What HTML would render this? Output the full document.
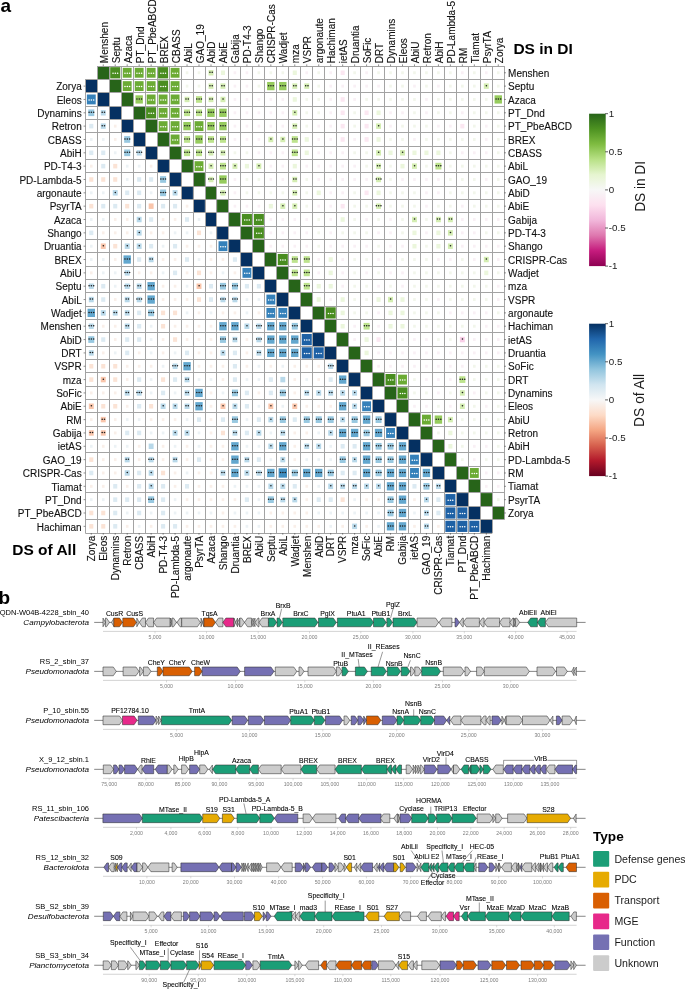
<!DOCTYPE html>
<html><head><meta charset="utf-8"><title>Figure</title>
<style>
html,body{margin:0;padding:0;background:#fff;}
body{width:685px;height:989px;overflow:hidden;}
svg{display:block;font-family:"Liberation Sans",sans-serif;will-change:transform;}
</style></head>
<body>
<svg width="685" height="989" viewBox="0 0 685 989">
<rect width="685" height="989" fill="#fff"/>
<text x="0.4" y="12.2" font-size="19" font-weight="bold">a</text>
<text x="-1.4" y="603.5" font-size="19" font-weight="bold">b</text>
<g><rect x="97.39" y="66.23" width="11.73" height="13.07" fill="#276419"/><rect x="110.20" y="67.17" width="10.05" height="11.21" fill="#498d20"/><rect x="122.77" y="67.83" width="8.86" height="9.87" fill="#6bab34"/><rect x="134.74" y="67.83" width="8.86" height="9.87" fill="#6bab34"/><rect x="146.71" y="67.83" width="8.86" height="9.87" fill="#6bab34"/><rect x="158.08" y="67.17" width="10.05" height="11.21" fill="#498d20"/><rect x="170.65" y="67.83" width="8.86" height="9.87" fill="#6bab34"/><rect x="185.73" y="71.30" width="2.63" height="2.93" fill="#f2f6eb"/><rect x="197.70" y="71.30" width="2.63" height="2.93" fill="#f2f6eb"/><rect x="208.53" y="70.04" width="4.91" height="5.47" fill="#d4edb2"/><rect x="220.92" y="70.50" width="4.07" height="4.54" fill="#ebf6dc"/><rect x="233.61" y="71.30" width="2.63" height="2.93" fill="#f9f0f5"/><rect x="245.58" y="71.30" width="2.63" height="2.93" fill="#f9f0f5"/><rect x="257.55" y="71.30" width="2.63" height="2.93" fill="#f2f6eb"/><rect x="269.52" y="71.30" width="2.63" height="2.93" fill="#f2f6eb"/><rect x="281.49" y="71.30" width="2.63" height="2.93" fill="#f2f6eb"/><rect x="292.74" y="70.50" width="4.07" height="4.54" fill="#ebf6dc"/><rect x="305.43" y="71.30" width="2.63" height="2.93" fill="#f9f0f5"/><rect x="317.40" y="71.30" width="2.63" height="2.93" fill="#f2f6eb"/><rect x="329.37" y="71.30" width="2.63" height="2.93" fill="#f9f0f5"/><rect x="340.62" y="70.50" width="4.07" height="4.54" fill="#fbe7f1"/><rect x="353.31" y="71.30" width="2.63" height="2.93" fill="#f2f6eb"/><rect x="365.28" y="71.30" width="2.63" height="2.93" fill="#f9f0f5"/><rect x="377.25" y="71.30" width="2.63" height="2.93" fill="#f2f6eb"/><rect x="389.22" y="71.30" width="2.63" height="2.93" fill="#f2f6eb"/><rect x="401.19" y="71.30" width="2.63" height="2.93" fill="#f2f6eb"/><rect x="413.16" y="71.30" width="2.63" height="2.93" fill="#f2f6eb"/><rect x="425.13" y="71.30" width="2.63" height="2.93" fill="#f2f6eb"/><rect x="437.10" y="71.30" width="2.63" height="2.93" fill="#f2f6eb"/><rect x="449.07" y="71.30" width="2.63" height="2.93" fill="#f2f6eb"/><rect x="461.04" y="71.30" width="2.63" height="2.93" fill="#f9f0f5"/><rect x="473.01" y="71.30" width="2.63" height="2.93" fill="#f2f6eb"/><rect x="484.98" y="71.30" width="2.63" height="2.93" fill="#f9f0f5"/><rect x="496.95" y="71.30" width="2.63" height="2.93" fill="#f2f6eb"/><rect x="85.42" y="79.57" width="11.73" height="13.07" fill="#053061"/><rect x="109.36" y="79.57" width="11.73" height="13.07" fill="#276419"/><rect x="122.77" y="81.17" width="8.86" height="9.87" fill="#6bab34"/><rect x="134.74" y="81.17" width="8.86" height="9.87" fill="#6bab34"/><rect x="146.71" y="81.17" width="8.86" height="9.87" fill="#6bab34"/><rect x="158.08" y="80.51" width="10.05" height="11.21" fill="#498d20"/><rect x="170.65" y="81.17" width="8.86" height="9.87" fill="#6bab34"/><rect x="185.73" y="84.64" width="2.63" height="2.93" fill="#f2f6eb"/><rect x="197.70" y="84.64" width="2.63" height="2.93" fill="#f2f6eb"/><rect x="208.53" y="83.38" width="4.91" height="5.47" fill="#d4edb2"/><rect x="220.50" y="83.38" width="4.91" height="5.47" fill="#d4edb2"/><rect x="233.61" y="84.64" width="2.63" height="2.93" fill="#f9f0f5"/><rect x="245.58" y="84.64" width="2.63" height="2.93" fill="#f9f0f5"/><rect x="257.55" y="84.64" width="2.63" height="2.93" fill="#f2f6eb"/><rect x="267.12" y="81.97" width="7.42" height="8.27" fill="#96cb5d"/><rect x="279.09" y="81.97" width="7.42" height="8.27" fill="#96cb5d"/><rect x="292.32" y="83.38" width="4.91" height="5.47" fill="#d4edb2"/><rect x="304.29" y="83.38" width="4.91" height="5.47" fill="#d4edb2"/><rect x="317.40" y="84.64" width="2.63" height="2.93" fill="#f2f6eb"/><rect x="329.37" y="84.64" width="2.63" height="2.93" fill="#f9f0f5"/><rect x="341.34" y="84.64" width="2.63" height="2.93" fill="#f9f0f5"/><rect x="353.31" y="84.64" width="2.63" height="2.93" fill="#f9f0f5"/><rect x="365.28" y="84.64" width="2.63" height="2.93" fill="#f9f0f5"/><rect x="377.25" y="84.64" width="2.63" height="2.93" fill="#f9f0f5"/><rect x="389.22" y="84.64" width="2.63" height="2.93" fill="#f2f6eb"/><rect x="401.19" y="84.64" width="2.63" height="2.93" fill="#f2f6eb"/><rect x="413.16" y="84.64" width="2.63" height="2.93" fill="#f9f0f5"/><rect x="425.13" y="84.64" width="2.63" height="2.93" fill="#f2f6eb"/><rect x="437.10" y="84.64" width="2.63" height="2.93" fill="#f9f0f5"/><rect x="449.07" y="84.64" width="2.63" height="2.93" fill="#f2f6eb"/><rect x="461.04" y="84.64" width="2.63" height="2.93" fill="#f2f6eb"/><rect x="473.01" y="84.64" width="2.63" height="2.93" fill="#f2f6eb"/><rect x="483.84" y="83.38" width="4.91" height="5.47" fill="#d4edb2"/><rect x="496.95" y="84.64" width="2.63" height="2.93" fill="#f2f6eb"/><rect x="86.86" y="94.51" width="8.86" height="9.87" fill="#3581ba"/><rect x="97.39" y="92.91" width="11.73" height="13.07" fill="#053061"/><rect x="121.33" y="92.91" width="11.73" height="13.07" fill="#276419"/><rect x="135.45" y="95.31" width="7.42" height="8.27" fill="#96cb5d"/><rect x="146.71" y="94.51" width="8.86" height="9.87" fill="#6bab34"/><rect x="158.68" y="94.51" width="8.86" height="9.87" fill="#6bab34"/><rect x="170.65" y="94.51" width="8.86" height="9.87" fill="#6bab34"/><rect x="184.59" y="96.72" width="4.91" height="5.47" fill="#d4edb2"/><rect x="196.02" y="96.11" width="5.99" height="6.67" fill="#bde38d"/><rect x="208.53" y="96.72" width="4.91" height="5.47" fill="#d4edb2"/><rect x="220.50" y="96.72" width="4.91" height="5.47" fill="#d4edb2"/><rect x="233.61" y="97.98" width="2.63" height="2.93" fill="#f9f0f5"/><rect x="245.58" y="97.98" width="2.63" height="2.93" fill="#f9f0f5"/><rect x="257.55" y="97.98" width="2.63" height="2.93" fill="#f9f0f5"/><rect x="269.52" y="97.98" width="2.63" height="2.93" fill="#f9f0f5"/><rect x="281.49" y="97.98" width="2.63" height="2.93" fill="#f9f0f5"/><rect x="292.74" y="97.18" width="4.07" height="4.54" fill="#ebf6dc"/><rect x="305.43" y="97.98" width="2.63" height="2.93" fill="#f2f6eb"/><rect x="317.40" y="97.98" width="2.63" height="2.93" fill="#f2f6eb"/><rect x="329.37" y="97.98" width="2.63" height="2.93" fill="#f9f0f5"/><rect x="340.62" y="97.18" width="4.07" height="4.54" fill="#fbe7f1"/><rect x="353.31" y="97.98" width="2.63" height="2.93" fill="#f9f0f5"/><rect x="365.28" y="97.98" width="2.63" height="2.93" fill="#f2f6eb"/><rect x="377.25" y="97.98" width="2.63" height="2.93" fill="#f2f6eb"/><rect x="389.22" y="97.98" width="2.63" height="2.93" fill="#f2f6eb"/><rect x="401.19" y="97.98" width="2.63" height="2.93" fill="#f2f6eb"/><rect x="413.16" y="97.98" width="2.63" height="2.93" fill="#f2f6eb"/><rect x="425.13" y="97.98" width="2.63" height="2.93" fill="#f9f0f5"/><rect x="437.10" y="97.98" width="2.63" height="2.93" fill="#f2f6eb"/><rect x="449.07" y="97.98" width="2.63" height="2.93" fill="#f2f6eb"/><rect x="461.04" y="97.98" width="2.63" height="2.93" fill="#f2f6eb"/><rect x="473.01" y="97.98" width="2.63" height="2.93" fill="#f2f6eb"/><rect x="484.98" y="97.98" width="2.63" height="2.93" fill="#f2f6eb"/><rect x="494.55" y="95.31" width="7.42" height="8.27" fill="#96cb5d"/><rect x="88.29" y="109.45" width="5.99" height="6.67" fill="#98c8e0"/><rect x="100.80" y="110.06" width="4.91" height="5.47" fill="#b8d8e9"/><rect x="109.36" y="106.25" width="11.73" height="13.07" fill="#053061"/><rect x="133.30" y="106.25" width="11.73" height="13.07" fill="#276419"/><rect x="146.11" y="107.19" width="10.05" height="11.21" fill="#498d20"/><rect x="158.68" y="107.85" width="8.86" height="9.87" fill="#6bab34"/><rect x="170.65" y="107.85" width="8.86" height="9.87" fill="#6bab34"/><rect x="184.05" y="109.45" width="5.99" height="6.67" fill="#bde38d"/><rect x="196.02" y="109.45" width="5.99" height="6.67" fill="#bde38d"/><rect x="207.27" y="108.65" width="7.42" height="8.27" fill="#96cb5d"/><rect x="219.24" y="108.65" width="7.42" height="8.27" fill="#96cb5d"/><rect x="233.61" y="111.32" width="2.63" height="2.93" fill="#f9f0f5"/><rect x="245.58" y="111.32" width="2.63" height="2.93" fill="#f9f0f5"/><rect x="257.55" y="111.32" width="2.63" height="2.93" fill="#f9f0f5"/><rect x="269.52" y="111.32" width="2.63" height="2.93" fill="#f9f0f5"/><rect x="281.49" y="111.32" width="2.63" height="2.93" fill="#f9f0f5"/><rect x="292.32" y="110.06" width="4.91" height="5.47" fill="#d4edb2"/><rect x="305.43" y="111.32" width="2.63" height="2.93" fill="#f2f6eb"/><rect x="317.40" y="111.32" width="2.63" height="2.93" fill="#f2f6eb"/><rect x="329.37" y="111.32" width="2.63" height="2.93" fill="#f9f0f5"/><rect x="340.62" y="110.52" width="4.07" height="4.54" fill="#fbe7f1"/><rect x="353.31" y="111.32" width="2.63" height="2.93" fill="#f2f6eb"/><rect x="364.56" y="110.52" width="4.07" height="4.54" fill="#fbe7f1"/><rect x="376.53" y="110.52" width="4.07" height="4.54" fill="#ebf6dc"/><rect x="389.22" y="111.32" width="2.63" height="2.93" fill="#f9f0f5"/><rect x="401.19" y="111.32" width="2.63" height="2.93" fill="#f9f0f5"/><rect x="413.16" y="111.32" width="2.63" height="2.93" fill="#f2f6eb"/><rect x="425.13" y="111.32" width="2.63" height="2.93" fill="#f9f0f5"/><rect x="437.10" y="111.32" width="2.63" height="2.93" fill="#f2f6eb"/><rect x="449.07" y="111.32" width="2.63" height="2.93" fill="#f2f6eb"/><rect x="461.04" y="111.32" width="2.63" height="2.93" fill="#f9f0f5"/><rect x="473.01" y="111.32" width="2.63" height="2.93" fill="#f2f6eb"/><rect x="484.98" y="111.32" width="2.63" height="2.93" fill="#f2f6eb"/><rect x="496.95" y="111.32" width="2.63" height="2.93" fill="#f2f6eb"/><rect x="89.25" y="123.86" width="4.07" height="4.54" fill="#dceaf2"/><rect x="100.80" y="123.40" width="4.91" height="5.47" fill="#b8d8e9"/><rect x="113.91" y="124.66" width="2.63" height="2.93" fill="#f9efe9"/><rect x="121.33" y="119.59" width="11.73" height="13.07" fill="#053061"/><rect x="145.27" y="119.59" width="11.73" height="13.07" fill="#276419"/><rect x="158.68" y="121.19" width="8.86" height="9.87" fill="#6bab34"/><rect x="170.65" y="121.19" width="8.86" height="9.87" fill="#6bab34"/><rect x="183.33" y="121.99" width="7.42" height="8.27" fill="#96cb5d"/><rect x="194.59" y="121.19" width="8.86" height="9.87" fill="#6bab34"/><rect x="207.27" y="121.99" width="7.42" height="8.27" fill="#96cb5d"/><rect x="219.24" y="121.99" width="7.42" height="8.27" fill="#96cb5d"/><rect x="233.61" y="124.66" width="2.63" height="2.93" fill="#f9f0f5"/><rect x="245.58" y="124.66" width="2.63" height="2.93" fill="#f9f0f5"/><rect x="257.55" y="124.66" width="2.63" height="2.93" fill="#f9f0f5"/><rect x="269.52" y="124.66" width="2.63" height="2.93" fill="#f9f0f5"/><rect x="281.49" y="124.66" width="2.63" height="2.93" fill="#f9f0f5"/><rect x="292.32" y="123.40" width="4.91" height="5.47" fill="#d4edb2"/><rect x="305.43" y="124.66" width="2.63" height="2.93" fill="#f2f6eb"/><rect x="317.40" y="124.66" width="2.63" height="2.93" fill="#f9f0f5"/><rect x="329.37" y="124.66" width="2.63" height="2.93" fill="#f9f0f5"/><rect x="340.62" y="123.86" width="4.07" height="4.54" fill="#fbe7f1"/><rect x="353.31" y="124.66" width="2.63" height="2.93" fill="#f2f6eb"/><rect x="364.56" y="123.86" width="4.07" height="4.54" fill="#fbe7f1"/><rect x="376.11" y="123.40" width="4.91" height="5.47" fill="#d4edb2"/><rect x="389.22" y="124.66" width="2.63" height="2.93" fill="#f9f0f5"/><rect x="401.19" y="124.66" width="2.63" height="2.93" fill="#f2f6eb"/><rect x="413.16" y="124.66" width="2.63" height="2.93" fill="#f2f6eb"/><rect x="425.13" y="124.66" width="2.63" height="2.93" fill="#f2f6eb"/><rect x="437.10" y="124.66" width="2.63" height="2.93" fill="#f9f0f5"/><rect x="449.07" y="124.66" width="2.63" height="2.93" fill="#f9f0f5"/><rect x="460.32" y="123.86" width="4.07" height="4.54" fill="#fbe7f1"/><rect x="473.01" y="124.66" width="2.63" height="2.93" fill="#f2f6eb"/><rect x="484.98" y="124.66" width="2.63" height="2.93" fill="#f9f0f5"/><rect x="496.95" y="124.66" width="2.63" height="2.93" fill="#f2f6eb"/><rect x="89.97" y="138.00" width="2.63" height="2.93" fill="#ecf2f5"/><rect x="101.94" y="138.00" width="2.63" height="2.93" fill="#ecf2f5"/><rect x="113.91" y="138.00" width="2.63" height="2.93" fill="#f9efe9"/><rect x="124.20" y="136.13" width="5.99" height="6.67" fill="#98c8e0"/><rect x="133.30" y="132.93" width="11.73" height="13.07" fill="#053061"/><rect x="157.24" y="132.93" width="11.73" height="13.07" fill="#276419"/><rect x="170.65" y="134.53" width="8.86" height="9.87" fill="#6bab34"/><rect x="184.05" y="136.13" width="5.99" height="6.67" fill="#bde38d"/><rect x="195.30" y="135.33" width="7.42" height="8.27" fill="#96cb5d"/><rect x="207.99" y="136.13" width="5.99" height="6.67" fill="#bde38d"/><rect x="219.96" y="136.13" width="5.99" height="6.67" fill="#bde38d"/><rect x="233.61" y="138.00" width="2.63" height="2.93" fill="#f9f0f5"/><rect x="245.58" y="138.00" width="2.63" height="2.93" fill="#f9f0f5"/><rect x="257.55" y="138.00" width="2.63" height="2.93" fill="#f9f0f5"/><rect x="268.38" y="136.74" width="4.91" height="5.47" fill="#d4edb2"/><rect x="280.35" y="136.74" width="4.91" height="5.47" fill="#d4edb2"/><rect x="291.78" y="136.13" width="5.99" height="6.67" fill="#bde38d"/><rect x="304.71" y="137.20" width="4.07" height="4.54" fill="#ebf6dc"/><rect x="317.40" y="138.00" width="2.63" height="2.93" fill="#f9f0f5"/><rect x="329.37" y="138.00" width="2.63" height="2.93" fill="#f9f0f5"/><rect x="340.62" y="137.20" width="4.07" height="4.54" fill="#fbe7f1"/><rect x="353.31" y="138.00" width="2.63" height="2.93" fill="#f9f0f5"/><rect x="364.56" y="137.20" width="4.07" height="4.54" fill="#fbe7f1"/><rect x="376.53" y="137.20" width="4.07" height="4.54" fill="#ebf6dc"/><rect x="389.22" y="138.00" width="2.63" height="2.93" fill="#f2f6eb"/><rect x="401.19" y="138.00" width="2.63" height="2.93" fill="#f2f6eb"/><rect x="413.16" y="138.00" width="2.63" height="2.93" fill="#f9f0f5"/><rect x="425.13" y="138.00" width="2.63" height="2.93" fill="#f2f6eb"/><rect x="437.10" y="138.00" width="2.63" height="2.93" fill="#f2f6eb"/><rect x="449.07" y="138.00" width="2.63" height="2.93" fill="#f2f6eb"/><rect x="461.04" y="138.00" width="2.63" height="2.93" fill="#f2f6eb"/><rect x="473.01" y="138.00" width="2.63" height="2.93" fill="#f2f6eb"/><rect x="484.98" y="138.00" width="2.63" height="2.93" fill="#f9f0f5"/><rect x="496.95" y="138.00" width="2.63" height="2.93" fill="#f2f6eb"/><rect x="89.25" y="150.54" width="4.07" height="4.54" fill="#dceaf2"/><rect x="101.22" y="150.54" width="4.07" height="4.54" fill="#dceaf2"/><rect x="113.91" y="151.34" width="2.63" height="2.93" fill="#ecf2f5"/><rect x="124.20" y="149.47" width="5.99" height="6.67" fill="#98c8e0"/><rect x="136.71" y="150.08" width="4.91" height="5.47" fill="#b8d8e9"/><rect x="145.27" y="146.27" width="11.73" height="13.07" fill="#053061"/><rect x="169.21" y="146.27" width="11.73" height="13.07" fill="#276419"/><rect x="184.05" y="149.47" width="5.99" height="6.67" fill="#bde38d"/><rect x="196.02" y="149.47" width="5.99" height="6.67" fill="#bde38d"/><rect x="208.53" y="150.08" width="4.91" height="5.47" fill="#d4edb2"/><rect x="220.50" y="150.08" width="4.91" height="5.47" fill="#d4edb2"/><rect x="233.61" y="151.34" width="2.63" height="2.93" fill="#f2f6eb"/><rect x="245.58" y="151.34" width="2.63" height="2.93" fill="#f2f6eb"/><rect x="257.55" y="151.34" width="2.63" height="2.93" fill="#f9f0f5"/><rect x="269.52" y="151.34" width="2.63" height="2.93" fill="#f9f0f5"/><rect x="281.49" y="151.34" width="2.63" height="2.93" fill="#f9f0f5"/><rect x="291.78" y="149.47" width="5.99" height="6.67" fill="#bde38d"/><rect x="304.71" y="150.54" width="4.07" height="4.54" fill="#ebf6dc"/><rect x="317.40" y="151.34" width="2.63" height="2.93" fill="#f9f0f5"/><rect x="329.37" y="151.34" width="2.63" height="2.93" fill="#f9f0f5"/><rect x="341.34" y="151.34" width="2.63" height="2.93" fill="#f9f0f5"/><rect x="353.31" y="151.34" width="2.63" height="2.93" fill="#f2f6eb"/><rect x="365.28" y="151.34" width="2.63" height="2.93" fill="#f2f6eb"/><rect x="376.11" y="150.08" width="4.91" height="5.47" fill="#d4edb2"/><rect x="388.50" y="150.54" width="4.07" height="4.54" fill="#ebf6dc"/><rect x="400.05" y="150.08" width="4.91" height="5.47" fill="#d4edb2"/><rect x="412.44" y="150.54" width="4.07" height="4.54" fill="#ebf6dc"/><rect x="424.41" y="150.54" width="4.07" height="4.54" fill="#ebf6dc"/><rect x="436.38" y="150.54" width="4.07" height="4.54" fill="#ebf6dc"/><rect x="449.07" y="151.34" width="2.63" height="2.93" fill="#f2f6eb"/><rect x="461.04" y="151.34" width="2.63" height="2.93" fill="#f9f0f5"/><rect x="473.01" y="151.34" width="2.63" height="2.93" fill="#f9f0f5"/><rect x="484.98" y="151.34" width="2.63" height="2.93" fill="#f9f0f5"/><rect x="496.95" y="151.34" width="2.63" height="2.93" fill="#f2f6eb"/><rect x="89.97" y="164.68" width="2.63" height="2.93" fill="#f9efe9"/><rect x="101.22" y="163.88" width="4.07" height="4.54" fill="#dceaf2"/><rect x="113.19" y="163.88" width="4.07" height="4.54" fill="#fbe3d5"/><rect x="125.88" y="164.68" width="2.63" height="2.93" fill="#ecf2f5"/><rect x="137.85" y="164.68" width="2.63" height="2.93" fill="#ecf2f5"/><rect x="149.82" y="164.68" width="2.63" height="2.93" fill="#f9efe9"/><rect x="157.24" y="159.61" width="11.73" height="13.07" fill="#053061"/><rect x="181.18" y="159.61" width="11.73" height="13.07" fill="#276419"/><rect x="194.59" y="161.21" width="8.86" height="9.87" fill="#6bab34"/><rect x="208.53" y="163.42" width="4.91" height="5.47" fill="#d4edb2"/><rect x="219.96" y="162.81" width="5.99" height="6.67" fill="#bde38d"/><rect x="232.47" y="163.42" width="4.91" height="5.47" fill="#d4edb2"/><rect x="244.86" y="163.88" width="4.07" height="4.54" fill="#ebf6dc"/><rect x="256.41" y="163.42" width="4.91" height="5.47" fill="#d4edb2"/><rect x="269.52" y="164.68" width="2.63" height="2.93" fill="#f9f0f5"/><rect x="281.49" y="164.68" width="2.63" height="2.93" fill="#f9f0f5"/><rect x="292.74" y="163.88" width="4.07" height="4.54" fill="#ebf6dc"/><rect x="305.43" y="164.68" width="2.63" height="2.93" fill="#f9f0f5"/><rect x="317.40" y="164.68" width="2.63" height="2.93" fill="#f9f0f5"/><rect x="329.37" y="164.68" width="2.63" height="2.93" fill="#f9f0f5"/><rect x="341.34" y="164.68" width="2.63" height="2.93" fill="#f9f0f5"/><rect x="353.31" y="164.68" width="2.63" height="2.93" fill="#f9f0f5"/><rect x="365.28" y="164.68" width="2.63" height="2.93" fill="#f2f6eb"/><rect x="376.11" y="163.42" width="4.91" height="5.47" fill="#d4edb2"/><rect x="389.22" y="164.68" width="2.63" height="2.93" fill="#f2f6eb"/><rect x="400.47" y="163.88" width="4.07" height="4.54" fill="#ebf6dc"/><rect x="412.02" y="163.42" width="4.91" height="5.47" fill="#d4edb2"/><rect x="425.13" y="164.68" width="2.63" height="2.93" fill="#f2f6eb"/><rect x="435.42" y="162.81" width="5.99" height="6.67" fill="#bde38d"/><rect x="449.07" y="164.68" width="2.63" height="2.93" fill="#f2f6eb"/><rect x="461.04" y="164.68" width="2.63" height="2.93" fill="#f2f6eb"/><rect x="473.01" y="164.68" width="2.63" height="2.93" fill="#f2f6eb"/><rect x="484.98" y="164.68" width="2.63" height="2.93" fill="#f2f6eb"/><rect x="496.95" y="164.68" width="2.63" height="2.93" fill="#f2f6eb"/><rect x="89.25" y="177.22" width="4.07" height="4.54" fill="#fbe3d5"/><rect x="101.22" y="177.22" width="4.07" height="4.54" fill="#fbe3d5"/><rect x="113.19" y="177.22" width="4.07" height="4.54" fill="#fbe3d5"/><rect x="125.88" y="178.02" width="2.63" height="2.93" fill="#ecf2f5"/><rect x="137.13" y="177.22" width="4.07" height="4.54" fill="#dceaf2"/><rect x="149.10" y="177.22" width="4.07" height="4.54" fill="#dceaf2"/><rect x="160.11" y="176.16" width="5.99" height="6.67" fill="#98c8e0"/><rect x="169.21" y="172.95" width="11.73" height="13.07" fill="#053061"/><rect x="193.15" y="172.95" width="11.73" height="13.07" fill="#276419"/><rect x="208.53" y="176.76" width="4.91" height="5.47" fill="#d4edb2"/><rect x="219.24" y="175.35" width="7.42" height="8.27" fill="#96cb5d"/><rect x="233.61" y="178.02" width="2.63" height="2.93" fill="#f9f0f5"/><rect x="245.58" y="178.02" width="2.63" height="2.93" fill="#f2f6eb"/><rect x="257.55" y="178.02" width="2.63" height="2.93" fill="#f2f6eb"/><rect x="269.52" y="178.02" width="2.63" height="2.93" fill="#f9f0f5"/><rect x="281.49" y="178.02" width="2.63" height="2.93" fill="#f9f0f5"/><rect x="292.32" y="176.76" width="4.91" height="5.47" fill="#d4edb2"/><rect x="305.43" y="178.02" width="2.63" height="2.93" fill="#f2f6eb"/><rect x="317.40" y="178.02" width="2.63" height="2.93" fill="#f9f0f5"/><rect x="329.37" y="178.02" width="2.63" height="2.93" fill="#f9f0f5"/><rect x="341.34" y="178.02" width="2.63" height="2.93" fill="#f9f0f5"/><rect x="353.31" y="178.02" width="2.63" height="2.93" fill="#f9f0f5"/><rect x="365.28" y="178.02" width="2.63" height="2.93" fill="#f9f0f5"/><rect x="376.11" y="176.76" width="4.91" height="5.47" fill="#d4edb2"/><rect x="389.22" y="178.02" width="2.63" height="2.93" fill="#f2f6eb"/><rect x="401.19" y="178.02" width="2.63" height="2.93" fill="#f9f0f5"/><rect x="413.16" y="178.02" width="2.63" height="2.93" fill="#f9f0f5"/><rect x="425.13" y="178.02" width="2.63" height="2.93" fill="#f9f0f5"/><rect x="437.10" y="178.02" width="2.63" height="2.93" fill="#f9f0f5"/><rect x="449.07" y="178.02" width="2.63" height="2.93" fill="#f2f6eb"/><rect x="461.04" y="178.02" width="2.63" height="2.93" fill="#f2f6eb"/><rect x="473.01" y="178.02" width="2.63" height="2.93" fill="#f2f6eb"/><rect x="484.98" y="178.02" width="2.63" height="2.93" fill="#f9f0f5"/><rect x="496.95" y="178.02" width="2.63" height="2.93" fill="#f2f6eb"/><rect x="89.97" y="191.36" width="2.63" height="2.93" fill="#ecf2f5"/><rect x="101.94" y="191.36" width="2.63" height="2.93" fill="#ecf2f5"/><rect x="112.77" y="190.10" width="4.91" height="5.47" fill="#b8d8e9"/><rect x="125.16" y="190.56" width="4.07" height="4.54" fill="#dceaf2"/><rect x="137.13" y="190.56" width="4.07" height="4.54" fill="#dceaf2"/><rect x="149.82" y="191.36" width="2.63" height="2.93" fill="#ecf2f5"/><rect x="160.11" y="189.49" width="5.99" height="6.67" fill="#98c8e0"/><rect x="172.62" y="190.10" width="4.91" height="5.47" fill="#b8d8e9"/><rect x="181.18" y="186.29" width="11.73" height="13.07" fill="#053061"/><rect x="205.12" y="186.29" width="11.73" height="13.07" fill="#276419"/><rect x="220.50" y="190.10" width="4.91" height="5.47" fill="#d4edb2"/><rect x="233.61" y="191.36" width="2.63" height="2.93" fill="#f9f0f5"/><rect x="245.58" y="191.36" width="2.63" height="2.93" fill="#f2f6eb"/><rect x="257.55" y="191.36" width="2.63" height="2.93" fill="#f2f6eb"/><rect x="269.52" y="191.36" width="2.63" height="2.93" fill="#f2f6eb"/><rect x="281.49" y="191.36" width="2.63" height="2.93" fill="#f2f6eb"/><rect x="292.32" y="190.10" width="4.91" height="5.47" fill="#d4edb2"/><rect x="305.43" y="191.36" width="2.63" height="2.93" fill="#f2f6eb"/><rect x="316.68" y="190.56" width="4.07" height="4.54" fill="#ebf6dc"/><rect x="329.37" y="191.36" width="2.63" height="2.93" fill="#f9f0f5"/><rect x="341.34" y="191.36" width="2.63" height="2.93" fill="#f9f0f5"/><rect x="353.31" y="191.36" width="2.63" height="2.93" fill="#f2f6eb"/><rect x="364.56" y="190.56" width="4.07" height="4.54" fill="#fbe7f1"/><rect x="376.53" y="190.56" width="4.07" height="4.54" fill="#ebf6dc"/><rect x="389.22" y="191.36" width="2.63" height="2.93" fill="#f2f6eb"/><rect x="401.19" y="191.36" width="2.63" height="2.93" fill="#f2f6eb"/><rect x="413.16" y="191.36" width="2.63" height="2.93" fill="#f2f6eb"/><rect x="425.13" y="191.36" width="2.63" height="2.93" fill="#f9f0f5"/><rect x="437.10" y="191.36" width="2.63" height="2.93" fill="#f9f0f5"/><rect x="449.07" y="191.36" width="2.63" height="2.93" fill="#f2f6eb"/><rect x="461.04" y="191.36" width="2.63" height="2.93" fill="#f2f6eb"/><rect x="473.01" y="191.36" width="2.63" height="2.93" fill="#f2f6eb"/><rect x="484.98" y="191.36" width="2.63" height="2.93" fill="#f2f6eb"/><rect x="496.95" y="191.36" width="2.63" height="2.93" fill="#f2f6eb"/><rect x="89.25" y="203.90" width="4.07" height="4.54" fill="#fbe3d5"/><rect x="101.22" y="203.90" width="4.07" height="4.54" fill="#dceaf2"/><rect x="113.19" y="203.90" width="4.07" height="4.54" fill="#dceaf2"/><rect x="125.16" y="203.90" width="4.07" height="4.54" fill="#fbe3d5"/><rect x="137.13" y="203.90" width="4.07" height="4.54" fill="#dceaf2"/><rect x="148.68" y="203.44" width="4.91" height="5.47" fill="#f9c5ab"/><rect x="161.07" y="203.90" width="4.07" height="4.54" fill="#dceaf2"/><rect x="173.04" y="203.90" width="4.07" height="4.54" fill="#dceaf2"/><rect x="185.73" y="204.70" width="2.63" height="2.93" fill="#f9efe9"/><rect x="193.15" y="199.63" width="11.73" height="13.07" fill="#053061"/><rect x="217.09" y="199.63" width="11.73" height="13.07" fill="#276419"/><rect x="233.61" y="204.70" width="2.63" height="2.93" fill="#f9f0f5"/><rect x="245.58" y="204.70" width="2.63" height="2.93" fill="#f9f0f5"/><rect x="257.55" y="204.70" width="2.63" height="2.93" fill="#f9f0f5"/><rect x="268.80" y="203.90" width="4.07" height="4.54" fill="#ebf6dc"/><rect x="280.35" y="203.44" width="4.91" height="5.47" fill="#d4edb2"/><rect x="292.32" y="203.44" width="4.91" height="5.47" fill="#d4edb2"/><rect x="305.43" y="204.70" width="2.63" height="2.93" fill="#f2f6eb"/><rect x="317.40" y="204.70" width="2.63" height="2.93" fill="#f9f0f5"/><rect x="329.37" y="204.70" width="2.63" height="2.93" fill="#f9f0f5"/><rect x="340.62" y="203.90" width="4.07" height="4.54" fill="#fbe7f1"/><rect x="353.31" y="204.70" width="2.63" height="2.93" fill="#f2f6eb"/><rect x="365.28" y="204.70" width="2.63" height="2.93" fill="#f2f6eb"/><rect x="376.11" y="203.44" width="4.91" height="5.47" fill="#d4edb2"/><rect x="389.22" y="204.70" width="2.63" height="2.93" fill="#f2f6eb"/><rect x="401.19" y="204.70" width="2.63" height="2.93" fill="#f2f6eb"/><rect x="413.16" y="204.70" width="2.63" height="2.93" fill="#f2f6eb"/><rect x="425.13" y="204.70" width="2.63" height="2.93" fill="#f9f0f5"/><rect x="437.10" y="204.70" width="2.63" height="2.93" fill="#f2f6eb"/><rect x="449.07" y="204.70" width="2.63" height="2.93" fill="#f2f6eb"/><rect x="461.04" y="204.70" width="2.63" height="2.93" fill="#f9f0f5"/><rect x="473.01" y="204.70" width="2.63" height="2.93" fill="#f2f6eb"/><rect x="484.98" y="204.70" width="2.63" height="2.93" fill="#f2f6eb"/><rect x="496.95" y="204.70" width="2.63" height="2.93" fill="#f2f6eb"/><rect x="89.97" y="218.04" width="2.63" height="2.93" fill="#ecf2f5"/><rect x="101.94" y="218.04" width="2.63" height="2.93" fill="#ecf2f5"/><rect x="113.91" y="218.04" width="2.63" height="2.93" fill="#f9efe9"/><rect x="125.88" y="218.04" width="2.63" height="2.93" fill="#f9efe9"/><rect x="136.71" y="216.78" width="4.91" height="5.47" fill="#b8d8e9"/><rect x="149.10" y="217.24" width="4.07" height="4.54" fill="#dceaf2"/><rect x="161.79" y="218.04" width="2.63" height="2.93" fill="#f9efe9"/><rect x="173.76" y="218.04" width="2.63" height="2.93" fill="#f9efe9"/><rect x="185.01" y="217.24" width="4.07" height="4.54" fill="#dceaf2"/><rect x="197.70" y="218.04" width="2.63" height="2.93" fill="#ecf2f5"/><rect x="205.12" y="212.97" width="11.73" height="13.07" fill="#053061"/><rect x="229.06" y="212.97" width="11.73" height="13.07" fill="#276419"/><rect x="241.87" y="213.91" width="10.05" height="11.21" fill="#498d20"/><rect x="253.84" y="213.91" width="10.05" height="11.21" fill="#498d20"/><rect x="269.52" y="218.04" width="2.63" height="2.93" fill="#f9f0f5"/><rect x="281.49" y="218.04" width="2.63" height="2.93" fill="#f9f0f5"/><rect x="293.46" y="218.04" width="2.63" height="2.93" fill="#f9f0f5"/><rect x="305.43" y="218.04" width="2.63" height="2.93" fill="#f9f0f5"/><rect x="317.40" y="218.04" width="2.63" height="2.93" fill="#f2f6eb"/><rect x="329.37" y="218.04" width="2.63" height="2.93" fill="#f9f0f5"/><rect x="340.62" y="217.24" width="4.07" height="4.54" fill="#ebf6dc"/><rect x="353.31" y="218.04" width="2.63" height="2.93" fill="#f2f6eb"/><rect x="365.28" y="218.04" width="2.63" height="2.93" fill="#f9f0f5"/><rect x="377.25" y="218.04" width="2.63" height="2.93" fill="#f2f6eb"/><rect x="389.22" y="218.04" width="2.63" height="2.93" fill="#f9f0f5"/><rect x="401.19" y="218.04" width="2.63" height="2.93" fill="#f2f6eb"/><rect x="412.02" y="216.78" width="4.91" height="5.47" fill="#d4edb2"/><rect x="425.13" y="218.04" width="2.63" height="2.93" fill="#f2f6eb"/><rect x="435.96" y="216.78" width="4.91" height="5.47" fill="#d4edb2"/><rect x="447.93" y="216.78" width="4.91" height="5.47" fill="#d4edb2"/><rect x="461.04" y="218.04" width="2.63" height="2.93" fill="#f9f0f5"/><rect x="473.01" y="218.04" width="2.63" height="2.93" fill="#f9f0f5"/><rect x="484.98" y="218.04" width="2.63" height="2.93" fill="#f9f0f5"/><rect x="496.95" y="218.04" width="2.63" height="2.93" fill="#f9f0f5"/><rect x="89.25" y="230.58" width="4.07" height="4.54" fill="#dceaf2"/><rect x="101.94" y="231.38" width="2.63" height="2.93" fill="#f9efe9"/><rect x="113.91" y="231.38" width="2.63" height="2.93" fill="#f9efe9"/><rect x="125.88" y="231.38" width="2.63" height="2.93" fill="#f9efe9"/><rect x="136.71" y="230.12" width="4.91" height="5.47" fill="#b8d8e9"/><rect x="149.82" y="231.38" width="2.63" height="2.93" fill="#f9efe9"/><rect x="161.79" y="231.38" width="2.63" height="2.93" fill="#f9efe9"/><rect x="173.76" y="231.38" width="2.63" height="2.93" fill="#ecf2f5"/><rect x="185.73" y="231.38" width="2.63" height="2.93" fill="#ecf2f5"/><rect x="196.98" y="230.58" width="4.07" height="4.54" fill="#fbe3d5"/><rect x="209.67" y="231.38" width="2.63" height="2.93" fill="#ecf2f5"/><rect x="217.09" y="226.31" width="11.73" height="13.07" fill="#053061"/><rect x="241.03" y="226.31" width="11.73" height="13.07" fill="#276419"/><rect x="253.84" y="227.25" width="10.05" height="11.21" fill="#498d20"/><rect x="269.52" y="231.38" width="2.63" height="2.93" fill="#f9f0f5"/><rect x="281.49" y="231.38" width="2.63" height="2.93" fill="#f9f0f5"/><rect x="293.46" y="231.38" width="2.63" height="2.93" fill="#f9f0f5"/><rect x="305.43" y="231.38" width="2.63" height="2.93" fill="#f9f0f5"/><rect x="317.40" y="231.38" width="2.63" height="2.93" fill="#f2f6eb"/><rect x="329.37" y="231.38" width="2.63" height="2.93" fill="#f9f0f5"/><rect x="341.34" y="231.38" width="2.63" height="2.93" fill="#f2f6eb"/><rect x="353.31" y="231.38" width="2.63" height="2.93" fill="#f2f6eb"/><rect x="365.28" y="231.38" width="2.63" height="2.93" fill="#f2f6eb"/><rect x="377.25" y="231.38" width="2.63" height="2.93" fill="#f9f0f5"/><rect x="389.22" y="231.38" width="2.63" height="2.93" fill="#f9f0f5"/><rect x="401.19" y="231.38" width="2.63" height="2.93" fill="#f2f6eb"/><rect x="412.44" y="230.58" width="4.07" height="4.54" fill="#ebf6dc"/><rect x="425.13" y="231.38" width="2.63" height="2.93" fill="#f9f0f5"/><rect x="436.38" y="230.58" width="4.07" height="4.54" fill="#ebf6dc"/><rect x="447.93" y="230.12" width="4.91" height="5.47" fill="#d4edb2"/><rect x="461.04" y="231.38" width="2.63" height="2.93" fill="#f9f0f5"/><rect x="473.01" y="231.38" width="2.63" height="2.93" fill="#f9f0f5"/><rect x="484.98" y="231.38" width="2.63" height="2.93" fill="#f2f6eb"/><rect x="496.95" y="231.38" width="2.63" height="2.93" fill="#f2f6eb"/><rect x="89.97" y="244.72" width="2.63" height="2.93" fill="#ecf2f5"/><rect x="100.80" y="243.46" width="4.91" height="5.47" fill="#f9c5ab"/><rect x="113.19" y="243.92" width="4.07" height="4.54" fill="#fbe3d5"/><rect x="124.74" y="243.46" width="4.91" height="5.47" fill="#b8d8e9"/><rect x="136.71" y="243.46" width="4.91" height="5.47" fill="#b8d8e9"/><rect x="149.10" y="243.92" width="4.07" height="4.54" fill="#dceaf2"/><rect x="161.79" y="244.72" width="2.63" height="2.93" fill="#ecf2f5"/><rect x="173.04" y="243.92" width="4.07" height="4.54" fill="#dceaf2"/><rect x="185.73" y="244.72" width="2.63" height="2.93" fill="#f9efe9"/><rect x="197.70" y="244.72" width="2.63" height="2.93" fill="#f9efe9"/><rect x="209.67" y="244.72" width="2.63" height="2.93" fill="#f9efe9"/><rect x="218.53" y="241.25" width="8.86" height="9.87" fill="#3581ba"/><rect x="229.06" y="239.65" width="11.73" height="13.07" fill="#053061"/><rect x="253.00" y="239.65" width="11.73" height="13.07" fill="#276419"/><rect x="269.52" y="244.72" width="2.63" height="2.93" fill="#f9f0f5"/><rect x="281.49" y="244.72" width="2.63" height="2.93" fill="#f9f0f5"/><rect x="293.46" y="244.72" width="2.63" height="2.93" fill="#f9f0f5"/><rect x="305.43" y="244.72" width="2.63" height="2.93" fill="#f9f0f5"/><rect x="317.40" y="244.72" width="2.63" height="2.93" fill="#f2f6eb"/><rect x="329.37" y="244.72" width="2.63" height="2.93" fill="#f9f0f5"/><rect x="341.34" y="244.72" width="2.63" height="2.93" fill="#f9f0f5"/><rect x="353.31" y="244.72" width="2.63" height="2.93" fill="#f9f0f5"/><rect x="365.28" y="244.72" width="2.63" height="2.93" fill="#f9f0f5"/><rect x="377.25" y="244.72" width="2.63" height="2.93" fill="#f2f6eb"/><rect x="389.22" y="244.72" width="2.63" height="2.93" fill="#f9f0f5"/><rect x="401.19" y="244.72" width="2.63" height="2.93" fill="#f9f0f5"/><rect x="412.44" y="243.92" width="4.07" height="4.54" fill="#ebf6dc"/><rect x="425.13" y="244.72" width="2.63" height="2.93" fill="#f2f6eb"/><rect x="436.38" y="243.92" width="4.07" height="4.54" fill="#ebf6dc"/><rect x="447.93" y="243.46" width="4.91" height="5.47" fill="#d4edb2"/><rect x="461.04" y="244.72" width="2.63" height="2.93" fill="#f9f0f5"/><rect x="473.01" y="244.72" width="2.63" height="2.93" fill="#f9f0f5"/><rect x="484.98" y="244.72" width="2.63" height="2.93" fill="#f9f0f5"/><rect x="496.95" y="244.72" width="2.63" height="2.93" fill="#f9f0f5"/><rect x="89.97" y="258.06" width="2.63" height="2.93" fill="#ecf2f5"/><rect x="101.94" y="258.06" width="2.63" height="2.93" fill="#ecf2f5"/><rect x="113.91" y="258.06" width="2.63" height="2.93" fill="#f9efe9"/><rect x="123.48" y="255.39" width="7.42" height="8.27" fill="#63a7ce"/><rect x="137.13" y="257.26" width="4.07" height="4.54" fill="#dceaf2"/><rect x="148.68" y="256.80" width="4.91" height="5.47" fill="#b8d8e9"/><rect x="161.79" y="258.06" width="2.63" height="2.93" fill="#f9efe9"/><rect x="173.76" y="258.06" width="2.63" height="2.93" fill="#f9efe9"/><rect x="185.01" y="257.26" width="4.07" height="4.54" fill="#dceaf2"/><rect x="197.70" y="258.06" width="2.63" height="2.93" fill="#ecf2f5"/><rect x="209.67" y="258.06" width="2.63" height="2.93" fill="#f9efe9"/><rect x="221.64" y="258.06" width="2.63" height="2.93" fill="#f9efe9"/><rect x="232.89" y="257.26" width="4.07" height="4.54" fill="#dceaf2"/><rect x="241.03" y="252.99" width="11.73" height="13.07" fill="#053061"/><rect x="264.97" y="252.99" width="11.73" height="13.07" fill="#276419"/><rect x="277.78" y="253.93" width="10.05" height="11.21" fill="#498d20"/><rect x="291.78" y="256.19" width="5.99" height="6.67" fill="#bde38d"/><rect x="303.75" y="256.19" width="5.99" height="6.67" fill="#bde38d"/><rect x="317.40" y="258.06" width="2.63" height="2.93" fill="#f9f0f5"/><rect x="328.65" y="257.26" width="4.07" height="4.54" fill="#ebf6dc"/><rect x="341.34" y="258.06" width="2.63" height="2.93" fill="#f9f0f5"/><rect x="353.31" y="258.06" width="2.63" height="2.93" fill="#f2f6eb"/><rect x="365.28" y="258.06" width="2.63" height="2.93" fill="#f2f6eb"/><rect x="377.25" y="258.06" width="2.63" height="2.93" fill="#f9f0f5"/><rect x="389.22" y="258.06" width="2.63" height="2.93" fill="#f9f0f5"/><rect x="401.19" y="258.06" width="2.63" height="2.93" fill="#f2f6eb"/><rect x="413.16" y="258.06" width="2.63" height="2.93" fill="#f2f6eb"/><rect x="425.13" y="258.06" width="2.63" height="2.93" fill="#f2f6eb"/><rect x="437.10" y="258.06" width="2.63" height="2.93" fill="#f9f0f5"/><rect x="449.07" y="258.06" width="2.63" height="2.93" fill="#f9f0f5"/><rect x="461.04" y="258.06" width="2.63" height="2.93" fill="#f2f6eb"/><rect x="473.01" y="258.06" width="2.63" height="2.93" fill="#f9f0f5"/><rect x="483.84" y="256.80" width="4.91" height="5.47" fill="#d4edb2"/><rect x="496.95" y="258.06" width="2.63" height="2.93" fill="#f9f0f5"/><rect x="89.97" y="271.40" width="2.63" height="2.93" fill="#f9efe9"/><rect x="101.94" y="271.40" width="2.63" height="2.93" fill="#ecf2f5"/><rect x="113.91" y="271.40" width="2.63" height="2.93" fill="#ecf2f5"/><rect x="124.74" y="270.14" width="4.91" height="5.47" fill="#b8d8e9"/><rect x="137.85" y="271.40" width="2.63" height="2.93" fill="#f9efe9"/><rect x="149.82" y="271.40" width="2.63" height="2.93" fill="#f9efe9"/><rect x="161.79" y="271.40" width="2.63" height="2.93" fill="#ecf2f5"/><rect x="173.04" y="270.60" width="4.07" height="4.54" fill="#dceaf2"/><rect x="185.73" y="271.40" width="2.63" height="2.93" fill="#f9efe9"/><rect x="196.98" y="270.60" width="4.07" height="4.54" fill="#fbe3d5"/><rect x="209.67" y="271.40" width="2.63" height="2.93" fill="#f9efe9"/><rect x="221.64" y="271.40" width="2.63" height="2.93" fill="#ecf2f5"/><rect x="233.61" y="271.40" width="2.63" height="2.93" fill="#f9efe9"/><rect x="242.47" y="267.93" width="8.86" height="9.87" fill="#3581ba"/><rect x="253.00" y="266.33" width="11.73" height="13.07" fill="#053061"/><rect x="276.94" y="266.33" width="11.73" height="13.07" fill="#276419"/><rect x="291.78" y="269.54" width="5.99" height="6.67" fill="#bde38d"/><rect x="303.75" y="269.54" width="5.99" height="6.67" fill="#bde38d"/><rect x="317.40" y="271.40" width="2.63" height="2.93" fill="#f9f0f5"/><rect x="328.65" y="270.60" width="4.07" height="4.54" fill="#ebf6dc"/><rect x="341.34" y="271.40" width="2.63" height="2.93" fill="#f9f0f5"/><rect x="353.31" y="271.40" width="2.63" height="2.93" fill="#f2f6eb"/><rect x="365.28" y="271.40" width="2.63" height="2.93" fill="#f9f0f5"/><rect x="377.25" y="271.40" width="2.63" height="2.93" fill="#f2f6eb"/><rect x="389.22" y="271.40" width="2.63" height="2.93" fill="#f9f0f5"/><rect x="401.19" y="271.40" width="2.63" height="2.93" fill="#f9f0f5"/><rect x="413.16" y="271.40" width="2.63" height="2.93" fill="#f2f6eb"/><rect x="425.13" y="271.40" width="2.63" height="2.93" fill="#f2f6eb"/><rect x="437.10" y="271.40" width="2.63" height="2.93" fill="#f2f6eb"/><rect x="449.07" y="271.40" width="2.63" height="2.93" fill="#f2f6eb"/><rect x="461.04" y="271.40" width="2.63" height="2.93" fill="#f2f6eb"/><rect x="473.01" y="271.40" width="2.63" height="2.93" fill="#f2f6eb"/><rect x="484.26" y="270.60" width="4.07" height="4.54" fill="#ebf6dc"/><rect x="496.95" y="271.40" width="2.63" height="2.93" fill="#f2f6eb"/><rect x="88.83" y="283.48" width="4.91" height="5.47" fill="#b8d8e9"/><rect x="101.22" y="283.94" width="4.07" height="4.54" fill="#dceaf2"/><rect x="113.91" y="284.74" width="2.63" height="2.93" fill="#ecf2f5"/><rect x="124.74" y="283.48" width="4.91" height="5.47" fill="#b8d8e9"/><rect x="136.71" y="283.48" width="4.91" height="5.47" fill="#b8d8e9"/><rect x="147.42" y="282.07" width="7.42" height="8.27" fill="#63a7ce"/><rect x="161.79" y="284.74" width="2.63" height="2.93" fill="#f9efe9"/><rect x="173.76" y="284.74" width="2.63" height="2.93" fill="#f9efe9"/><rect x="185.73" y="284.74" width="2.63" height="2.93" fill="#ecf2f5"/><rect x="196.56" y="283.48" width="4.91" height="5.47" fill="#f9c5ab"/><rect x="208.95" y="283.94" width="4.07" height="4.54" fill="#dceaf2"/><rect x="219.96" y="282.88" width="5.99" height="6.67" fill="#98c8e0"/><rect x="231.93" y="282.88" width="5.99" height="6.67" fill="#98c8e0"/><rect x="244.86" y="283.94" width="4.07" height="4.54" fill="#dceaf2"/><rect x="256.83" y="283.94" width="4.07" height="4.54" fill="#dceaf2"/><rect x="264.97" y="279.67" width="11.73" height="13.07" fill="#053061"/><rect x="288.91" y="279.67" width="11.73" height="13.07" fill="#276419"/><rect x="303.75" y="282.88" width="5.99" height="6.67" fill="#bde38d"/><rect x="316.68" y="283.94" width="4.07" height="4.54" fill="#ebf6dc"/><rect x="328.65" y="283.94" width="4.07" height="4.54" fill="#ebf6dc"/><rect x="341.34" y="284.74" width="2.63" height="2.93" fill="#f9f0f5"/><rect x="353.31" y="284.74" width="2.63" height="2.93" fill="#f2f6eb"/><rect x="365.28" y="284.74" width="2.63" height="2.93" fill="#f2f6eb"/><rect x="377.25" y="284.74" width="2.63" height="2.93" fill="#f9f0f5"/><rect x="389.22" y="284.74" width="2.63" height="2.93" fill="#f2f6eb"/><rect x="401.19" y="284.74" width="2.63" height="2.93" fill="#f9f0f5"/><rect x="413.16" y="284.74" width="2.63" height="2.93" fill="#f2f6eb"/><rect x="425.13" y="284.74" width="2.63" height="2.93" fill="#f2f6eb"/><rect x="437.10" y="284.74" width="2.63" height="2.93" fill="#f2f6eb"/><rect x="449.07" y="284.74" width="2.63" height="2.93" fill="#f2f6eb"/><rect x="461.04" y="284.74" width="2.63" height="2.93" fill="#f2f6eb"/><rect x="473.01" y="284.74" width="2.63" height="2.93" fill="#f2f6eb"/><rect x="484.98" y="284.74" width="2.63" height="2.93" fill="#f2f6eb"/><rect x="496.95" y="284.74" width="2.63" height="2.93" fill="#f9f0f5"/><rect x="88.83" y="296.82" width="4.91" height="5.47" fill="#b8d8e9"/><rect x="101.22" y="297.28" width="4.07" height="4.54" fill="#dceaf2"/><rect x="113.91" y="298.08" width="2.63" height="2.93" fill="#f9efe9"/><rect x="124.74" y="296.82" width="4.91" height="5.47" fill="#b8d8e9"/><rect x="136.71" y="296.82" width="4.91" height="5.47" fill="#b8d8e9"/><rect x="147.42" y="295.41" width="7.42" height="8.27" fill="#63a7ce"/><rect x="161.79" y="298.08" width="2.63" height="2.93" fill="#f9efe9"/><rect x="173.76" y="298.08" width="2.63" height="2.93" fill="#f9efe9"/><rect x="185.73" y="298.08" width="2.63" height="2.93" fill="#f9efe9"/><rect x="196.98" y="297.28" width="4.07" height="4.54" fill="#fbe3d5"/><rect x="208.95" y="297.28" width="4.07" height="4.54" fill="#dceaf2"/><rect x="220.50" y="296.82" width="4.91" height="5.47" fill="#b8d8e9"/><rect x="232.47" y="296.82" width="4.91" height="5.47" fill="#b8d8e9"/><rect x="245.58" y="298.08" width="2.63" height="2.93" fill="#ecf2f5"/><rect x="257.55" y="298.08" width="2.63" height="2.93" fill="#ecf2f5"/><rect x="266.41" y="294.61" width="8.86" height="9.87" fill="#3581ba"/><rect x="276.94" y="293.01" width="11.73" height="13.07" fill="#053061"/><rect x="300.88" y="293.01" width="11.73" height="13.07" fill="#276419"/><rect x="316.68" y="297.28" width="4.07" height="4.54" fill="#ebf6dc"/><rect x="329.37" y="298.08" width="2.63" height="2.93" fill="#f9f0f5"/><rect x="340.62" y="297.28" width="4.07" height="4.54" fill="#ebf6dc"/><rect x="353.31" y="298.08" width="2.63" height="2.93" fill="#f2f6eb"/><rect x="365.28" y="298.08" width="2.63" height="2.93" fill="#f2f6eb"/><rect x="376.53" y="297.28" width="4.07" height="4.54" fill="#ebf6dc"/><rect x="388.08" y="296.82" width="4.91" height="5.47" fill="#d4edb2"/><rect x="400.47" y="297.28" width="4.07" height="4.54" fill="#ebf6dc"/><rect x="413.16" y="298.08" width="2.63" height="2.93" fill="#f2f6eb"/><rect x="425.13" y="298.08" width="2.63" height="2.93" fill="#f2f6eb"/><rect x="437.10" y="298.08" width="2.63" height="2.93" fill="#f9f0f5"/><rect x="449.07" y="298.08" width="2.63" height="2.93" fill="#f2f6eb"/><rect x="461.04" y="298.08" width="2.63" height="2.93" fill="#f2f6eb"/><rect x="473.01" y="298.08" width="2.63" height="2.93" fill="#f2f6eb"/><rect x="484.98" y="298.08" width="2.63" height="2.93" fill="#f2f6eb"/><rect x="496.95" y="298.08" width="2.63" height="2.93" fill="#f9f0f5"/><rect x="87.57" y="308.75" width="7.42" height="8.27" fill="#63a7ce"/><rect x="100.80" y="310.16" width="4.91" height="5.47" fill="#b8d8e9"/><rect x="112.77" y="310.16" width="4.91" height="5.47" fill="#b8d8e9"/><rect x="124.74" y="310.16" width="4.91" height="5.47" fill="#b8d8e9"/><rect x="137.13" y="310.62" width="4.07" height="4.54" fill="#dceaf2"/><rect x="148.14" y="309.56" width="5.99" height="6.67" fill="#98c8e0"/><rect x="161.07" y="310.62" width="4.07" height="4.54" fill="#fbe3d5"/><rect x="173.04" y="310.62" width="4.07" height="4.54" fill="#fbe3d5"/><rect x="185.73" y="311.42" width="2.63" height="2.93" fill="#ecf2f5"/><rect x="197.70" y="311.42" width="2.63" height="2.93" fill="#f9efe9"/><rect x="209.67" y="311.42" width="2.63" height="2.93" fill="#ecf2f5"/><rect x="221.64" y="311.42" width="2.63" height="2.93" fill="#f9efe9"/><rect x="233.61" y="311.42" width="2.63" height="2.93" fill="#f9efe9"/><rect x="245.58" y="311.42" width="2.63" height="2.93" fill="#ecf2f5"/><rect x="257.55" y="311.42" width="2.63" height="2.93" fill="#f9efe9"/><rect x="266.41" y="307.95" width="8.86" height="9.87" fill="#3581ba"/><rect x="278.38" y="307.95" width="8.86" height="9.87" fill="#3581ba"/><rect x="288.91" y="306.35" width="11.73" height="13.07" fill="#053061"/><rect x="312.85" y="306.35" width="11.73" height="13.07" fill="#276419"/><rect x="325.66" y="307.29" width="10.05" height="11.21" fill="#498d20"/><rect x="340.62" y="310.62" width="4.07" height="4.54" fill="#ebf6dc"/><rect x="353.31" y="311.42" width="2.63" height="2.93" fill="#f2f6eb"/><rect x="365.28" y="311.42" width="2.63" height="2.93" fill="#f2f6eb"/><rect x="377.25" y="311.42" width="2.63" height="2.93" fill="#f9f0f5"/><rect x="388.50" y="310.62" width="4.07" height="4.54" fill="#ebf6dc"/><rect x="400.47" y="310.62" width="4.07" height="4.54" fill="#ebf6dc"/><rect x="413.16" y="311.42" width="2.63" height="2.93" fill="#f2f6eb"/><rect x="425.13" y="311.42" width="2.63" height="2.93" fill="#f2f6eb"/><rect x="437.10" y="311.42" width="2.63" height="2.93" fill="#f2f6eb"/><rect x="449.07" y="311.42" width="2.63" height="2.93" fill="#f9f0f5"/><rect x="461.04" y="311.42" width="2.63" height="2.93" fill="#f9f0f5"/><rect x="473.01" y="311.42" width="2.63" height="2.93" fill="#f9f0f5"/><rect x="484.98" y="311.42" width="2.63" height="2.93" fill="#f9f0f5"/><rect x="496.95" y="311.42" width="2.63" height="2.93" fill="#f2f6eb"/><rect x="88.83" y="323.50" width="4.91" height="5.47" fill="#b8d8e9"/><rect x="101.94" y="324.76" width="2.63" height="2.93" fill="#f9efe9"/><rect x="113.91" y="324.76" width="2.63" height="2.93" fill="#f9efe9"/><rect x="124.74" y="323.50" width="4.91" height="5.47" fill="#b8d8e9"/><rect x="137.13" y="323.96" width="4.07" height="4.54" fill="#dceaf2"/><rect x="149.82" y="324.76" width="2.63" height="2.93" fill="#ecf2f5"/><rect x="161.07" y="323.96" width="4.07" height="4.54" fill="#fbe3d5"/><rect x="173.76" y="324.76" width="2.63" height="2.93" fill="#f9efe9"/><rect x="185.73" y="324.76" width="2.63" height="2.93" fill="#f9efe9"/><rect x="197.70" y="324.76" width="2.63" height="2.93" fill="#f9efe9"/><rect x="209.67" y="324.76" width="2.63" height="2.93" fill="#f9efe9"/><rect x="219.24" y="322.09" width="7.42" height="8.27" fill="#63a7ce"/><rect x="231.21" y="322.09" width="7.42" height="8.27" fill="#63a7ce"/><rect x="244.44" y="323.50" width="4.91" height="5.47" fill="#b8d8e9"/><rect x="256.41" y="323.50" width="4.91" height="5.47" fill="#b8d8e9"/><rect x="267.12" y="322.09" width="7.42" height="8.27" fill="#63a7ce"/><rect x="279.09" y="322.09" width="7.42" height="8.27" fill="#63a7ce"/><rect x="291.78" y="322.90" width="5.99" height="6.67" fill="#98c8e0"/><rect x="300.88" y="319.69" width="11.73" height="13.07" fill="#053061"/><rect x="324.82" y="319.69" width="11.73" height="13.07" fill="#276419"/><rect x="340.62" y="323.96" width="4.07" height="4.54" fill="#ebf6dc"/><rect x="353.31" y="324.76" width="2.63" height="2.93" fill="#f9f0f5"/><rect x="363.60" y="322.90" width="5.99" height="6.67" fill="#bde38d"/><rect x="377.25" y="324.76" width="2.63" height="2.93" fill="#f9f0f5"/><rect x="388.50" y="323.96" width="4.07" height="4.54" fill="#ebf6dc"/><rect x="400.47" y="323.96" width="4.07" height="4.54" fill="#ebf6dc"/><rect x="413.16" y="324.76" width="2.63" height="2.93" fill="#f2f6eb"/><rect x="425.13" y="324.76" width="2.63" height="2.93" fill="#f2f6eb"/><rect x="437.10" y="324.76" width="2.63" height="2.93" fill="#f2f6eb"/><rect x="449.07" y="324.76" width="2.63" height="2.93" fill="#f2f6eb"/><rect x="461.04" y="324.76" width="2.63" height="2.93" fill="#f2f6eb"/><rect x="473.01" y="324.76" width="2.63" height="2.93" fill="#f2f6eb"/><rect x="484.98" y="324.76" width="2.63" height="2.93" fill="#f9f0f5"/><rect x="496.95" y="324.76" width="2.63" height="2.93" fill="#f9f0f5"/><rect x="88.29" y="336.23" width="5.99" height="6.67" fill="#98c8e0"/><rect x="101.22" y="337.30" width="4.07" height="4.54" fill="#dceaf2"/><rect x="113.91" y="338.10" width="2.63" height="2.93" fill="#f9efe9"/><rect x="125.16" y="337.30" width="4.07" height="4.54" fill="#dceaf2"/><rect x="137.13" y="337.30" width="4.07" height="4.54" fill="#dceaf2"/><rect x="149.82" y="338.10" width="2.63" height="2.93" fill="#ecf2f5"/><rect x="161.79" y="338.10" width="2.63" height="2.93" fill="#f9efe9"/><rect x="173.04" y="337.30" width="4.07" height="4.54" fill="#fbe3d5"/><rect x="185.73" y="338.10" width="2.63" height="2.93" fill="#f9efe9"/><rect x="197.70" y="338.10" width="2.63" height="2.93" fill="#f9efe9"/><rect x="209.67" y="338.10" width="2.63" height="2.93" fill="#f9efe9"/><rect x="219.96" y="336.23" width="5.99" height="6.67" fill="#98c8e0"/><rect x="232.47" y="336.84" width="4.91" height="5.47" fill="#b8d8e9"/><rect x="245.58" y="338.10" width="2.63" height="2.93" fill="#f9efe9"/><rect x="256.41" y="336.84" width="4.91" height="5.47" fill="#b8d8e9"/><rect x="267.12" y="335.43" width="7.42" height="8.27" fill="#63a7ce"/><rect x="279.09" y="335.43" width="7.42" height="8.27" fill="#63a7ce"/><rect x="291.06" y="335.43" width="7.42" height="8.27" fill="#63a7ce"/><rect x="301.72" y="333.97" width="10.05" height="11.21" fill="#1e61a5"/><rect x="312.85" y="333.03" width="11.73" height="13.07" fill="#053061"/><rect x="336.79" y="333.03" width="11.73" height="13.07" fill="#276419"/><rect x="353.31" y="338.10" width="2.63" height="2.93" fill="#f9f0f5"/><rect x="364.56" y="337.30" width="4.07" height="4.54" fill="#ebf6dc"/><rect x="376.53" y="337.30" width="4.07" height="4.54" fill="#fbe7f1"/><rect x="389.22" y="338.10" width="2.63" height="2.93" fill="#f9f0f5"/><rect x="401.19" y="338.10" width="2.63" height="2.93" fill="#f2f6eb"/><rect x="413.16" y="338.10" width="2.63" height="2.93" fill="#f9f0f5"/><rect x="425.13" y="338.10" width="2.63" height="2.93" fill="#f9f0f5"/><rect x="437.10" y="338.10" width="2.63" height="2.93" fill="#f2f6eb"/><rect x="449.07" y="338.10" width="2.63" height="2.93" fill="#f2f6eb"/><rect x="459.90" y="336.84" width="4.91" height="5.47" fill="#f8cfe7"/><rect x="473.01" y="338.10" width="2.63" height="2.93" fill="#f9f0f5"/><rect x="484.98" y="338.10" width="2.63" height="2.93" fill="#f9f0f5"/><rect x="496.95" y="338.10" width="2.63" height="2.93" fill="#f9f0f5"/><rect x="88.83" y="350.18" width="4.91" height="5.47" fill="#b8d8e9"/><rect x="101.94" y="351.44" width="2.63" height="2.93" fill="#f9efe9"/><rect x="113.91" y="351.44" width="2.63" height="2.93" fill="#ecf2f5"/><rect x="125.16" y="350.64" width="4.07" height="4.54" fill="#dceaf2"/><rect x="137.85" y="351.44" width="2.63" height="2.93" fill="#f9efe9"/><rect x="149.82" y="351.44" width="2.63" height="2.93" fill="#ecf2f5"/><rect x="161.79" y="351.44" width="2.63" height="2.93" fill="#f9efe9"/><rect x="173.76" y="351.44" width="2.63" height="2.93" fill="#ecf2f5"/><rect x="185.01" y="350.64" width="4.07" height="4.54" fill="#dceaf2"/><rect x="197.70" y="351.44" width="2.63" height="2.93" fill="#f9efe9"/><rect x="209.67" y="351.44" width="2.63" height="2.93" fill="#f9efe9"/><rect x="220.50" y="350.18" width="4.91" height="5.47" fill="#b8d8e9"/><rect x="232.89" y="350.64" width="4.07" height="4.54" fill="#dceaf2"/><rect x="245.58" y="351.44" width="2.63" height="2.93" fill="#f9efe9"/><rect x="256.41" y="350.18" width="4.91" height="5.47" fill="#b8d8e9"/><rect x="267.12" y="348.77" width="7.42" height="8.27" fill="#63a7ce"/><rect x="279.09" y="348.77" width="7.42" height="8.27" fill="#63a7ce"/><rect x="291.06" y="348.77" width="7.42" height="8.27" fill="#63a7ce"/><rect x="301.72" y="347.31" width="10.05" height="11.21" fill="#1e61a5"/><rect x="313.69" y="347.31" width="10.05" height="11.21" fill="#1e61a5"/><rect x="324.82" y="346.37" width="11.73" height="13.07" fill="#053061"/><rect x="348.76" y="346.37" width="11.73" height="13.07" fill="#276419"/><rect x="364.56" y="350.64" width="4.07" height="4.54" fill="#ebf6dc"/><rect x="377.25" y="351.44" width="2.63" height="2.93" fill="#f9f0f5"/><rect x="389.22" y="351.44" width="2.63" height="2.93" fill="#f9f0f5"/><rect x="401.19" y="351.44" width="2.63" height="2.93" fill="#f9f0f5"/><rect x="413.16" y="351.44" width="2.63" height="2.93" fill="#f9f0f5"/><rect x="425.13" y="351.44" width="2.63" height="2.93" fill="#f9f0f5"/><rect x="437.10" y="351.44" width="2.63" height="2.93" fill="#f9f0f5"/><rect x="449.07" y="351.44" width="2.63" height="2.93" fill="#f9f0f5"/><rect x="461.04" y="351.44" width="2.63" height="2.93" fill="#f9f0f5"/><rect x="473.01" y="351.44" width="2.63" height="2.93" fill="#f9f0f5"/><rect x="484.98" y="351.44" width="2.63" height="2.93" fill="#f9f0f5"/><rect x="496.95" y="351.44" width="2.63" height="2.93" fill="#f9f0f5"/><rect x="89.25" y="363.98" width="4.07" height="4.54" fill="#fbe3d5"/><rect x="101.22" y="363.98" width="4.07" height="4.54" fill="#fbe3d5"/><rect x="113.19" y="363.98" width="4.07" height="4.54" fill="#fbe3d5"/><rect x="125.88" y="364.78" width="2.63" height="2.93" fill="#f9efe9"/><rect x="137.85" y="364.78" width="2.63" height="2.93" fill="#f9efe9"/><rect x="149.82" y="364.78" width="2.63" height="2.93" fill="#f9efe9"/><rect x="161.79" y="364.78" width="2.63" height="2.93" fill="#ecf2f5"/><rect x="172.62" y="363.52" width="4.91" height="5.47" fill="#b8d8e9"/><rect x="183.33" y="362.11" width="7.42" height="8.27" fill="#63a7ce"/><rect x="197.70" y="364.78" width="2.63" height="2.93" fill="#f9efe9"/><rect x="209.67" y="364.78" width="2.63" height="2.93" fill="#f9efe9"/><rect x="221.64" y="364.78" width="2.63" height="2.93" fill="#f9efe9"/><rect x="232.89" y="363.98" width="4.07" height="4.54" fill="#dceaf2"/><rect x="245.58" y="364.78" width="2.63" height="2.93" fill="#f9efe9"/><rect x="257.55" y="364.78" width="2.63" height="2.93" fill="#ecf2f5"/><rect x="269.52" y="364.78" width="2.63" height="2.93" fill="#f9efe9"/><rect x="281.49" y="364.78" width="2.63" height="2.93" fill="#ecf2f5"/><rect x="293.46" y="364.78" width="2.63" height="2.93" fill="#f9efe9"/><rect x="305.43" y="364.78" width="2.63" height="2.93" fill="#f9efe9"/><rect x="317.40" y="364.78" width="2.63" height="2.93" fill="#f9efe9"/><rect x="328.23" y="363.52" width="4.91" height="5.47" fill="#b8d8e9"/><rect x="336.79" y="359.71" width="11.73" height="13.07" fill="#053061"/><rect x="360.73" y="359.71" width="11.73" height="13.07" fill="#276419"/><rect x="377.25" y="364.78" width="2.63" height="2.93" fill="#f9f0f5"/><rect x="389.22" y="364.78" width="2.63" height="2.93" fill="#f9f0f5"/><rect x="401.19" y="364.78" width="2.63" height="2.93" fill="#f9f0f5"/><rect x="413.16" y="364.78" width="2.63" height="2.93" fill="#f9f0f5"/><rect x="425.13" y="364.78" width="2.63" height="2.93" fill="#f9f0f5"/><rect x="437.10" y="364.78" width="2.63" height="2.93" fill="#f9f0f5"/><rect x="449.07" y="364.78" width="2.63" height="2.93" fill="#f9f0f5"/><rect x="461.04" y="364.78" width="2.63" height="2.93" fill="#f9f0f5"/><rect x="473.01" y="364.78" width="2.63" height="2.93" fill="#f2f6eb"/><rect x="484.98" y="364.78" width="2.63" height="2.93" fill="#f2f6eb"/><rect x="496.95" y="364.78" width="2.63" height="2.93" fill="#f2f6eb"/><rect x="89.25" y="377.32" width="4.07" height="4.54" fill="#fbe3d5"/><rect x="100.80" y="376.86" width="4.91" height="5.47" fill="#f9c5ab"/><rect x="113.19" y="377.32" width="4.07" height="4.54" fill="#fbe3d5"/><rect x="125.88" y="378.12" width="2.63" height="2.93" fill="#f9efe9"/><rect x="137.13" y="377.32" width="4.07" height="4.54" fill="#dceaf2"/><rect x="149.82" y="378.12" width="2.63" height="2.93" fill="#ecf2f5"/><rect x="161.07" y="377.32" width="4.07" height="4.54" fill="#fbe3d5"/><rect x="173.04" y="377.32" width="4.07" height="4.54" fill="#dceaf2"/><rect x="184.59" y="376.86" width="4.91" height="5.47" fill="#b8d8e9"/><rect x="197.70" y="378.12" width="2.63" height="2.93" fill="#ecf2f5"/><rect x="209.67" y="378.12" width="2.63" height="2.93" fill="#ecf2f5"/><rect x="221.64" y="378.12" width="2.63" height="2.93" fill="#f9efe9"/><rect x="232.89" y="377.32" width="4.07" height="4.54" fill="#dceaf2"/><rect x="245.58" y="378.12" width="2.63" height="2.93" fill="#ecf2f5"/><rect x="257.55" y="378.12" width="2.63" height="2.93" fill="#ecf2f5"/><rect x="268.80" y="377.32" width="4.07" height="4.54" fill="#dceaf2"/><rect x="280.35" y="376.86" width="4.91" height="5.47" fill="#b8d8e9"/><rect x="293.46" y="378.12" width="2.63" height="2.93" fill="#f9efe9"/><rect x="305.43" y="378.12" width="2.63" height="2.93" fill="#ecf2f5"/><rect x="317.40" y="378.12" width="2.63" height="2.93" fill="#f9efe9"/><rect x="328.65" y="377.32" width="4.07" height="4.54" fill="#dceaf2"/><rect x="338.94" y="375.45" width="7.42" height="8.27" fill="#63a7ce"/><rect x="348.76" y="373.05" width="11.73" height="13.07" fill="#053061"/><rect x="372.70" y="373.05" width="11.73" height="13.07" fill="#276419"/><rect x="385.51" y="373.99" width="10.05" height="11.21" fill="#498d20"/><rect x="398.08" y="374.65" width="8.86" height="9.87" fill="#6bab34"/><rect x="413.16" y="378.12" width="2.63" height="2.93" fill="#f2f6eb"/><rect x="425.13" y="378.12" width="2.63" height="2.93" fill="#f9f0f5"/><rect x="437.10" y="378.12" width="2.63" height="2.93" fill="#f9f0f5"/><rect x="449.07" y="378.12" width="2.63" height="2.93" fill="#f9f0f5"/><rect x="459.36" y="376.26" width="5.99" height="6.67" fill="#bde38d"/><rect x="473.01" y="378.12" width="2.63" height="2.93" fill="#f2f6eb"/><rect x="484.98" y="378.12" width="2.63" height="2.93" fill="#f2f6eb"/><rect x="496.95" y="378.12" width="2.63" height="2.93" fill="#f2f6eb"/><rect x="89.97" y="391.46" width="2.63" height="2.93" fill="#f9efe9"/><rect x="101.94" y="391.46" width="2.63" height="2.93" fill="#f9efe9"/><rect x="113.91" y="391.46" width="2.63" height="2.93" fill="#f9efe9"/><rect x="124.74" y="390.20" width="4.91" height="5.47" fill="#b8d8e9"/><rect x="136.71" y="390.20" width="4.91" height="5.47" fill="#b8d8e9"/><rect x="149.82" y="391.46" width="2.63" height="2.93" fill="#ecf2f5"/><rect x="161.07" y="390.66" width="4.07" height="4.54" fill="#dceaf2"/><rect x="173.76" y="391.46" width="2.63" height="2.93" fill="#ecf2f5"/><rect x="184.59" y="390.20" width="4.91" height="5.47" fill="#b8d8e9"/><rect x="195.30" y="388.79" width="7.42" height="8.27" fill="#63a7ce"/><rect x="209.67" y="391.46" width="2.63" height="2.93" fill="#f9efe9"/><rect x="221.64" y="391.46" width="2.63" height="2.93" fill="#ecf2f5"/><rect x="231.93" y="389.59" width="5.99" height="6.67" fill="#98c8e0"/><rect x="244.86" y="390.66" width="4.07" height="4.54" fill="#dceaf2"/><rect x="257.55" y="391.46" width="2.63" height="2.93" fill="#f9efe9"/><rect x="268.80" y="390.66" width="4.07" height="4.54" fill="#dceaf2"/><rect x="279.81" y="389.59" width="5.99" height="6.67" fill="#98c8e0"/><rect x="293.46" y="391.46" width="2.63" height="2.93" fill="#f9efe9"/><rect x="304.29" y="390.20" width="4.91" height="5.47" fill="#b8d8e9"/><rect x="316.26" y="390.20" width="4.91" height="5.47" fill="#b8d8e9"/><rect x="328.23" y="390.20" width="4.91" height="5.47" fill="#b8d8e9"/><rect x="340.20" y="390.20" width="4.91" height="5.47" fill="#b8d8e9"/><rect x="352.17" y="390.20" width="4.91" height="5.47" fill="#b8d8e9"/><rect x="360.73" y="386.39" width="11.73" height="13.07" fill="#053061"/><rect x="384.67" y="386.39" width="11.73" height="13.07" fill="#276419"/><rect x="397.48" y="387.33" width="10.05" height="11.21" fill="#498d20"/><rect x="413.16" y="391.46" width="2.63" height="2.93" fill="#f2f6eb"/><rect x="425.13" y="391.46" width="2.63" height="2.93" fill="#f2f6eb"/><rect x="437.10" y="391.46" width="2.63" height="2.93" fill="#f9f0f5"/><rect x="449.07" y="391.46" width="2.63" height="2.93" fill="#f2f6eb"/><rect x="459.90" y="390.20" width="4.91" height="5.47" fill="#d4edb2"/><rect x="473.01" y="391.46" width="2.63" height="2.93" fill="#f9f0f5"/><rect x="484.98" y="391.46" width="2.63" height="2.93" fill="#f2f6eb"/><rect x="496.95" y="391.46" width="2.63" height="2.93" fill="#f2f6eb"/><rect x="88.83" y="403.54" width="4.91" height="5.47" fill="#f9c5ab"/><rect x="101.22" y="404.00" width="4.07" height="4.54" fill="#fbe3d5"/><rect x="113.19" y="404.00" width="4.07" height="4.54" fill="#fbe3d5"/><rect x="125.88" y="404.80" width="2.63" height="2.93" fill="#f9efe9"/><rect x="137.13" y="404.00" width="4.07" height="4.54" fill="#dceaf2"/><rect x="149.10" y="404.00" width="4.07" height="4.54" fill="#fbe3d5"/><rect x="160.65" y="403.54" width="4.91" height="5.47" fill="#b8d8e9"/><rect x="172.62" y="403.54" width="4.91" height="5.47" fill="#b8d8e9"/><rect x="184.59" y="403.54" width="4.91" height="5.47" fill="#b8d8e9"/><rect x="195.30" y="402.13" width="7.42" height="8.27" fill="#63a7ce"/><rect x="209.67" y="404.80" width="2.63" height="2.93" fill="#f9efe9"/><rect x="220.50" y="403.54" width="4.91" height="5.47" fill="#f9c5ab"/><rect x="232.47" y="403.54" width="4.91" height="5.47" fill="#b8d8e9"/><rect x="244.86" y="404.00" width="4.07" height="4.54" fill="#dceaf2"/><rect x="257.55" y="404.80" width="2.63" height="2.93" fill="#ecf2f5"/><rect x="268.38" y="403.54" width="4.91" height="5.47" fill="#f9c5ab"/><rect x="281.49" y="404.80" width="2.63" height="2.93" fill="#ecf2f5"/><rect x="292.32" y="403.54" width="4.91" height="5.47" fill="#f9c5ab"/><rect x="305.43" y="404.80" width="2.63" height="2.93" fill="#f9efe9"/><rect x="317.40" y="404.80" width="2.63" height="2.93" fill="#f9efe9"/><rect x="329.37" y="404.80" width="2.63" height="2.93" fill="#f9efe9"/><rect x="338.94" y="402.13" width="7.42" height="8.27" fill="#63a7ce"/><rect x="352.17" y="403.54" width="4.91" height="5.47" fill="#b8d8e9"/><rect x="362.17" y="401.33" width="8.86" height="9.87" fill="#3581ba"/><rect x="372.70" y="399.73" width="11.73" height="13.07" fill="#053061"/><rect x="396.64" y="399.73" width="11.73" height="13.07" fill="#276419"/><rect x="413.16" y="404.80" width="2.63" height="2.93" fill="#f9f0f5"/><rect x="425.13" y="404.80" width="2.63" height="2.93" fill="#f9f0f5"/><rect x="437.10" y="404.80" width="2.63" height="2.93" fill="#f2f6eb"/><rect x="449.07" y="404.80" width="2.63" height="2.93" fill="#f9f0f5"/><rect x="459.90" y="403.54" width="4.91" height="5.47" fill="#d4edb2"/><rect x="473.01" y="404.80" width="2.63" height="2.93" fill="#f2f6eb"/><rect x="484.98" y="404.80" width="2.63" height="2.93" fill="#f9f0f5"/><rect x="496.95" y="404.80" width="2.63" height="2.93" fill="#f2f6eb"/><rect x="89.97" y="418.14" width="2.63" height="2.93" fill="#f9efe9"/><rect x="100.80" y="416.88" width="4.91" height="5.47" fill="#f9c5ab"/><rect x="113.91" y="418.14" width="2.63" height="2.93" fill="#f9efe9"/><rect x="125.88" y="418.14" width="2.63" height="2.93" fill="#ecf2f5"/><rect x="137.85" y="418.14" width="2.63" height="2.93" fill="#ecf2f5"/><rect x="149.82" y="418.14" width="2.63" height="2.93" fill="#f9efe9"/><rect x="161.79" y="418.14" width="2.63" height="2.93" fill="#f9efe9"/><rect x="173.76" y="418.14" width="2.63" height="2.93" fill="#f9efe9"/><rect x="185.73" y="418.14" width="2.63" height="2.93" fill="#ecf2f5"/><rect x="196.98" y="417.34" width="4.07" height="4.54" fill="#dceaf2"/><rect x="209.67" y="418.14" width="2.63" height="2.93" fill="#f9efe9"/><rect x="220.92" y="417.34" width="4.07" height="4.54" fill="#dceaf2"/><rect x="231.93" y="416.28" width="5.99" height="6.67" fill="#98c8e0"/><rect x="245.58" y="418.14" width="2.63" height="2.93" fill="#ecf2f5"/><rect x="256.83" y="417.34" width="4.07" height="4.54" fill="#dceaf2"/><rect x="268.38" y="416.88" width="4.91" height="5.47" fill="#b8d8e9"/><rect x="279.81" y="416.28" width="5.99" height="6.67" fill="#98c8e0"/><rect x="292.74" y="417.34" width="4.07" height="4.54" fill="#dceaf2"/><rect x="303.75" y="416.28" width="5.99" height="6.67" fill="#98c8e0"/><rect x="315.72" y="416.28" width="5.99" height="6.67" fill="#98c8e0"/><rect x="327.69" y="416.28" width="5.99" height="6.67" fill="#98c8e0"/><rect x="340.20" y="416.88" width="4.91" height="5.47" fill="#b8d8e9"/><rect x="351.63" y="416.28" width="5.99" height="6.67" fill="#98c8e0"/><rect x="362.88" y="415.47" width="7.42" height="8.27" fill="#63a7ce"/><rect x="375.57" y="416.28" width="5.99" height="6.67" fill="#98c8e0"/><rect x="384.67" y="413.07" width="11.73" height="13.07" fill="#053061"/><rect x="408.61" y="413.07" width="11.73" height="13.07" fill="#276419"/><rect x="422.02" y="414.67" width="8.86" height="9.87" fill="#6bab34"/><rect x="434.70" y="415.47" width="7.42" height="8.27" fill="#96cb5d"/><rect x="447.93" y="416.88" width="4.91" height="5.47" fill="#d4edb2"/><rect x="461.04" y="418.14" width="2.63" height="2.93" fill="#f2f6eb"/><rect x="473.01" y="418.14" width="2.63" height="2.93" fill="#f2f6eb"/><rect x="484.98" y="418.14" width="2.63" height="2.93" fill="#f2f6eb"/><rect x="496.95" y="418.14" width="2.63" height="2.93" fill="#f2f6eb"/><rect x="88.83" y="430.22" width="4.91" height="5.47" fill="#f9c5ab"/><rect x="100.80" y="430.22" width="4.91" height="5.47" fill="#f9c5ab"/><rect x="113.91" y="431.48" width="2.63" height="2.93" fill="#f9efe9"/><rect x="125.16" y="430.68" width="4.07" height="4.54" fill="#dceaf2"/><rect x="137.13" y="430.68" width="4.07" height="4.54" fill="#dceaf2"/><rect x="149.82" y="431.48" width="2.63" height="2.93" fill="#ecf2f5"/><rect x="161.79" y="431.48" width="2.63" height="2.93" fill="#ecf2f5"/><rect x="172.62" y="430.22" width="4.91" height="5.47" fill="#b8d8e9"/><rect x="184.59" y="430.22" width="4.91" height="5.47" fill="#b8d8e9"/><rect x="197.70" y="431.48" width="2.63" height="2.93" fill="#ecf2f5"/><rect x="209.67" y="431.48" width="2.63" height="2.93" fill="#f9efe9"/><rect x="220.92" y="430.68" width="4.07" height="4.54" fill="#fbe3d5"/><rect x="232.47" y="430.22" width="4.91" height="5.47" fill="#b8d8e9"/><rect x="244.86" y="430.68" width="4.07" height="4.54" fill="#dceaf2"/><rect x="256.41" y="430.22" width="4.91" height="5.47" fill="#b8d8e9"/><rect x="269.52" y="431.48" width="2.63" height="2.93" fill="#ecf2f5"/><rect x="280.35" y="430.22" width="4.91" height="5.47" fill="#b8d8e9"/><rect x="293.46" y="431.48" width="2.63" height="2.93" fill="#f9efe9"/><rect x="305.43" y="431.48" width="2.63" height="2.93" fill="#f9efe9"/><rect x="317.40" y="431.48" width="2.63" height="2.93" fill="#ecf2f5"/><rect x="328.23" y="430.22" width="4.91" height="5.47" fill="#b8d8e9"/><rect x="338.94" y="428.81" width="7.42" height="8.27" fill="#63a7ce"/><rect x="350.91" y="428.81" width="7.42" height="8.27" fill="#63a7ce"/><rect x="363.60" y="429.62" width="5.99" height="6.67" fill="#98c8e0"/><rect x="374.85" y="428.81" width="7.42" height="8.27" fill="#63a7ce"/><rect x="386.11" y="428.01" width="8.86" height="9.87" fill="#3581ba"/><rect x="396.64" y="426.41" width="11.73" height="13.07" fill="#053061"/><rect x="420.58" y="426.41" width="11.73" height="13.07" fill="#276419"/><rect x="437.10" y="431.48" width="2.63" height="2.93" fill="#f2f6eb"/><rect x="448.35" y="430.68" width="4.07" height="4.54" fill="#ebf6dc"/><rect x="461.04" y="431.48" width="2.63" height="2.93" fill="#f2f6eb"/><rect x="473.01" y="431.48" width="2.63" height="2.93" fill="#f2f6eb"/><rect x="484.98" y="431.48" width="2.63" height="2.93" fill="#f2f6eb"/><rect x="496.95" y="431.48" width="2.63" height="2.93" fill="#f2f6eb"/><rect x="89.97" y="444.82" width="2.63" height="2.93" fill="#ecf2f5"/><rect x="101.94" y="444.82" width="2.63" height="2.93" fill="#f9efe9"/><rect x="113.91" y="444.82" width="2.63" height="2.93" fill="#ecf2f5"/><rect x="125.88" y="444.82" width="2.63" height="2.93" fill="#ecf2f5"/><rect x="137.85" y="444.82" width="2.63" height="2.93" fill="#f9efe9"/><rect x="148.68" y="443.56" width="4.91" height="5.47" fill="#b8d8e9"/><rect x="161.79" y="444.82" width="2.63" height="2.93" fill="#f9efe9"/><rect x="173.76" y="444.82" width="2.63" height="2.93" fill="#ecf2f5"/><rect x="185.73" y="444.82" width="2.63" height="2.93" fill="#f9efe9"/><rect x="197.70" y="444.82" width="2.63" height="2.93" fill="#ecf2f5"/><rect x="209.67" y="444.82" width="2.63" height="2.93" fill="#f9efe9"/><rect x="221.64" y="444.82" width="2.63" height="2.93" fill="#f9efe9"/><rect x="231.21" y="442.15" width="7.42" height="8.27" fill="#63a7ce"/><rect x="245.58" y="444.82" width="2.63" height="2.93" fill="#ecf2f5"/><rect x="257.55" y="444.82" width="2.63" height="2.93" fill="#ecf2f5"/><rect x="268.38" y="443.56" width="4.91" height="5.47" fill="#b8d8e9"/><rect x="279.09" y="442.15" width="7.42" height="8.27" fill="#63a7ce"/><rect x="293.46" y="444.82" width="2.63" height="2.93" fill="#f9efe9"/><rect x="304.29" y="443.56" width="4.91" height="5.47" fill="#b8d8e9"/><rect x="316.26" y="443.56" width="4.91" height="5.47" fill="#b8d8e9"/><rect x="329.37" y="444.82" width="2.63" height="2.93" fill="#ecf2f5"/><rect x="340.62" y="444.02" width="4.07" height="4.54" fill="#dceaf2"/><rect x="352.59" y="444.02" width="4.07" height="4.54" fill="#dceaf2"/><rect x="362.88" y="442.15" width="7.42" height="8.27" fill="#63a7ce"/><rect x="375.57" y="442.95" width="5.99" height="6.67" fill="#98c8e0"/><rect x="387.54" y="442.95" width="5.99" height="6.67" fill="#98c8e0"/><rect x="398.79" y="442.15" width="7.42" height="8.27" fill="#63a7ce"/><rect x="408.61" y="439.75" width="11.73" height="13.07" fill="#053061"/><rect x="432.55" y="439.75" width="11.73" height="13.07" fill="#276419"/><rect x="448.35" y="444.02" width="4.07" height="4.54" fill="#ebf6dc"/><rect x="461.04" y="444.82" width="2.63" height="2.93" fill="#f2f6eb"/><rect x="473.01" y="444.82" width="2.63" height="2.93" fill="#f9f0f5"/><rect x="484.98" y="444.82" width="2.63" height="2.93" fill="#f9f0f5"/><rect x="496.95" y="444.82" width="2.63" height="2.93" fill="#f2f6eb"/><rect x="89.25" y="457.36" width="4.07" height="4.54" fill="#fbe3d5"/><rect x="101.94" y="458.16" width="2.63" height="2.93" fill="#f9efe9"/><rect x="113.91" y="458.16" width="2.63" height="2.93" fill="#f9efe9"/><rect x="124.74" y="456.90" width="4.91" height="5.47" fill="#b8d8e9"/><rect x="137.85" y="458.16" width="2.63" height="2.93" fill="#f9efe9"/><rect x="148.68" y="456.90" width="4.91" height="5.47" fill="#b8d8e9"/><rect x="161.79" y="458.16" width="2.63" height="2.93" fill="#f9efe9"/><rect x="172.62" y="456.90" width="4.91" height="5.47" fill="#b8d8e9"/><rect x="185.73" y="458.16" width="2.63" height="2.93" fill="#f9efe9"/><rect x="196.98" y="457.36" width="4.07" height="4.54" fill="#dceaf2"/><rect x="209.67" y="458.16" width="2.63" height="2.93" fill="#f9efe9"/><rect x="221.64" y="458.16" width="2.63" height="2.93" fill="#f9efe9"/><rect x="231.21" y="455.49" width="7.42" height="8.27" fill="#63a7ce"/><rect x="244.44" y="456.90" width="4.91" height="5.47" fill="#b8d8e9"/><rect x="256.83" y="457.36" width="4.07" height="4.54" fill="#dceaf2"/><rect x="269.52" y="458.16" width="2.63" height="2.93" fill="#ecf2f5"/><rect x="280.35" y="456.90" width="4.91" height="5.47" fill="#b8d8e9"/><rect x="293.46" y="458.16" width="2.63" height="2.93" fill="#f9efe9"/><rect x="305.43" y="458.16" width="2.63" height="2.93" fill="#ecf2f5"/><rect x="317.40" y="458.16" width="2.63" height="2.93" fill="#ecf2f5"/><rect x="329.37" y="458.16" width="2.63" height="2.93" fill="#ecf2f5"/><rect x="339.66" y="456.30" width="5.99" height="6.67" fill="#98c8e0"/><rect x="352.17" y="456.90" width="4.91" height="5.47" fill="#b8d8e9"/><rect x="362.88" y="455.49" width="7.42" height="8.27" fill="#63a7ce"/><rect x="375.57" y="456.30" width="5.99" height="6.67" fill="#98c8e0"/><rect x="387.54" y="456.30" width="5.99" height="6.67" fill="#98c8e0"/><rect x="398.79" y="455.49" width="7.42" height="8.27" fill="#63a7ce"/><rect x="410.05" y="454.69" width="8.86" height="9.87" fill="#3581ba"/><rect x="420.58" y="453.09" width="11.73" height="13.07" fill="#053061"/><rect x="444.52" y="453.09" width="11.73" height="13.07" fill="#276419"/><rect x="461.04" y="458.16" width="2.63" height="2.93" fill="#f2f6eb"/><rect x="473.01" y="458.16" width="2.63" height="2.93" fill="#f9f0f5"/><rect x="484.98" y="458.16" width="2.63" height="2.93" fill="#f2f6eb"/><rect x="496.95" y="458.16" width="2.63" height="2.93" fill="#f2f6eb"/><rect x="89.25" y="470.70" width="4.07" height="4.54" fill="#dceaf2"/><rect x="101.94" y="471.50" width="2.63" height="2.93" fill="#f9efe9"/><rect x="113.91" y="471.50" width="2.63" height="2.93" fill="#f9efe9"/><rect x="124.74" y="470.24" width="4.91" height="5.47" fill="#b8d8e9"/><rect x="137.13" y="470.70" width="4.07" height="4.54" fill="#dceaf2"/><rect x="148.68" y="470.24" width="4.91" height="5.47" fill="#b8d8e9"/><rect x="161.07" y="470.70" width="4.07" height="4.54" fill="#fbe3d5"/><rect x="173.76" y="471.50" width="2.63" height="2.93" fill="#f9efe9"/><rect x="185.73" y="471.50" width="2.63" height="2.93" fill="#ecf2f5"/><rect x="197.70" y="471.50" width="2.63" height="2.93" fill="#f9efe9"/><rect x="209.67" y="471.50" width="2.63" height="2.93" fill="#f9efe9"/><rect x="220.50" y="470.24" width="4.91" height="5.47" fill="#b8d8e9"/><rect x="231.21" y="468.83" width="7.42" height="8.27" fill="#63a7ce"/><rect x="244.44" y="470.24" width="4.91" height="5.47" fill="#b8d8e9"/><rect x="256.41" y="470.24" width="4.91" height="5.47" fill="#b8d8e9"/><rect x="267.12" y="468.83" width="7.42" height="8.27" fill="#63a7ce"/><rect x="278.62" y="468.30" width="8.38" height="9.34" fill="#408ec1"/><rect x="291.78" y="469.64" width="5.99" height="6.67" fill="#98c8e0"/><rect x="303.03" y="468.83" width="7.42" height="8.27" fill="#63a7ce"/><rect x="315.00" y="468.83" width="7.42" height="8.27" fill="#63a7ce"/><rect x="327.69" y="469.64" width="5.99" height="6.67" fill="#98c8e0"/><rect x="340.62" y="470.70" width="4.07" height="4.54" fill="#dceaf2"/><rect x="352.59" y="470.70" width="4.07" height="4.54" fill="#dceaf2"/><rect x="362.88" y="468.83" width="7.42" height="8.27" fill="#63a7ce"/><rect x="375.57" y="469.64" width="5.99" height="6.67" fill="#98c8e0"/><rect x="386.82" y="468.83" width="7.42" height="8.27" fill="#63a7ce"/><rect x="398.79" y="468.83" width="7.42" height="8.27" fill="#63a7ce"/><rect x="410.05" y="468.03" width="8.86" height="9.87" fill="#3581ba"/><rect x="422.73" y="468.83" width="7.42" height="8.27" fill="#63a7ce"/><rect x="432.55" y="466.43" width="11.73" height="13.07" fill="#053061"/><rect x="456.49" y="466.43" width="11.73" height="13.07" fill="#276419"/><rect x="469.90" y="468.03" width="8.86" height="9.87" fill="#6bab34"/><rect x="484.98" y="471.50" width="2.63" height="2.93" fill="#f9f0f5"/><rect x="496.95" y="471.50" width="2.63" height="2.93" fill="#f9f0f5"/><rect x="89.97" y="484.84" width="2.63" height="2.93" fill="#f9efe9"/><rect x="101.94" y="484.84" width="2.63" height="2.93" fill="#f9efe9"/><rect x="113.19" y="484.04" width="4.07" height="4.54" fill="#dceaf2"/><rect x="125.88" y="484.84" width="2.63" height="2.93" fill="#f9efe9"/><rect x="137.13" y="484.04" width="4.07" height="4.54" fill="#dceaf2"/><rect x="148.68" y="483.58" width="4.91" height="5.47" fill="#b8d8e9"/><rect x="161.07" y="484.04" width="4.07" height="4.54" fill="#dceaf2"/><rect x="173.76" y="484.84" width="2.63" height="2.93" fill="#f9efe9"/><rect x="185.01" y="484.04" width="4.07" height="4.54" fill="#dceaf2"/><rect x="197.70" y="484.84" width="2.63" height="2.93" fill="#f9efe9"/><rect x="209.67" y="484.84" width="2.63" height="2.93" fill="#f9efe9"/><rect x="221.64" y="484.84" width="2.63" height="2.93" fill="#f9efe9"/><rect x="233.61" y="484.84" width="2.63" height="2.93" fill="#ecf2f5"/><rect x="245.58" y="484.84" width="2.63" height="2.93" fill="#ecf2f5"/><rect x="257.55" y="484.84" width="2.63" height="2.93" fill="#ecf2f5"/><rect x="268.38" y="483.58" width="4.91" height="5.47" fill="#b8d8e9"/><rect x="280.35" y="483.58" width="4.91" height="5.47" fill="#b8d8e9"/><rect x="292.74" y="484.04" width="4.07" height="4.54" fill="#dceaf2"/><rect x="305.43" y="484.84" width="2.63" height="2.93" fill="#f9efe9"/><rect x="317.40" y="484.84" width="2.63" height="2.93" fill="#ecf2f5"/><rect x="328.23" y="483.58" width="4.91" height="5.47" fill="#b8d8e9"/><rect x="340.20" y="483.58" width="4.91" height="5.47" fill="#b8d8e9"/><rect x="352.17" y="483.58" width="4.91" height="5.47" fill="#b8d8e9"/><rect x="364.14" y="483.58" width="4.91" height="5.47" fill="#b8d8e9"/><rect x="376.11" y="483.58" width="4.91" height="5.47" fill="#b8d8e9"/><rect x="386.82" y="482.17" width="7.42" height="8.27" fill="#63a7ce"/><rect x="398.79" y="482.17" width="7.42" height="8.27" fill="#63a7ce"/><rect x="412.44" y="484.04" width="4.07" height="4.54" fill="#dceaf2"/><rect x="423.45" y="482.97" width="5.99" height="6.67" fill="#98c8e0"/><rect x="435.96" y="483.58" width="4.91" height="5.47" fill="#b8d8e9"/><rect x="444.52" y="479.77" width="11.73" height="13.07" fill="#053061"/><rect x="468.46" y="479.77" width="11.73" height="13.07" fill="#276419"/><rect x="484.98" y="484.84" width="2.63" height="2.93" fill="#f9f0f5"/><rect x="496.95" y="484.84" width="2.63" height="2.93" fill="#f9f0f5"/><rect x="89.97" y="498.18" width="2.63" height="2.93" fill="#ecf2f5"/><rect x="101.94" y="498.18" width="2.63" height="2.93" fill="#ecf2f5"/><rect x="113.19" y="497.38" width="4.07" height="4.54" fill="#dceaf2"/><rect x="125.16" y="497.38" width="4.07" height="4.54" fill="#dceaf2"/><rect x="137.13" y="497.38" width="4.07" height="4.54" fill="#dceaf2"/><rect x="148.14" y="496.31" width="5.99" height="6.67" fill="#98c8e0"/><rect x="161.07" y="497.38" width="4.07" height="4.54" fill="#dceaf2"/><rect x="173.76" y="498.18" width="2.63" height="2.93" fill="#ecf2f5"/><rect x="185.73" y="498.18" width="2.63" height="2.93" fill="#f9efe9"/><rect x="197.70" y="498.18" width="2.63" height="2.93" fill="#f9efe9"/><rect x="209.67" y="498.18" width="2.63" height="2.93" fill="#f9efe9"/><rect x="221.64" y="498.18" width="2.63" height="2.93" fill="#f9efe9"/><rect x="233.61" y="498.18" width="2.63" height="2.93" fill="#f9efe9"/><rect x="244.86" y="497.38" width="4.07" height="4.54" fill="#dceaf2"/><rect x="257.55" y="498.18" width="2.63" height="2.93" fill="#ecf2f5"/><rect x="267.84" y="496.31" width="5.99" height="6.67" fill="#98c8e0"/><rect x="280.35" y="496.92" width="4.91" height="5.47" fill="#b8d8e9"/><rect x="292.32" y="496.92" width="4.91" height="5.47" fill="#b8d8e9"/><rect x="305.43" y="498.18" width="2.63" height="2.93" fill="#f9efe9"/><rect x="316.68" y="497.38" width="4.07" height="4.54" fill="#dceaf2"/><rect x="328.65" y="497.38" width="4.07" height="4.54" fill="#dceaf2"/><rect x="340.62" y="497.38" width="4.07" height="4.54" fill="#fbe3d5"/><rect x="353.31" y="498.18" width="2.63" height="2.93" fill="#ecf2f5"/><rect x="365.28" y="498.18" width="2.63" height="2.93" fill="#f9efe9"/><rect x="377.25" y="498.18" width="2.63" height="2.93" fill="#f9efe9"/><rect x="387.54" y="496.31" width="5.99" height="6.67" fill="#98c8e0"/><rect x="398.79" y="495.51" width="7.42" height="8.27" fill="#63a7ce"/><rect x="413.16" y="498.18" width="2.63" height="2.93" fill="#f9efe9"/><rect x="423.99" y="496.92" width="4.91" height="5.47" fill="#b8d8e9"/><rect x="436.38" y="497.38" width="4.07" height="4.54" fill="#dceaf2"/><rect x="445.36" y="494.05" width="10.05" height="11.21" fill="#1e61a5"/><rect x="456.49" y="493.11" width="11.73" height="13.07" fill="#053061"/><rect x="480.43" y="493.11" width="11.73" height="13.07" fill="#276419"/><rect x="496.95" y="498.18" width="2.63" height="2.93" fill="#f2f6eb"/><rect x="89.25" y="510.72" width="4.07" height="4.54" fill="#fbe3d5"/><rect x="101.22" y="510.72" width="4.07" height="4.54" fill="#fbe3d5"/><rect x="113.19" y="510.72" width="4.07" height="4.54" fill="#dceaf2"/><rect x="125.88" y="511.52" width="2.63" height="2.93" fill="#ecf2f5"/><rect x="137.13" y="510.72" width="4.07" height="4.54" fill="#dceaf2"/><rect x="149.82" y="511.52" width="2.63" height="2.93" fill="#ecf2f5"/><rect x="161.07" y="510.72" width="4.07" height="4.54" fill="#dceaf2"/><rect x="173.76" y="511.52" width="2.63" height="2.93" fill="#ecf2f5"/><rect x="185.73" y="511.52" width="2.63" height="2.93" fill="#ecf2f5"/><rect x="197.70" y="511.52" width="2.63" height="2.93" fill="#ecf2f5"/><rect x="209.67" y="511.52" width="2.63" height="2.93" fill="#ecf2f5"/><rect x="221.64" y="511.52" width="2.63" height="2.93" fill="#f9efe9"/><rect x="233.61" y="511.52" width="2.63" height="2.93" fill="#ecf2f5"/><rect x="245.58" y="511.52" width="2.63" height="2.93" fill="#ecf2f5"/><rect x="257.55" y="511.52" width="2.63" height="2.93" fill="#ecf2f5"/><rect x="269.52" y="511.52" width="2.63" height="2.93" fill="#f9efe9"/><rect x="281.49" y="511.52" width="2.63" height="2.93" fill="#f9efe9"/><rect x="293.46" y="511.52" width="2.63" height="2.93" fill="#f9efe9"/><rect x="305.43" y="511.52" width="2.63" height="2.93" fill="#f9efe9"/><rect x="317.40" y="511.52" width="2.63" height="2.93" fill="#ecf2f5"/><rect x="329.37" y="511.52" width="2.63" height="2.93" fill="#ecf2f5"/><rect x="341.34" y="511.52" width="2.63" height="2.93" fill="#ecf2f5"/><rect x="353.31" y="511.52" width="2.63" height="2.93" fill="#ecf2f5"/><rect x="365.28" y="511.52" width="2.63" height="2.93" fill="#ecf2f5"/><rect x="377.25" y="511.52" width="2.63" height="2.93" fill="#ecf2f5"/><rect x="387.54" y="509.66" width="5.99" height="6.67" fill="#98c8e0"/><rect x="398.79" y="508.85" width="7.42" height="8.27" fill="#63a7ce"/><rect x="413.16" y="511.52" width="2.63" height="2.93" fill="#ecf2f5"/><rect x="423.99" y="510.26" width="4.91" height="5.47" fill="#b8d8e9"/><rect x="436.38" y="510.72" width="4.07" height="4.54" fill="#dceaf2"/><rect x="445.36" y="507.39" width="10.05" height="11.21" fill="#1e61a5"/><rect x="457.33" y="507.39" width="10.05" height="11.21" fill="#1e61a5"/><rect x="468.46" y="506.45" width="11.73" height="13.07" fill="#053061"/><rect x="492.40" y="506.45" width="11.73" height="13.07" fill="#276419"/><rect x="89.25" y="524.06" width="4.07" height="4.54" fill="#fbe3d5"/><rect x="101.22" y="524.06" width="4.07" height="4.54" fill="#fbe3d5"/><rect x="113.19" y="524.06" width="4.07" height="4.54" fill="#dceaf2"/><rect x="125.88" y="524.86" width="2.63" height="2.93" fill="#f9efe9"/><rect x="137.85" y="524.86" width="2.63" height="2.93" fill="#ecf2f5"/><rect x="149.82" y="524.86" width="2.63" height="2.93" fill="#f9efe9"/><rect x="161.07" y="524.06" width="4.07" height="4.54" fill="#dceaf2"/><rect x="173.04" y="524.06" width="4.07" height="4.54" fill="#dceaf2"/><rect x="185.73" y="524.86" width="2.63" height="2.93" fill="#f9efe9"/><rect x="197.70" y="524.86" width="2.63" height="2.93" fill="#f9efe9"/><rect x="209.67" y="524.86" width="2.63" height="2.93" fill="#f9efe9"/><rect x="221.64" y="524.86" width="2.63" height="2.93" fill="#f9efe9"/><rect x="233.61" y="524.86" width="2.63" height="2.93" fill="#f9efe9"/><rect x="245.58" y="524.86" width="2.63" height="2.93" fill="#ecf2f5"/><rect x="257.55" y="524.86" width="2.63" height="2.93" fill="#ecf2f5"/><rect x="269.52" y="524.86" width="2.63" height="2.93" fill="#f9efe9"/><rect x="281.49" y="524.86" width="2.63" height="2.93" fill="#f9efe9"/><rect x="293.46" y="524.86" width="2.63" height="2.93" fill="#f9efe9"/><rect x="305.43" y="524.86" width="2.63" height="2.93" fill="#f9efe9"/><rect x="317.40" y="524.86" width="2.63" height="2.93" fill="#f9efe9"/><rect x="329.37" y="524.86" width="2.63" height="2.93" fill="#ecf2f5"/><rect x="341.34" y="524.86" width="2.63" height="2.93" fill="#f9efe9"/><rect x="352.17" y="523.60" width="4.91" height="5.47" fill="#b8d8e9"/><rect x="365.28" y="524.86" width="2.63" height="2.93" fill="#f9efe9"/><rect x="377.25" y="524.86" width="2.63" height="2.93" fill="#ecf2f5"/><rect x="386.82" y="522.19" width="7.42" height="8.27" fill="#63a7ce"/><rect x="398.79" y="522.19" width="7.42" height="8.27" fill="#63a7ce"/><rect x="413.16" y="524.86" width="2.63" height="2.93" fill="#f9efe9"/><rect x="423.99" y="523.60" width="4.91" height="5.47" fill="#b8d8e9"/><rect x="437.10" y="524.86" width="2.63" height="2.93" fill="#f9efe9"/><rect x="445.36" y="520.73" width="10.05" height="11.21" fill="#1e61a5"/><rect x="457.33" y="520.73" width="10.05" height="11.21" fill="#1e61a5"/><rect x="469.30" y="520.73" width="10.05" height="11.21" fill="#1e61a5"/><rect x="480.43" y="519.79" width="11.73" height="13.07" fill="#053061"/></g>
<g stroke="#a3a3a3" stroke-width="1"><line x1="85.50" y1="79.44" x2="85.50" y2="533.00"/><line x1="97.27" y1="66.50" x2="504.25" y2="66.50"/><line x1="97.50" y1="66.10" x2="97.50" y2="533.00"/><line x1="85.30" y1="79.50" x2="504.25" y2="79.50"/><line x1="109.50" y1="66.10" x2="109.50" y2="533.00"/><line x1="85.30" y1="92.50" x2="504.25" y2="92.50"/><line x1="121.50" y1="66.10" x2="121.50" y2="533.00"/><line x1="85.30" y1="106.50" x2="504.25" y2="106.50"/><line x1="133.50" y1="66.10" x2="133.50" y2="533.00"/><line x1="85.30" y1="119.50" x2="504.25" y2="119.50"/><line x1="145.50" y1="66.10" x2="145.50" y2="533.00"/><line x1="85.30" y1="132.50" x2="504.25" y2="132.50"/><line x1="157.50" y1="66.10" x2="157.50" y2="533.00"/><line x1="85.30" y1="146.50" x2="504.25" y2="146.50"/><line x1="169.50" y1="66.10" x2="169.50" y2="533.00"/><line x1="85.30" y1="159.50" x2="504.25" y2="159.50"/><line x1="181.50" y1="66.10" x2="181.50" y2="533.00"/><line x1="85.30" y1="172.50" x2="504.25" y2="172.50"/><line x1="193.50" y1="66.10" x2="193.50" y2="533.00"/><line x1="85.30" y1="186.50" x2="504.25" y2="186.50"/><line x1="205.50" y1="66.10" x2="205.50" y2="533.00"/><line x1="85.30" y1="199.50" x2="504.25" y2="199.50"/><line x1="216.50" y1="66.10" x2="216.50" y2="533.00"/><line x1="85.30" y1="212.50" x2="504.25" y2="212.50"/><line x1="228.50" y1="66.10" x2="228.50" y2="533.00"/><line x1="85.30" y1="226.50" x2="504.25" y2="226.50"/><line x1="240.50" y1="66.10" x2="240.50" y2="533.00"/><line x1="85.30" y1="239.50" x2="504.25" y2="239.50"/><line x1="252.50" y1="66.10" x2="252.50" y2="533.00"/><line x1="85.30" y1="252.50" x2="504.25" y2="252.50"/><line x1="264.50" y1="66.10" x2="264.50" y2="533.00"/><line x1="85.30" y1="266.50" x2="504.25" y2="266.50"/><line x1="276.50" y1="66.10" x2="276.50" y2="533.00"/><line x1="85.30" y1="279.50" x2="504.25" y2="279.50"/><line x1="288.50" y1="66.10" x2="288.50" y2="533.00"/><line x1="85.30" y1="292.50" x2="504.25" y2="292.50"/><line x1="300.50" y1="66.10" x2="300.50" y2="533.00"/><line x1="85.30" y1="306.50" x2="504.25" y2="306.50"/><line x1="312.50" y1="66.10" x2="312.50" y2="533.00"/><line x1="85.30" y1="319.50" x2="504.25" y2="319.50"/><line x1="324.50" y1="66.10" x2="324.50" y2="533.00"/><line x1="85.30" y1="332.50" x2="504.25" y2="332.50"/><line x1="336.50" y1="66.10" x2="336.50" y2="533.00"/><line x1="85.30" y1="346.50" x2="504.25" y2="346.50"/><line x1="348.50" y1="66.10" x2="348.50" y2="533.00"/><line x1="85.30" y1="359.50" x2="504.25" y2="359.50"/><line x1="360.50" y1="66.10" x2="360.50" y2="533.00"/><line x1="85.30" y1="372.50" x2="504.25" y2="372.50"/><line x1="372.50" y1="66.10" x2="372.50" y2="533.00"/><line x1="85.30" y1="386.50" x2="504.25" y2="386.50"/><line x1="384.50" y1="66.10" x2="384.50" y2="533.00"/><line x1="85.30" y1="399.50" x2="504.25" y2="399.50"/><line x1="396.50" y1="66.10" x2="396.50" y2="533.00"/><line x1="85.30" y1="412.50" x2="504.25" y2="412.50"/><line x1="408.50" y1="66.10" x2="408.50" y2="533.00"/><line x1="85.30" y1="426.50" x2="504.25" y2="426.50"/><line x1="420.50" y1="66.10" x2="420.50" y2="533.00"/><line x1="85.30" y1="439.50" x2="504.25" y2="439.50"/><line x1="432.50" y1="66.10" x2="432.50" y2="533.00"/><line x1="85.30" y1="452.50" x2="504.25" y2="452.50"/><line x1="444.50" y1="66.10" x2="444.50" y2="533.00"/><line x1="85.30" y1="466.50" x2="504.25" y2="466.50"/><line x1="456.50" y1="66.10" x2="456.50" y2="533.00"/><line x1="85.30" y1="479.50" x2="504.25" y2="479.50"/><line x1="468.50" y1="66.10" x2="468.50" y2="533.00"/><line x1="85.30" y1="492.50" x2="504.25" y2="492.50"/><line x1="480.50" y1="66.10" x2="480.50" y2="533.00"/><line x1="85.30" y1="506.50" x2="504.25" y2="506.50"/><line x1="492.50" y1="66.10" x2="492.50" y2="533.00"/><line x1="85.30" y1="519.50" x2="504.25" y2="519.50"/><line x1="504.50" y1="66.10" x2="504.50" y2="519.66"/><line x1="85.30" y1="533.50" x2="492.28" y2="533.50"/></g>
<path fill="#1e1e1e" d="M209.13,72.32a0.8,0.75 0 1,0 1.6,0a0.8,0.75 0 1,0 -1.6,0ZM211.44,72.32a0.8,0.75 0 1,0 1.6,0a0.8,0.75 0 1,0 -1.6,0ZM209.13,85.66a0.8,0.75 0 1,0 1.6,0a0.8,0.75 0 1,0 -1.6,0ZM211.44,85.66a0.8,0.75 0 1,0 1.6,0a0.8,0.75 0 1,0 -1.6,0ZM221.10,85.66a0.8,0.75 0 1,0 1.6,0a0.8,0.75 0 1,0 -1.6,0ZM223.40,85.66a0.8,0.75 0 1,0 1.6,0a0.8,0.75 0 1,0 -1.6,0ZM267.83,85.66a0.8,0.75 0 1,0 1.6,0a0.8,0.75 0 1,0 -1.6,0ZM270.13,85.66a0.8,0.75 0 1,0 1.6,0a0.8,0.75 0 1,0 -1.6,0ZM272.44,85.66a0.8,0.75 0 1,0 1.6,0a0.8,0.75 0 1,0 -1.6,0ZM279.81,85.66a0.8,0.75 0 1,0 1.6,0a0.8,0.75 0 1,0 -1.6,0ZM282.11,85.66a0.8,0.75 0 1,0 1.6,0a0.8,0.75 0 1,0 -1.6,0ZM284.41,85.66a0.8,0.75 0 1,0 1.6,0a0.8,0.75 0 1,0 -1.6,0ZM292.93,85.66a0.8,0.75 0 1,0 1.6,0a0.8,0.75 0 1,0 -1.6,0ZM295.23,85.66a0.8,0.75 0 1,0 1.6,0a0.8,0.75 0 1,0 -1.6,0ZM304.90,85.66a0.8,0.75 0 1,0 1.6,0a0.8,0.75 0 1,0 -1.6,0ZM307.19,85.66a0.8,0.75 0 1,0 1.6,0a0.8,0.75 0 1,0 -1.6,0ZM485.60,85.66a0.8,0.75 0 1,0 1.6,0a0.8,0.75 0 1,0 -1.6,0ZM136.16,99.00a0.8,0.75 0 1,0 1.6,0a0.8,0.75 0 1,0 -1.6,0ZM138.46,99.00a0.8,0.75 0 1,0 1.6,0a0.8,0.75 0 1,0 -1.6,0ZM140.76,99.00a0.8,0.75 0 1,0 1.6,0a0.8,0.75 0 1,0 -1.6,0ZM185.19,99.00a0.8,0.75 0 1,0 1.6,0a0.8,0.75 0 1,0 -1.6,0ZM187.50,99.00a0.8,0.75 0 1,0 1.6,0a0.8,0.75 0 1,0 -1.6,0ZM196.01,99.00a0.8,0.75 0 1,0 1.6,0a0.8,0.75 0 1,0 -1.6,0ZM198.31,99.00a0.8,0.75 0 1,0 1.6,0a0.8,0.75 0 1,0 -1.6,0ZM200.61,99.00a0.8,0.75 0 1,0 1.6,0a0.8,0.75 0 1,0 -1.6,0ZM209.13,99.00a0.8,0.75 0 1,0 1.6,0a0.8,0.75 0 1,0 -1.6,0ZM211.44,99.00a0.8,0.75 0 1,0 1.6,0a0.8,0.75 0 1,0 -1.6,0ZM222.25,99.00a0.8,0.75 0 1,0 1.6,0a0.8,0.75 0 1,0 -1.6,0ZM495.27,99.00a0.8,0.75 0 1,0 1.6,0a0.8,0.75 0 1,0 -1.6,0ZM497.57,99.00a0.8,0.75 0 1,0 1.6,0a0.8,0.75 0 1,0 -1.6,0ZM499.87,99.00a0.8,0.75 0 1,0 1.6,0a0.8,0.75 0 1,0 -1.6,0ZM88.28,112.34a0.8,0.75 0 1,0 1.6,0a0.8,0.75 0 1,0 -1.6,0ZM90.58,112.34a0.8,0.75 0 1,0 1.6,0a0.8,0.75 0 1,0 -1.6,0ZM92.88,112.34a0.8,0.75 0 1,0 1.6,0a0.8,0.75 0 1,0 -1.6,0ZM101.40,112.34a0.8,0.75 0 1,0 1.6,0a0.8,0.75 0 1,0 -1.6,0ZM103.70,112.34a0.8,0.75 0 1,0 1.6,0a0.8,0.75 0 1,0 -1.6,0ZM184.04,112.34a0.8,0.75 0 1,0 1.6,0a0.8,0.75 0 1,0 -1.6,0ZM186.34,112.34a0.8,0.75 0 1,0 1.6,0a0.8,0.75 0 1,0 -1.6,0ZM188.65,112.34a0.8,0.75 0 1,0 1.6,0a0.8,0.75 0 1,0 -1.6,0ZM196.01,112.34a0.8,0.75 0 1,0 1.6,0a0.8,0.75 0 1,0 -1.6,0ZM198.31,112.34a0.8,0.75 0 1,0 1.6,0a0.8,0.75 0 1,0 -1.6,0ZM200.61,112.34a0.8,0.75 0 1,0 1.6,0a0.8,0.75 0 1,0 -1.6,0ZM207.98,112.34a0.8,0.75 0 1,0 1.6,0a0.8,0.75 0 1,0 -1.6,0ZM210.28,112.34a0.8,0.75 0 1,0 1.6,0a0.8,0.75 0 1,0 -1.6,0ZM212.59,112.34a0.8,0.75 0 1,0 1.6,0a0.8,0.75 0 1,0 -1.6,0ZM219.95,112.34a0.8,0.75 0 1,0 1.6,0a0.8,0.75 0 1,0 -1.6,0ZM222.25,112.34a0.8,0.75 0 1,0 1.6,0a0.8,0.75 0 1,0 -1.6,0ZM224.55,112.34a0.8,0.75 0 1,0 1.6,0a0.8,0.75 0 1,0 -1.6,0ZM294.08,112.34a0.8,0.75 0 1,0 1.6,0a0.8,0.75 0 1,0 -1.6,0ZM101.40,125.68a0.8,0.75 0 1,0 1.6,0a0.8,0.75 0 1,0 -1.6,0ZM103.70,125.68a0.8,0.75 0 1,0 1.6,0a0.8,0.75 0 1,0 -1.6,0ZM184.04,125.68a0.8,0.75 0 1,0 1.6,0a0.8,0.75 0 1,0 -1.6,0ZM186.34,125.68a0.8,0.75 0 1,0 1.6,0a0.8,0.75 0 1,0 -1.6,0ZM188.65,125.68a0.8,0.75 0 1,0 1.6,0a0.8,0.75 0 1,0 -1.6,0ZM207.98,125.68a0.8,0.75 0 1,0 1.6,0a0.8,0.75 0 1,0 -1.6,0ZM210.28,125.68a0.8,0.75 0 1,0 1.6,0a0.8,0.75 0 1,0 -1.6,0ZM212.59,125.68a0.8,0.75 0 1,0 1.6,0a0.8,0.75 0 1,0 -1.6,0ZM219.95,125.68a0.8,0.75 0 1,0 1.6,0a0.8,0.75 0 1,0 -1.6,0ZM222.25,125.68a0.8,0.75 0 1,0 1.6,0a0.8,0.75 0 1,0 -1.6,0ZM224.55,125.68a0.8,0.75 0 1,0 1.6,0a0.8,0.75 0 1,0 -1.6,0ZM292.93,125.68a0.8,0.75 0 1,0 1.6,0a0.8,0.75 0 1,0 -1.6,0ZM295.23,125.68a0.8,0.75 0 1,0 1.6,0a0.8,0.75 0 1,0 -1.6,0ZM377.87,125.68a0.8,0.75 0 1,0 1.6,0a0.8,0.75 0 1,0 -1.6,0ZM124.19,139.02a0.8,0.75 0 1,0 1.6,0a0.8,0.75 0 1,0 -1.6,0ZM126.49,139.02a0.8,0.75 0 1,0 1.6,0a0.8,0.75 0 1,0 -1.6,0ZM128.79,139.02a0.8,0.75 0 1,0 1.6,0a0.8,0.75 0 1,0 -1.6,0ZM184.04,139.02a0.8,0.75 0 1,0 1.6,0a0.8,0.75 0 1,0 -1.6,0ZM186.34,139.02a0.8,0.75 0 1,0 1.6,0a0.8,0.75 0 1,0 -1.6,0ZM188.65,139.02a0.8,0.75 0 1,0 1.6,0a0.8,0.75 0 1,0 -1.6,0ZM196.01,139.02a0.8,0.75 0 1,0 1.6,0a0.8,0.75 0 1,0 -1.6,0ZM198.31,139.02a0.8,0.75 0 1,0 1.6,0a0.8,0.75 0 1,0 -1.6,0ZM200.61,139.02a0.8,0.75 0 1,0 1.6,0a0.8,0.75 0 1,0 -1.6,0ZM207.98,139.02a0.8,0.75 0 1,0 1.6,0a0.8,0.75 0 1,0 -1.6,0ZM210.28,139.02a0.8,0.75 0 1,0 1.6,0a0.8,0.75 0 1,0 -1.6,0ZM212.59,139.02a0.8,0.75 0 1,0 1.6,0a0.8,0.75 0 1,0 -1.6,0ZM219.95,139.02a0.8,0.75 0 1,0 1.6,0a0.8,0.75 0 1,0 -1.6,0ZM222.25,139.02a0.8,0.75 0 1,0 1.6,0a0.8,0.75 0 1,0 -1.6,0ZM224.55,139.02a0.8,0.75 0 1,0 1.6,0a0.8,0.75 0 1,0 -1.6,0ZM270.13,139.02a0.8,0.75 0 1,0 1.6,0a0.8,0.75 0 1,0 -1.6,0ZM282.11,139.02a0.8,0.75 0 1,0 1.6,0a0.8,0.75 0 1,0 -1.6,0ZM291.78,139.02a0.8,0.75 0 1,0 1.6,0a0.8,0.75 0 1,0 -1.6,0ZM294.08,139.02a0.8,0.75 0 1,0 1.6,0a0.8,0.75 0 1,0 -1.6,0ZM296.38,139.02a0.8,0.75 0 1,0 1.6,0a0.8,0.75 0 1,0 -1.6,0ZM124.19,152.36a0.8,0.75 0 1,0 1.6,0a0.8,0.75 0 1,0 -1.6,0ZM126.49,152.36a0.8,0.75 0 1,0 1.6,0a0.8,0.75 0 1,0 -1.6,0ZM128.79,152.36a0.8,0.75 0 1,0 1.6,0a0.8,0.75 0 1,0 -1.6,0ZM136.16,152.36a0.8,0.75 0 1,0 1.6,0a0.8,0.75 0 1,0 -1.6,0ZM138.46,152.36a0.8,0.75 0 1,0 1.6,0a0.8,0.75 0 1,0 -1.6,0ZM140.76,152.36a0.8,0.75 0 1,0 1.6,0a0.8,0.75 0 1,0 -1.6,0ZM184.04,152.36a0.8,0.75 0 1,0 1.6,0a0.8,0.75 0 1,0 -1.6,0ZM186.34,152.36a0.8,0.75 0 1,0 1.6,0a0.8,0.75 0 1,0 -1.6,0ZM188.65,152.36a0.8,0.75 0 1,0 1.6,0a0.8,0.75 0 1,0 -1.6,0ZM196.01,152.36a0.8,0.75 0 1,0 1.6,0a0.8,0.75 0 1,0 -1.6,0ZM198.31,152.36a0.8,0.75 0 1,0 1.6,0a0.8,0.75 0 1,0 -1.6,0ZM200.61,152.36a0.8,0.75 0 1,0 1.6,0a0.8,0.75 0 1,0 -1.6,0ZM207.98,152.36a0.8,0.75 0 1,0 1.6,0a0.8,0.75 0 1,0 -1.6,0ZM210.28,152.36a0.8,0.75 0 1,0 1.6,0a0.8,0.75 0 1,0 -1.6,0ZM212.59,152.36a0.8,0.75 0 1,0 1.6,0a0.8,0.75 0 1,0 -1.6,0ZM221.10,152.36a0.8,0.75 0 1,0 1.6,0a0.8,0.75 0 1,0 -1.6,0ZM223.40,152.36a0.8,0.75 0 1,0 1.6,0a0.8,0.75 0 1,0 -1.6,0ZM291.78,152.36a0.8,0.75 0 1,0 1.6,0a0.8,0.75 0 1,0 -1.6,0ZM294.08,152.36a0.8,0.75 0 1,0 1.6,0a0.8,0.75 0 1,0 -1.6,0ZM296.38,152.36a0.8,0.75 0 1,0 1.6,0a0.8,0.75 0 1,0 -1.6,0ZM377.87,152.36a0.8,0.75 0 1,0 1.6,0a0.8,0.75 0 1,0 -1.6,0ZM401.81,152.36a0.8,0.75 0 1,0 1.6,0a0.8,0.75 0 1,0 -1.6,0ZM210.28,165.70a0.8,0.75 0 1,0 1.6,0a0.8,0.75 0 1,0 -1.6,0ZM219.95,165.70a0.8,0.75 0 1,0 1.6,0a0.8,0.75 0 1,0 -1.6,0ZM222.25,165.70a0.8,0.75 0 1,0 1.6,0a0.8,0.75 0 1,0 -1.6,0ZM224.55,165.70a0.8,0.75 0 1,0 1.6,0a0.8,0.75 0 1,0 -1.6,0ZM234.22,165.70a0.8,0.75 0 1,0 1.6,0a0.8,0.75 0 1,0 -1.6,0ZM258.17,165.70a0.8,0.75 0 1,0 1.6,0a0.8,0.75 0 1,0 -1.6,0ZM376.72,165.70a0.8,0.75 0 1,0 1.6,0a0.8,0.75 0 1,0 -1.6,0ZM379.02,165.70a0.8,0.75 0 1,0 1.6,0a0.8,0.75 0 1,0 -1.6,0ZM413.78,165.70a0.8,0.75 0 1,0 1.6,0a0.8,0.75 0 1,0 -1.6,0ZM435.42,165.70a0.8,0.75 0 1,0 1.6,0a0.8,0.75 0 1,0 -1.6,0ZM437.72,165.70a0.8,0.75 0 1,0 1.6,0a0.8,0.75 0 1,0 -1.6,0ZM440.02,165.70a0.8,0.75 0 1,0 1.6,0a0.8,0.75 0 1,0 -1.6,0ZM160.10,179.04a0.8,0.75 0 1,0 1.6,0a0.8,0.75 0 1,0 -1.6,0ZM162.41,179.04a0.8,0.75 0 1,0 1.6,0a0.8,0.75 0 1,0 -1.6,0ZM164.71,179.04a0.8,0.75 0 1,0 1.6,0a0.8,0.75 0 1,0 -1.6,0ZM207.98,179.04a0.8,0.75 0 1,0 1.6,0a0.8,0.75 0 1,0 -1.6,0ZM210.28,179.04a0.8,0.75 0 1,0 1.6,0a0.8,0.75 0 1,0 -1.6,0ZM212.59,179.04a0.8,0.75 0 1,0 1.6,0a0.8,0.75 0 1,0 -1.6,0ZM219.95,179.04a0.8,0.75 0 1,0 1.6,0a0.8,0.75 0 1,0 -1.6,0ZM222.25,179.04a0.8,0.75 0 1,0 1.6,0a0.8,0.75 0 1,0 -1.6,0ZM224.55,179.04a0.8,0.75 0 1,0 1.6,0a0.8,0.75 0 1,0 -1.6,0ZM292.93,179.04a0.8,0.75 0 1,0 1.6,0a0.8,0.75 0 1,0 -1.6,0ZM295.23,179.04a0.8,0.75 0 1,0 1.6,0a0.8,0.75 0 1,0 -1.6,0ZM375.57,179.04a0.8,0.75 0 1,0 1.6,0a0.8,0.75 0 1,0 -1.6,0ZM377.87,179.04a0.8,0.75 0 1,0 1.6,0a0.8,0.75 0 1,0 -1.6,0ZM380.17,179.04a0.8,0.75 0 1,0 1.6,0a0.8,0.75 0 1,0 -1.6,0ZM114.52,192.38a0.8,0.75 0 1,0 1.6,0a0.8,0.75 0 1,0 -1.6,0ZM160.10,192.38a0.8,0.75 0 1,0 1.6,0a0.8,0.75 0 1,0 -1.6,0ZM162.41,192.38a0.8,0.75 0 1,0 1.6,0a0.8,0.75 0 1,0 -1.6,0ZM164.71,192.38a0.8,0.75 0 1,0 1.6,0a0.8,0.75 0 1,0 -1.6,0ZM174.37,192.38a0.8,0.75 0 1,0 1.6,0a0.8,0.75 0 1,0 -1.6,0ZM219.95,192.38a0.8,0.75 0 1,0 1.6,0a0.8,0.75 0 1,0 -1.6,0ZM222.25,192.38a0.8,0.75 0 1,0 1.6,0a0.8,0.75 0 1,0 -1.6,0ZM224.55,192.38a0.8,0.75 0 1,0 1.6,0a0.8,0.75 0 1,0 -1.6,0ZM292.93,192.38a0.8,0.75 0 1,0 1.6,0a0.8,0.75 0 1,0 -1.6,0ZM295.23,192.38a0.8,0.75 0 1,0 1.6,0a0.8,0.75 0 1,0 -1.6,0ZM282.11,205.72a0.8,0.75 0 1,0 1.6,0a0.8,0.75 0 1,0 -1.6,0ZM294.08,205.72a0.8,0.75 0 1,0 1.6,0a0.8,0.75 0 1,0 -1.6,0ZM375.57,205.72a0.8,0.75 0 1,0 1.6,0a0.8,0.75 0 1,0 -1.6,0ZM377.87,205.72a0.8,0.75 0 1,0 1.6,0a0.8,0.75 0 1,0 -1.6,0ZM380.17,205.72a0.8,0.75 0 1,0 1.6,0a0.8,0.75 0 1,0 -1.6,0ZM138.46,219.06a0.8,0.75 0 1,0 1.6,0a0.8,0.75 0 1,0 -1.6,0ZM413.78,219.06a0.8,0.75 0 1,0 1.6,0a0.8,0.75 0 1,0 -1.6,0ZM436.57,219.06a0.8,0.75 0 1,0 1.6,0a0.8,0.75 0 1,0 -1.6,0ZM438.87,219.06a0.8,0.75 0 1,0 1.6,0a0.8,0.75 0 1,0 -1.6,0ZM448.54,219.06a0.8,0.75 0 1,0 1.6,0a0.8,0.75 0 1,0 -1.6,0ZM450.84,219.06a0.8,0.75 0 1,0 1.6,0a0.8,0.75 0 1,0 -1.6,0ZM138.46,232.40a0.8,0.75 0 1,0 1.6,0a0.8,0.75 0 1,0 -1.6,0ZM449.69,232.40a0.8,0.75 0 1,0 1.6,0a0.8,0.75 0 1,0 -1.6,0ZM102.55,245.74a0.8,0.75 0 1,0 1.6,0a0.8,0.75 0 1,0 -1.6,0ZM126.49,245.74a0.8,0.75 0 1,0 1.6,0a0.8,0.75 0 1,0 -1.6,0ZM138.46,245.74a0.8,0.75 0 1,0 1.6,0a0.8,0.75 0 1,0 -1.6,0ZM449.69,245.74a0.8,0.75 0 1,0 1.6,0a0.8,0.75 0 1,0 -1.6,0ZM124.19,259.08a0.8,0.75 0 1,0 1.6,0a0.8,0.75 0 1,0 -1.6,0ZM126.49,259.08a0.8,0.75 0 1,0 1.6,0a0.8,0.75 0 1,0 -1.6,0ZM128.79,259.08a0.8,0.75 0 1,0 1.6,0a0.8,0.75 0 1,0 -1.6,0ZM149.28,259.08a0.8,0.75 0 1,0 1.6,0a0.8,0.75 0 1,0 -1.6,0ZM151.58,259.08a0.8,0.75 0 1,0 1.6,0a0.8,0.75 0 1,0 -1.6,0ZM291.78,259.08a0.8,0.75 0 1,0 1.6,0a0.8,0.75 0 1,0 -1.6,0ZM294.08,259.08a0.8,0.75 0 1,0 1.6,0a0.8,0.75 0 1,0 -1.6,0ZM296.38,259.08a0.8,0.75 0 1,0 1.6,0a0.8,0.75 0 1,0 -1.6,0ZM303.75,259.08a0.8,0.75 0 1,0 1.6,0a0.8,0.75 0 1,0 -1.6,0ZM306.05,259.08a0.8,0.75 0 1,0 1.6,0a0.8,0.75 0 1,0 -1.6,0ZM308.35,259.08a0.8,0.75 0 1,0 1.6,0a0.8,0.75 0 1,0 -1.6,0ZM485.60,259.08a0.8,0.75 0 1,0 1.6,0a0.8,0.75 0 1,0 -1.6,0ZM124.19,272.42a0.8,0.75 0 1,0 1.6,0a0.8,0.75 0 1,0 -1.6,0ZM126.49,272.42a0.8,0.75 0 1,0 1.6,0a0.8,0.75 0 1,0 -1.6,0ZM128.79,272.42a0.8,0.75 0 1,0 1.6,0a0.8,0.75 0 1,0 -1.6,0ZM291.78,272.42a0.8,0.75 0 1,0 1.6,0a0.8,0.75 0 1,0 -1.6,0ZM294.08,272.42a0.8,0.75 0 1,0 1.6,0a0.8,0.75 0 1,0 -1.6,0ZM296.38,272.42a0.8,0.75 0 1,0 1.6,0a0.8,0.75 0 1,0 -1.6,0ZM303.75,272.42a0.8,0.75 0 1,0 1.6,0a0.8,0.75 0 1,0 -1.6,0ZM306.05,272.42a0.8,0.75 0 1,0 1.6,0a0.8,0.75 0 1,0 -1.6,0ZM308.35,272.42a0.8,0.75 0 1,0 1.6,0a0.8,0.75 0 1,0 -1.6,0ZM88.28,285.76a0.8,0.75 0 1,0 1.6,0a0.8,0.75 0 1,0 -1.6,0ZM90.58,285.76a0.8,0.75 0 1,0 1.6,0a0.8,0.75 0 1,0 -1.6,0ZM92.88,285.76a0.8,0.75 0 1,0 1.6,0a0.8,0.75 0 1,0 -1.6,0ZM124.19,285.76a0.8,0.75 0 1,0 1.6,0a0.8,0.75 0 1,0 -1.6,0ZM126.49,285.76a0.8,0.75 0 1,0 1.6,0a0.8,0.75 0 1,0 -1.6,0ZM128.79,285.76a0.8,0.75 0 1,0 1.6,0a0.8,0.75 0 1,0 -1.6,0ZM137.31,285.76a0.8,0.75 0 1,0 1.6,0a0.8,0.75 0 1,0 -1.6,0ZM139.61,285.76a0.8,0.75 0 1,0 1.6,0a0.8,0.75 0 1,0 -1.6,0ZM148.13,285.76a0.8,0.75 0 1,0 1.6,0a0.8,0.75 0 1,0 -1.6,0ZM150.43,285.76a0.8,0.75 0 1,0 1.6,0a0.8,0.75 0 1,0 -1.6,0ZM152.73,285.76a0.8,0.75 0 1,0 1.6,0a0.8,0.75 0 1,0 -1.6,0ZM198.31,285.76a0.8,0.75 0 1,0 1.6,0a0.8,0.75 0 1,0 -1.6,0ZM219.95,285.76a0.8,0.75 0 1,0 1.6,0a0.8,0.75 0 1,0 -1.6,0ZM222.25,285.76a0.8,0.75 0 1,0 1.6,0a0.8,0.75 0 1,0 -1.6,0ZM224.55,285.76a0.8,0.75 0 1,0 1.6,0a0.8,0.75 0 1,0 -1.6,0ZM231.92,285.76a0.8,0.75 0 1,0 1.6,0a0.8,0.75 0 1,0 -1.6,0ZM234.22,285.76a0.8,0.75 0 1,0 1.6,0a0.8,0.75 0 1,0 -1.6,0ZM236.53,285.76a0.8,0.75 0 1,0 1.6,0a0.8,0.75 0 1,0 -1.6,0ZM303.75,285.76a0.8,0.75 0 1,0 1.6,0a0.8,0.75 0 1,0 -1.6,0ZM306.05,285.76a0.8,0.75 0 1,0 1.6,0a0.8,0.75 0 1,0 -1.6,0ZM308.35,285.76a0.8,0.75 0 1,0 1.6,0a0.8,0.75 0 1,0 -1.6,0ZM89.43,299.10a0.8,0.75 0 1,0 1.6,0a0.8,0.75 0 1,0 -1.6,0ZM91.73,299.10a0.8,0.75 0 1,0 1.6,0a0.8,0.75 0 1,0 -1.6,0ZM125.34,299.10a0.8,0.75 0 1,0 1.6,0a0.8,0.75 0 1,0 -1.6,0ZM127.64,299.10a0.8,0.75 0 1,0 1.6,0a0.8,0.75 0 1,0 -1.6,0ZM136.16,299.10a0.8,0.75 0 1,0 1.6,0a0.8,0.75 0 1,0 -1.6,0ZM138.46,299.10a0.8,0.75 0 1,0 1.6,0a0.8,0.75 0 1,0 -1.6,0ZM140.76,299.10a0.8,0.75 0 1,0 1.6,0a0.8,0.75 0 1,0 -1.6,0ZM148.13,299.10a0.8,0.75 0 1,0 1.6,0a0.8,0.75 0 1,0 -1.6,0ZM150.43,299.10a0.8,0.75 0 1,0 1.6,0a0.8,0.75 0 1,0 -1.6,0ZM152.73,299.10a0.8,0.75 0 1,0 1.6,0a0.8,0.75 0 1,0 -1.6,0ZM219.95,299.10a0.8,0.75 0 1,0 1.6,0a0.8,0.75 0 1,0 -1.6,0ZM222.25,299.10a0.8,0.75 0 1,0 1.6,0a0.8,0.75 0 1,0 -1.6,0ZM224.55,299.10a0.8,0.75 0 1,0 1.6,0a0.8,0.75 0 1,0 -1.6,0ZM231.92,299.10a0.8,0.75 0 1,0 1.6,0a0.8,0.75 0 1,0 -1.6,0ZM234.22,299.10a0.8,0.75 0 1,0 1.6,0a0.8,0.75 0 1,0 -1.6,0ZM236.53,299.10a0.8,0.75 0 1,0 1.6,0a0.8,0.75 0 1,0 -1.6,0ZM389.84,299.10a0.8,0.75 0 1,0 1.6,0a0.8,0.75 0 1,0 -1.6,0ZM88.28,312.44a0.8,0.75 0 1,0 1.6,0a0.8,0.75 0 1,0 -1.6,0ZM90.58,312.44a0.8,0.75 0 1,0 1.6,0a0.8,0.75 0 1,0 -1.6,0ZM92.88,312.44a0.8,0.75 0 1,0 1.6,0a0.8,0.75 0 1,0 -1.6,0ZM102.55,312.44a0.8,0.75 0 1,0 1.6,0a0.8,0.75 0 1,0 -1.6,0ZM113.37,312.44a0.8,0.75 0 1,0 1.6,0a0.8,0.75 0 1,0 -1.6,0ZM115.67,312.44a0.8,0.75 0 1,0 1.6,0a0.8,0.75 0 1,0 -1.6,0ZM125.34,312.44a0.8,0.75 0 1,0 1.6,0a0.8,0.75 0 1,0 -1.6,0ZM127.64,312.44a0.8,0.75 0 1,0 1.6,0a0.8,0.75 0 1,0 -1.6,0ZM148.13,312.44a0.8,0.75 0 1,0 1.6,0a0.8,0.75 0 1,0 -1.6,0ZM150.43,312.44a0.8,0.75 0 1,0 1.6,0a0.8,0.75 0 1,0 -1.6,0ZM152.73,312.44a0.8,0.75 0 1,0 1.6,0a0.8,0.75 0 1,0 -1.6,0ZM88.28,325.78a0.8,0.75 0 1,0 1.6,0a0.8,0.75 0 1,0 -1.6,0ZM90.58,325.78a0.8,0.75 0 1,0 1.6,0a0.8,0.75 0 1,0 -1.6,0ZM92.88,325.78a0.8,0.75 0 1,0 1.6,0a0.8,0.75 0 1,0 -1.6,0ZM125.34,325.78a0.8,0.75 0 1,0 1.6,0a0.8,0.75 0 1,0 -1.6,0ZM127.64,325.78a0.8,0.75 0 1,0 1.6,0a0.8,0.75 0 1,0 -1.6,0ZM219.95,325.78a0.8,0.75 0 1,0 1.6,0a0.8,0.75 0 1,0 -1.6,0ZM222.25,325.78a0.8,0.75 0 1,0 1.6,0a0.8,0.75 0 1,0 -1.6,0ZM224.55,325.78a0.8,0.75 0 1,0 1.6,0a0.8,0.75 0 1,0 -1.6,0ZM231.92,325.78a0.8,0.75 0 1,0 1.6,0a0.8,0.75 0 1,0 -1.6,0ZM234.22,325.78a0.8,0.75 0 1,0 1.6,0a0.8,0.75 0 1,0 -1.6,0ZM236.53,325.78a0.8,0.75 0 1,0 1.6,0a0.8,0.75 0 1,0 -1.6,0ZM246.19,325.78a0.8,0.75 0 1,0 1.6,0a0.8,0.75 0 1,0 -1.6,0ZM255.87,325.78a0.8,0.75 0 1,0 1.6,0a0.8,0.75 0 1,0 -1.6,0ZM258.17,325.78a0.8,0.75 0 1,0 1.6,0a0.8,0.75 0 1,0 -1.6,0ZM260.47,325.78a0.8,0.75 0 1,0 1.6,0a0.8,0.75 0 1,0 -1.6,0ZM267.83,325.78a0.8,0.75 0 1,0 1.6,0a0.8,0.75 0 1,0 -1.6,0ZM270.13,325.78a0.8,0.75 0 1,0 1.6,0a0.8,0.75 0 1,0 -1.6,0ZM272.44,325.78a0.8,0.75 0 1,0 1.6,0a0.8,0.75 0 1,0 -1.6,0ZM279.81,325.78a0.8,0.75 0 1,0 1.6,0a0.8,0.75 0 1,0 -1.6,0ZM282.11,325.78a0.8,0.75 0 1,0 1.6,0a0.8,0.75 0 1,0 -1.6,0ZM284.41,325.78a0.8,0.75 0 1,0 1.6,0a0.8,0.75 0 1,0 -1.6,0ZM291.78,325.78a0.8,0.75 0 1,0 1.6,0a0.8,0.75 0 1,0 -1.6,0ZM294.08,325.78a0.8,0.75 0 1,0 1.6,0a0.8,0.75 0 1,0 -1.6,0ZM296.38,325.78a0.8,0.75 0 1,0 1.6,0a0.8,0.75 0 1,0 -1.6,0ZM363.60,325.78a0.8,0.75 0 1,0 1.6,0a0.8,0.75 0 1,0 -1.6,0ZM365.90,325.78a0.8,0.75 0 1,0 1.6,0a0.8,0.75 0 1,0 -1.6,0ZM368.20,325.78a0.8,0.75 0 1,0 1.6,0a0.8,0.75 0 1,0 -1.6,0ZM88.28,339.12a0.8,0.75 0 1,0 1.6,0a0.8,0.75 0 1,0 -1.6,0ZM90.58,339.12a0.8,0.75 0 1,0 1.6,0a0.8,0.75 0 1,0 -1.6,0ZM92.88,339.12a0.8,0.75 0 1,0 1.6,0a0.8,0.75 0 1,0 -1.6,0ZM219.95,339.12a0.8,0.75 0 1,0 1.6,0a0.8,0.75 0 1,0 -1.6,0ZM222.25,339.12a0.8,0.75 0 1,0 1.6,0a0.8,0.75 0 1,0 -1.6,0ZM224.55,339.12a0.8,0.75 0 1,0 1.6,0a0.8,0.75 0 1,0 -1.6,0ZM233.07,339.12a0.8,0.75 0 1,0 1.6,0a0.8,0.75 0 1,0 -1.6,0ZM235.38,339.12a0.8,0.75 0 1,0 1.6,0a0.8,0.75 0 1,0 -1.6,0ZM255.87,339.12a0.8,0.75 0 1,0 1.6,0a0.8,0.75 0 1,0 -1.6,0ZM258.17,339.12a0.8,0.75 0 1,0 1.6,0a0.8,0.75 0 1,0 -1.6,0ZM260.47,339.12a0.8,0.75 0 1,0 1.6,0a0.8,0.75 0 1,0 -1.6,0ZM267.83,339.12a0.8,0.75 0 1,0 1.6,0a0.8,0.75 0 1,0 -1.6,0ZM270.13,339.12a0.8,0.75 0 1,0 1.6,0a0.8,0.75 0 1,0 -1.6,0ZM272.44,339.12a0.8,0.75 0 1,0 1.6,0a0.8,0.75 0 1,0 -1.6,0ZM279.81,339.12a0.8,0.75 0 1,0 1.6,0a0.8,0.75 0 1,0 -1.6,0ZM282.11,339.12a0.8,0.75 0 1,0 1.6,0a0.8,0.75 0 1,0 -1.6,0ZM284.41,339.12a0.8,0.75 0 1,0 1.6,0a0.8,0.75 0 1,0 -1.6,0ZM291.78,339.12a0.8,0.75 0 1,0 1.6,0a0.8,0.75 0 1,0 -1.6,0ZM294.08,339.12a0.8,0.75 0 1,0 1.6,0a0.8,0.75 0 1,0 -1.6,0ZM296.38,339.12a0.8,0.75 0 1,0 1.6,0a0.8,0.75 0 1,0 -1.6,0ZM461.66,339.12a0.8,0.75 0 1,0 1.6,0a0.8,0.75 0 1,0 -1.6,0ZM89.43,352.46a0.8,0.75 0 1,0 1.6,0a0.8,0.75 0 1,0 -1.6,0ZM91.73,352.46a0.8,0.75 0 1,0 1.6,0a0.8,0.75 0 1,0 -1.6,0ZM222.25,352.46a0.8,0.75 0 1,0 1.6,0a0.8,0.75 0 1,0 -1.6,0ZM257.02,352.46a0.8,0.75 0 1,0 1.6,0a0.8,0.75 0 1,0 -1.6,0ZM259.31,352.46a0.8,0.75 0 1,0 1.6,0a0.8,0.75 0 1,0 -1.6,0ZM267.83,352.46a0.8,0.75 0 1,0 1.6,0a0.8,0.75 0 1,0 -1.6,0ZM270.13,352.46a0.8,0.75 0 1,0 1.6,0a0.8,0.75 0 1,0 -1.6,0ZM272.44,352.46a0.8,0.75 0 1,0 1.6,0a0.8,0.75 0 1,0 -1.6,0ZM279.81,352.46a0.8,0.75 0 1,0 1.6,0a0.8,0.75 0 1,0 -1.6,0ZM282.11,352.46a0.8,0.75 0 1,0 1.6,0a0.8,0.75 0 1,0 -1.6,0ZM284.41,352.46a0.8,0.75 0 1,0 1.6,0a0.8,0.75 0 1,0 -1.6,0ZM291.78,352.46a0.8,0.75 0 1,0 1.6,0a0.8,0.75 0 1,0 -1.6,0ZM294.08,352.46a0.8,0.75 0 1,0 1.6,0a0.8,0.75 0 1,0 -1.6,0ZM296.38,352.46a0.8,0.75 0 1,0 1.6,0a0.8,0.75 0 1,0 -1.6,0ZM172.07,365.80a0.8,0.75 0 1,0 1.6,0a0.8,0.75 0 1,0 -1.6,0ZM174.37,365.80a0.8,0.75 0 1,0 1.6,0a0.8,0.75 0 1,0 -1.6,0ZM176.67,365.80a0.8,0.75 0 1,0 1.6,0a0.8,0.75 0 1,0 -1.6,0ZM184.04,365.80a0.8,0.75 0 1,0 1.6,0a0.8,0.75 0 1,0 -1.6,0ZM186.34,365.80a0.8,0.75 0 1,0 1.6,0a0.8,0.75 0 1,0 -1.6,0ZM188.65,365.80a0.8,0.75 0 1,0 1.6,0a0.8,0.75 0 1,0 -1.6,0ZM327.69,365.80a0.8,0.75 0 1,0 1.6,0a0.8,0.75 0 1,0 -1.6,0ZM329.99,365.80a0.8,0.75 0 1,0 1.6,0a0.8,0.75 0 1,0 -1.6,0ZM332.29,365.80a0.8,0.75 0 1,0 1.6,0a0.8,0.75 0 1,0 -1.6,0ZM102.55,379.14a0.8,0.75 0 1,0 1.6,0a0.8,0.75 0 1,0 -1.6,0ZM185.19,379.14a0.8,0.75 0 1,0 1.6,0a0.8,0.75 0 1,0 -1.6,0ZM187.50,379.14a0.8,0.75 0 1,0 1.6,0a0.8,0.75 0 1,0 -1.6,0ZM339.66,379.14a0.8,0.75 0 1,0 1.6,0a0.8,0.75 0 1,0 -1.6,0ZM341.96,379.14a0.8,0.75 0 1,0 1.6,0a0.8,0.75 0 1,0 -1.6,0ZM344.26,379.14a0.8,0.75 0 1,0 1.6,0a0.8,0.75 0 1,0 -1.6,0ZM459.36,379.14a0.8,0.75 0 1,0 1.6,0a0.8,0.75 0 1,0 -1.6,0ZM461.66,379.14a0.8,0.75 0 1,0 1.6,0a0.8,0.75 0 1,0 -1.6,0ZM463.96,379.14a0.8,0.75 0 1,0 1.6,0a0.8,0.75 0 1,0 -1.6,0ZM125.34,392.48a0.8,0.75 0 1,0 1.6,0a0.8,0.75 0 1,0 -1.6,0ZM127.64,392.48a0.8,0.75 0 1,0 1.6,0a0.8,0.75 0 1,0 -1.6,0ZM136.16,392.48a0.8,0.75 0 1,0 1.6,0a0.8,0.75 0 1,0 -1.6,0ZM138.46,392.48a0.8,0.75 0 1,0 1.6,0a0.8,0.75 0 1,0 -1.6,0ZM140.76,392.48a0.8,0.75 0 1,0 1.6,0a0.8,0.75 0 1,0 -1.6,0ZM185.19,392.48a0.8,0.75 0 1,0 1.6,0a0.8,0.75 0 1,0 -1.6,0ZM187.50,392.48a0.8,0.75 0 1,0 1.6,0a0.8,0.75 0 1,0 -1.6,0ZM196.01,392.48a0.8,0.75 0 1,0 1.6,0a0.8,0.75 0 1,0 -1.6,0ZM198.31,392.48a0.8,0.75 0 1,0 1.6,0a0.8,0.75 0 1,0 -1.6,0ZM200.61,392.48a0.8,0.75 0 1,0 1.6,0a0.8,0.75 0 1,0 -1.6,0ZM231.92,392.48a0.8,0.75 0 1,0 1.6,0a0.8,0.75 0 1,0 -1.6,0ZM234.22,392.48a0.8,0.75 0 1,0 1.6,0a0.8,0.75 0 1,0 -1.6,0ZM236.53,392.48a0.8,0.75 0 1,0 1.6,0a0.8,0.75 0 1,0 -1.6,0ZM279.81,392.48a0.8,0.75 0 1,0 1.6,0a0.8,0.75 0 1,0 -1.6,0ZM282.11,392.48a0.8,0.75 0 1,0 1.6,0a0.8,0.75 0 1,0 -1.6,0ZM284.41,392.48a0.8,0.75 0 1,0 1.6,0a0.8,0.75 0 1,0 -1.6,0ZM304.90,392.48a0.8,0.75 0 1,0 1.6,0a0.8,0.75 0 1,0 -1.6,0ZM307.19,392.48a0.8,0.75 0 1,0 1.6,0a0.8,0.75 0 1,0 -1.6,0ZM318.02,392.48a0.8,0.75 0 1,0 1.6,0a0.8,0.75 0 1,0 -1.6,0ZM328.84,392.48a0.8,0.75 0 1,0 1.6,0a0.8,0.75 0 1,0 -1.6,0ZM331.13,392.48a0.8,0.75 0 1,0 1.6,0a0.8,0.75 0 1,0 -1.6,0ZM341.96,392.48a0.8,0.75 0 1,0 1.6,0a0.8,0.75 0 1,0 -1.6,0ZM353.93,392.48a0.8,0.75 0 1,0 1.6,0a0.8,0.75 0 1,0 -1.6,0ZM461.66,392.48a0.8,0.75 0 1,0 1.6,0a0.8,0.75 0 1,0 -1.6,0ZM90.58,405.82a0.8,0.75 0 1,0 1.6,0a0.8,0.75 0 1,0 -1.6,0ZM162.41,405.82a0.8,0.75 0 1,0 1.6,0a0.8,0.75 0 1,0 -1.6,0ZM174.37,405.82a0.8,0.75 0 1,0 1.6,0a0.8,0.75 0 1,0 -1.6,0ZM185.19,405.82a0.8,0.75 0 1,0 1.6,0a0.8,0.75 0 1,0 -1.6,0ZM187.50,405.82a0.8,0.75 0 1,0 1.6,0a0.8,0.75 0 1,0 -1.6,0ZM196.01,405.82a0.8,0.75 0 1,0 1.6,0a0.8,0.75 0 1,0 -1.6,0ZM198.31,405.82a0.8,0.75 0 1,0 1.6,0a0.8,0.75 0 1,0 -1.6,0ZM200.61,405.82a0.8,0.75 0 1,0 1.6,0a0.8,0.75 0 1,0 -1.6,0ZM222.25,405.82a0.8,0.75 0 1,0 1.6,0a0.8,0.75 0 1,0 -1.6,0ZM234.22,405.82a0.8,0.75 0 1,0 1.6,0a0.8,0.75 0 1,0 -1.6,0ZM270.13,405.82a0.8,0.75 0 1,0 1.6,0a0.8,0.75 0 1,0 -1.6,0ZM294.08,405.82a0.8,0.75 0 1,0 1.6,0a0.8,0.75 0 1,0 -1.6,0ZM339.66,405.82a0.8,0.75 0 1,0 1.6,0a0.8,0.75 0 1,0 -1.6,0ZM341.96,405.82a0.8,0.75 0 1,0 1.6,0a0.8,0.75 0 1,0 -1.6,0ZM344.26,405.82a0.8,0.75 0 1,0 1.6,0a0.8,0.75 0 1,0 -1.6,0ZM353.93,405.82a0.8,0.75 0 1,0 1.6,0a0.8,0.75 0 1,0 -1.6,0ZM461.66,405.82a0.8,0.75 0 1,0 1.6,0a0.8,0.75 0 1,0 -1.6,0ZM101.40,419.16a0.8,0.75 0 1,0 1.6,0a0.8,0.75 0 1,0 -1.6,0ZM103.70,419.16a0.8,0.75 0 1,0 1.6,0a0.8,0.75 0 1,0 -1.6,0ZM231.92,419.16a0.8,0.75 0 1,0 1.6,0a0.8,0.75 0 1,0 -1.6,0ZM234.22,419.16a0.8,0.75 0 1,0 1.6,0a0.8,0.75 0 1,0 -1.6,0ZM236.53,419.16a0.8,0.75 0 1,0 1.6,0a0.8,0.75 0 1,0 -1.6,0ZM270.13,419.16a0.8,0.75 0 1,0 1.6,0a0.8,0.75 0 1,0 -1.6,0ZM279.81,419.16a0.8,0.75 0 1,0 1.6,0a0.8,0.75 0 1,0 -1.6,0ZM282.11,419.16a0.8,0.75 0 1,0 1.6,0a0.8,0.75 0 1,0 -1.6,0ZM284.41,419.16a0.8,0.75 0 1,0 1.6,0a0.8,0.75 0 1,0 -1.6,0ZM303.75,419.16a0.8,0.75 0 1,0 1.6,0a0.8,0.75 0 1,0 -1.6,0ZM306.05,419.16a0.8,0.75 0 1,0 1.6,0a0.8,0.75 0 1,0 -1.6,0ZM308.35,419.16a0.8,0.75 0 1,0 1.6,0a0.8,0.75 0 1,0 -1.6,0ZM315.72,419.16a0.8,0.75 0 1,0 1.6,0a0.8,0.75 0 1,0 -1.6,0ZM318.02,419.16a0.8,0.75 0 1,0 1.6,0a0.8,0.75 0 1,0 -1.6,0ZM320.32,419.16a0.8,0.75 0 1,0 1.6,0a0.8,0.75 0 1,0 -1.6,0ZM327.69,419.16a0.8,0.75 0 1,0 1.6,0a0.8,0.75 0 1,0 -1.6,0ZM329.99,419.16a0.8,0.75 0 1,0 1.6,0a0.8,0.75 0 1,0 -1.6,0ZM332.29,419.16a0.8,0.75 0 1,0 1.6,0a0.8,0.75 0 1,0 -1.6,0ZM341.96,419.16a0.8,0.75 0 1,0 1.6,0a0.8,0.75 0 1,0 -1.6,0ZM351.62,419.16a0.8,0.75 0 1,0 1.6,0a0.8,0.75 0 1,0 -1.6,0ZM353.93,419.16a0.8,0.75 0 1,0 1.6,0a0.8,0.75 0 1,0 -1.6,0ZM356.23,419.16a0.8,0.75 0 1,0 1.6,0a0.8,0.75 0 1,0 -1.6,0ZM363.60,419.16a0.8,0.75 0 1,0 1.6,0a0.8,0.75 0 1,0 -1.6,0ZM365.90,419.16a0.8,0.75 0 1,0 1.6,0a0.8,0.75 0 1,0 -1.6,0ZM368.20,419.16a0.8,0.75 0 1,0 1.6,0a0.8,0.75 0 1,0 -1.6,0ZM375.57,419.16a0.8,0.75 0 1,0 1.6,0a0.8,0.75 0 1,0 -1.6,0ZM377.87,419.16a0.8,0.75 0 1,0 1.6,0a0.8,0.75 0 1,0 -1.6,0ZM380.17,419.16a0.8,0.75 0 1,0 1.6,0a0.8,0.75 0 1,0 -1.6,0ZM435.42,419.16a0.8,0.75 0 1,0 1.6,0a0.8,0.75 0 1,0 -1.6,0ZM437.72,419.16a0.8,0.75 0 1,0 1.6,0a0.8,0.75 0 1,0 -1.6,0ZM440.02,419.16a0.8,0.75 0 1,0 1.6,0a0.8,0.75 0 1,0 -1.6,0ZM449.69,419.16a0.8,0.75 0 1,0 1.6,0a0.8,0.75 0 1,0 -1.6,0ZM89.43,432.50a0.8,0.75 0 1,0 1.6,0a0.8,0.75 0 1,0 -1.6,0ZM91.73,432.50a0.8,0.75 0 1,0 1.6,0a0.8,0.75 0 1,0 -1.6,0ZM101.40,432.50a0.8,0.75 0 1,0 1.6,0a0.8,0.75 0 1,0 -1.6,0ZM103.70,432.50a0.8,0.75 0 1,0 1.6,0a0.8,0.75 0 1,0 -1.6,0ZM174.37,432.50a0.8,0.75 0 1,0 1.6,0a0.8,0.75 0 1,0 -1.6,0ZM186.34,432.50a0.8,0.75 0 1,0 1.6,0a0.8,0.75 0 1,0 -1.6,0ZM233.07,432.50a0.8,0.75 0 1,0 1.6,0a0.8,0.75 0 1,0 -1.6,0ZM235.38,432.50a0.8,0.75 0 1,0 1.6,0a0.8,0.75 0 1,0 -1.6,0ZM258.17,432.50a0.8,0.75 0 1,0 1.6,0a0.8,0.75 0 1,0 -1.6,0ZM280.96,432.50a0.8,0.75 0 1,0 1.6,0a0.8,0.75 0 1,0 -1.6,0ZM283.25,432.50a0.8,0.75 0 1,0 1.6,0a0.8,0.75 0 1,0 -1.6,0ZM329.99,432.50a0.8,0.75 0 1,0 1.6,0a0.8,0.75 0 1,0 -1.6,0ZM339.66,432.50a0.8,0.75 0 1,0 1.6,0a0.8,0.75 0 1,0 -1.6,0ZM341.96,432.50a0.8,0.75 0 1,0 1.6,0a0.8,0.75 0 1,0 -1.6,0ZM344.26,432.50a0.8,0.75 0 1,0 1.6,0a0.8,0.75 0 1,0 -1.6,0ZM351.62,432.50a0.8,0.75 0 1,0 1.6,0a0.8,0.75 0 1,0 -1.6,0ZM353.93,432.50a0.8,0.75 0 1,0 1.6,0a0.8,0.75 0 1,0 -1.6,0ZM356.23,432.50a0.8,0.75 0 1,0 1.6,0a0.8,0.75 0 1,0 -1.6,0ZM363.60,432.50a0.8,0.75 0 1,0 1.6,0a0.8,0.75 0 1,0 -1.6,0ZM365.90,432.50a0.8,0.75 0 1,0 1.6,0a0.8,0.75 0 1,0 -1.6,0ZM368.20,432.50a0.8,0.75 0 1,0 1.6,0a0.8,0.75 0 1,0 -1.6,0ZM375.57,432.50a0.8,0.75 0 1,0 1.6,0a0.8,0.75 0 1,0 -1.6,0ZM377.87,432.50a0.8,0.75 0 1,0 1.6,0a0.8,0.75 0 1,0 -1.6,0ZM380.17,432.50a0.8,0.75 0 1,0 1.6,0a0.8,0.75 0 1,0 -1.6,0ZM231.92,445.84a0.8,0.75 0 1,0 1.6,0a0.8,0.75 0 1,0 -1.6,0ZM234.22,445.84a0.8,0.75 0 1,0 1.6,0a0.8,0.75 0 1,0 -1.6,0ZM236.53,445.84a0.8,0.75 0 1,0 1.6,0a0.8,0.75 0 1,0 -1.6,0ZM270.13,445.84a0.8,0.75 0 1,0 1.6,0a0.8,0.75 0 1,0 -1.6,0ZM279.81,445.84a0.8,0.75 0 1,0 1.6,0a0.8,0.75 0 1,0 -1.6,0ZM282.11,445.84a0.8,0.75 0 1,0 1.6,0a0.8,0.75 0 1,0 -1.6,0ZM284.41,445.84a0.8,0.75 0 1,0 1.6,0a0.8,0.75 0 1,0 -1.6,0ZM304.90,445.84a0.8,0.75 0 1,0 1.6,0a0.8,0.75 0 1,0 -1.6,0ZM307.19,445.84a0.8,0.75 0 1,0 1.6,0a0.8,0.75 0 1,0 -1.6,0ZM318.02,445.84a0.8,0.75 0 1,0 1.6,0a0.8,0.75 0 1,0 -1.6,0ZM363.60,445.84a0.8,0.75 0 1,0 1.6,0a0.8,0.75 0 1,0 -1.6,0ZM365.90,445.84a0.8,0.75 0 1,0 1.6,0a0.8,0.75 0 1,0 -1.6,0ZM368.20,445.84a0.8,0.75 0 1,0 1.6,0a0.8,0.75 0 1,0 -1.6,0ZM375.57,445.84a0.8,0.75 0 1,0 1.6,0a0.8,0.75 0 1,0 -1.6,0ZM377.87,445.84a0.8,0.75 0 1,0 1.6,0a0.8,0.75 0 1,0 -1.6,0ZM380.17,445.84a0.8,0.75 0 1,0 1.6,0a0.8,0.75 0 1,0 -1.6,0ZM387.54,445.84a0.8,0.75 0 1,0 1.6,0a0.8,0.75 0 1,0 -1.6,0ZM389.84,445.84a0.8,0.75 0 1,0 1.6,0a0.8,0.75 0 1,0 -1.6,0ZM392.14,445.84a0.8,0.75 0 1,0 1.6,0a0.8,0.75 0 1,0 -1.6,0ZM399.51,445.84a0.8,0.75 0 1,0 1.6,0a0.8,0.75 0 1,0 -1.6,0ZM401.81,445.84a0.8,0.75 0 1,0 1.6,0a0.8,0.75 0 1,0 -1.6,0ZM404.11,445.84a0.8,0.75 0 1,0 1.6,0a0.8,0.75 0 1,0 -1.6,0ZM125.34,459.18a0.8,0.75 0 1,0 1.6,0a0.8,0.75 0 1,0 -1.6,0ZM127.64,459.18a0.8,0.75 0 1,0 1.6,0a0.8,0.75 0 1,0 -1.6,0ZM148.13,459.18a0.8,0.75 0 1,0 1.6,0a0.8,0.75 0 1,0 -1.6,0ZM150.43,459.18a0.8,0.75 0 1,0 1.6,0a0.8,0.75 0 1,0 -1.6,0ZM152.73,459.18a0.8,0.75 0 1,0 1.6,0a0.8,0.75 0 1,0 -1.6,0ZM173.22,459.18a0.8,0.75 0 1,0 1.6,0a0.8,0.75 0 1,0 -1.6,0ZM175.52,459.18a0.8,0.75 0 1,0 1.6,0a0.8,0.75 0 1,0 -1.6,0ZM231.92,459.18a0.8,0.75 0 1,0 1.6,0a0.8,0.75 0 1,0 -1.6,0ZM234.22,459.18a0.8,0.75 0 1,0 1.6,0a0.8,0.75 0 1,0 -1.6,0ZM236.53,459.18a0.8,0.75 0 1,0 1.6,0a0.8,0.75 0 1,0 -1.6,0ZM245.04,459.18a0.8,0.75 0 1,0 1.6,0a0.8,0.75 0 1,0 -1.6,0ZM247.34,459.18a0.8,0.75 0 1,0 1.6,0a0.8,0.75 0 1,0 -1.6,0ZM282.11,459.18a0.8,0.75 0 1,0 1.6,0a0.8,0.75 0 1,0 -1.6,0ZM339.66,459.18a0.8,0.75 0 1,0 1.6,0a0.8,0.75 0 1,0 -1.6,0ZM341.96,459.18a0.8,0.75 0 1,0 1.6,0a0.8,0.75 0 1,0 -1.6,0ZM344.26,459.18a0.8,0.75 0 1,0 1.6,0a0.8,0.75 0 1,0 -1.6,0ZM353.93,459.18a0.8,0.75 0 1,0 1.6,0a0.8,0.75 0 1,0 -1.6,0ZM363.60,459.18a0.8,0.75 0 1,0 1.6,0a0.8,0.75 0 1,0 -1.6,0ZM365.90,459.18a0.8,0.75 0 1,0 1.6,0a0.8,0.75 0 1,0 -1.6,0ZM368.20,459.18a0.8,0.75 0 1,0 1.6,0a0.8,0.75 0 1,0 -1.6,0ZM375.57,459.18a0.8,0.75 0 1,0 1.6,0a0.8,0.75 0 1,0 -1.6,0ZM377.87,459.18a0.8,0.75 0 1,0 1.6,0a0.8,0.75 0 1,0 -1.6,0ZM380.17,459.18a0.8,0.75 0 1,0 1.6,0a0.8,0.75 0 1,0 -1.6,0ZM387.54,459.18a0.8,0.75 0 1,0 1.6,0a0.8,0.75 0 1,0 -1.6,0ZM389.84,459.18a0.8,0.75 0 1,0 1.6,0a0.8,0.75 0 1,0 -1.6,0ZM392.14,459.18a0.8,0.75 0 1,0 1.6,0a0.8,0.75 0 1,0 -1.6,0ZM399.51,459.18a0.8,0.75 0 1,0 1.6,0a0.8,0.75 0 1,0 -1.6,0ZM401.81,459.18a0.8,0.75 0 1,0 1.6,0a0.8,0.75 0 1,0 -1.6,0ZM404.11,459.18a0.8,0.75 0 1,0 1.6,0a0.8,0.75 0 1,0 -1.6,0ZM126.49,472.52a0.8,0.75 0 1,0 1.6,0a0.8,0.75 0 1,0 -1.6,0ZM150.43,472.52a0.8,0.75 0 1,0 1.6,0a0.8,0.75 0 1,0 -1.6,0ZM221.10,472.52a0.8,0.75 0 1,0 1.6,0a0.8,0.75 0 1,0 -1.6,0ZM223.40,472.52a0.8,0.75 0 1,0 1.6,0a0.8,0.75 0 1,0 -1.6,0ZM231.92,472.52a0.8,0.75 0 1,0 1.6,0a0.8,0.75 0 1,0 -1.6,0ZM234.22,472.52a0.8,0.75 0 1,0 1.6,0a0.8,0.75 0 1,0 -1.6,0ZM236.53,472.52a0.8,0.75 0 1,0 1.6,0a0.8,0.75 0 1,0 -1.6,0ZM246.19,472.52a0.8,0.75 0 1,0 1.6,0a0.8,0.75 0 1,0 -1.6,0ZM255.87,472.52a0.8,0.75 0 1,0 1.6,0a0.8,0.75 0 1,0 -1.6,0ZM258.17,472.52a0.8,0.75 0 1,0 1.6,0a0.8,0.75 0 1,0 -1.6,0ZM260.47,472.52a0.8,0.75 0 1,0 1.6,0a0.8,0.75 0 1,0 -1.6,0ZM267.83,472.52a0.8,0.75 0 1,0 1.6,0a0.8,0.75 0 1,0 -1.6,0ZM270.13,472.52a0.8,0.75 0 1,0 1.6,0a0.8,0.75 0 1,0 -1.6,0ZM272.44,472.52a0.8,0.75 0 1,0 1.6,0a0.8,0.75 0 1,0 -1.6,0ZM279.81,472.52a0.8,0.75 0 1,0 1.6,0a0.8,0.75 0 1,0 -1.6,0ZM282.11,472.52a0.8,0.75 0 1,0 1.6,0a0.8,0.75 0 1,0 -1.6,0ZM284.41,472.52a0.8,0.75 0 1,0 1.6,0a0.8,0.75 0 1,0 -1.6,0ZM291.78,472.52a0.8,0.75 0 1,0 1.6,0a0.8,0.75 0 1,0 -1.6,0ZM294.08,472.52a0.8,0.75 0 1,0 1.6,0a0.8,0.75 0 1,0 -1.6,0ZM296.38,472.52a0.8,0.75 0 1,0 1.6,0a0.8,0.75 0 1,0 -1.6,0ZM303.75,472.52a0.8,0.75 0 1,0 1.6,0a0.8,0.75 0 1,0 -1.6,0ZM306.05,472.52a0.8,0.75 0 1,0 1.6,0a0.8,0.75 0 1,0 -1.6,0ZM308.35,472.52a0.8,0.75 0 1,0 1.6,0a0.8,0.75 0 1,0 -1.6,0ZM315.72,472.52a0.8,0.75 0 1,0 1.6,0a0.8,0.75 0 1,0 -1.6,0ZM318.02,472.52a0.8,0.75 0 1,0 1.6,0a0.8,0.75 0 1,0 -1.6,0ZM320.32,472.52a0.8,0.75 0 1,0 1.6,0a0.8,0.75 0 1,0 -1.6,0ZM327.69,472.52a0.8,0.75 0 1,0 1.6,0a0.8,0.75 0 1,0 -1.6,0ZM329.99,472.52a0.8,0.75 0 1,0 1.6,0a0.8,0.75 0 1,0 -1.6,0ZM332.29,472.52a0.8,0.75 0 1,0 1.6,0a0.8,0.75 0 1,0 -1.6,0ZM363.60,472.52a0.8,0.75 0 1,0 1.6,0a0.8,0.75 0 1,0 -1.6,0ZM365.90,472.52a0.8,0.75 0 1,0 1.6,0a0.8,0.75 0 1,0 -1.6,0ZM368.20,472.52a0.8,0.75 0 1,0 1.6,0a0.8,0.75 0 1,0 -1.6,0ZM375.57,472.52a0.8,0.75 0 1,0 1.6,0a0.8,0.75 0 1,0 -1.6,0ZM377.87,472.52a0.8,0.75 0 1,0 1.6,0a0.8,0.75 0 1,0 -1.6,0ZM380.17,472.52a0.8,0.75 0 1,0 1.6,0a0.8,0.75 0 1,0 -1.6,0ZM387.54,472.52a0.8,0.75 0 1,0 1.6,0a0.8,0.75 0 1,0 -1.6,0ZM389.84,472.52a0.8,0.75 0 1,0 1.6,0a0.8,0.75 0 1,0 -1.6,0ZM392.14,472.52a0.8,0.75 0 1,0 1.6,0a0.8,0.75 0 1,0 -1.6,0ZM399.51,472.52a0.8,0.75 0 1,0 1.6,0a0.8,0.75 0 1,0 -1.6,0ZM401.81,472.52a0.8,0.75 0 1,0 1.6,0a0.8,0.75 0 1,0 -1.6,0ZM404.11,472.52a0.8,0.75 0 1,0 1.6,0a0.8,0.75 0 1,0 -1.6,0ZM423.45,472.52a0.8,0.75 0 1,0 1.6,0a0.8,0.75 0 1,0 -1.6,0ZM425.75,472.52a0.8,0.75 0 1,0 1.6,0a0.8,0.75 0 1,0 -1.6,0ZM428.05,472.52a0.8,0.75 0 1,0 1.6,0a0.8,0.75 0 1,0 -1.6,0ZM150.43,485.86a0.8,0.75 0 1,0 1.6,0a0.8,0.75 0 1,0 -1.6,0ZM270.13,485.86a0.8,0.75 0 1,0 1.6,0a0.8,0.75 0 1,0 -1.6,0ZM282.11,485.86a0.8,0.75 0 1,0 1.6,0a0.8,0.75 0 1,0 -1.6,0ZM329.99,485.86a0.8,0.75 0 1,0 1.6,0a0.8,0.75 0 1,0 -1.6,0ZM340.81,485.86a0.8,0.75 0 1,0 1.6,0a0.8,0.75 0 1,0 -1.6,0ZM343.11,485.86a0.8,0.75 0 1,0 1.6,0a0.8,0.75 0 1,0 -1.6,0ZM352.78,485.86a0.8,0.75 0 1,0 1.6,0a0.8,0.75 0 1,0 -1.6,0ZM355.07,485.86a0.8,0.75 0 1,0 1.6,0a0.8,0.75 0 1,0 -1.6,0ZM365.90,485.86a0.8,0.75 0 1,0 1.6,0a0.8,0.75 0 1,0 -1.6,0ZM377.87,485.86a0.8,0.75 0 1,0 1.6,0a0.8,0.75 0 1,0 -1.6,0ZM387.54,485.86a0.8,0.75 0 1,0 1.6,0a0.8,0.75 0 1,0 -1.6,0ZM389.84,485.86a0.8,0.75 0 1,0 1.6,0a0.8,0.75 0 1,0 -1.6,0ZM392.14,485.86a0.8,0.75 0 1,0 1.6,0a0.8,0.75 0 1,0 -1.6,0ZM399.51,485.86a0.8,0.75 0 1,0 1.6,0a0.8,0.75 0 1,0 -1.6,0ZM401.81,485.86a0.8,0.75 0 1,0 1.6,0a0.8,0.75 0 1,0 -1.6,0ZM404.11,485.86a0.8,0.75 0 1,0 1.6,0a0.8,0.75 0 1,0 -1.6,0ZM423.45,485.86a0.8,0.75 0 1,0 1.6,0a0.8,0.75 0 1,0 -1.6,0ZM425.75,485.86a0.8,0.75 0 1,0 1.6,0a0.8,0.75 0 1,0 -1.6,0ZM428.05,485.86a0.8,0.75 0 1,0 1.6,0a0.8,0.75 0 1,0 -1.6,0ZM436.57,485.86a0.8,0.75 0 1,0 1.6,0a0.8,0.75 0 1,0 -1.6,0ZM438.87,485.86a0.8,0.75 0 1,0 1.6,0a0.8,0.75 0 1,0 -1.6,0ZM148.13,499.20a0.8,0.75 0 1,0 1.6,0a0.8,0.75 0 1,0 -1.6,0ZM150.43,499.20a0.8,0.75 0 1,0 1.6,0a0.8,0.75 0 1,0 -1.6,0ZM152.73,499.20a0.8,0.75 0 1,0 1.6,0a0.8,0.75 0 1,0 -1.6,0ZM267.83,499.20a0.8,0.75 0 1,0 1.6,0a0.8,0.75 0 1,0 -1.6,0ZM270.13,499.20a0.8,0.75 0 1,0 1.6,0a0.8,0.75 0 1,0 -1.6,0ZM272.44,499.20a0.8,0.75 0 1,0 1.6,0a0.8,0.75 0 1,0 -1.6,0ZM280.96,499.20a0.8,0.75 0 1,0 1.6,0a0.8,0.75 0 1,0 -1.6,0ZM283.25,499.20a0.8,0.75 0 1,0 1.6,0a0.8,0.75 0 1,0 -1.6,0ZM294.08,499.20a0.8,0.75 0 1,0 1.6,0a0.8,0.75 0 1,0 -1.6,0ZM387.54,499.20a0.8,0.75 0 1,0 1.6,0a0.8,0.75 0 1,0 -1.6,0ZM389.84,499.20a0.8,0.75 0 1,0 1.6,0a0.8,0.75 0 1,0 -1.6,0ZM392.14,499.20a0.8,0.75 0 1,0 1.6,0a0.8,0.75 0 1,0 -1.6,0ZM399.51,499.20a0.8,0.75 0 1,0 1.6,0a0.8,0.75 0 1,0 -1.6,0ZM401.81,499.20a0.8,0.75 0 1,0 1.6,0a0.8,0.75 0 1,0 -1.6,0ZM404.11,499.20a0.8,0.75 0 1,0 1.6,0a0.8,0.75 0 1,0 -1.6,0ZM425.75,499.20a0.8,0.75 0 1,0 1.6,0a0.8,0.75 0 1,0 -1.6,0ZM387.54,512.54a0.8,0.75 0 1,0 1.6,0a0.8,0.75 0 1,0 -1.6,0ZM389.84,512.54a0.8,0.75 0 1,0 1.6,0a0.8,0.75 0 1,0 -1.6,0ZM392.14,512.54a0.8,0.75 0 1,0 1.6,0a0.8,0.75 0 1,0 -1.6,0ZM399.51,512.54a0.8,0.75 0 1,0 1.6,0a0.8,0.75 0 1,0 -1.6,0ZM401.81,512.54a0.8,0.75 0 1,0 1.6,0a0.8,0.75 0 1,0 -1.6,0ZM404.11,512.54a0.8,0.75 0 1,0 1.6,0a0.8,0.75 0 1,0 -1.6,0ZM424.60,512.54a0.8,0.75 0 1,0 1.6,0a0.8,0.75 0 1,0 -1.6,0ZM426.90,512.54a0.8,0.75 0 1,0 1.6,0a0.8,0.75 0 1,0 -1.6,0ZM353.93,525.88a0.8,0.75 0 1,0 1.6,0a0.8,0.75 0 1,0 -1.6,0ZM387.54,525.88a0.8,0.75 0 1,0 1.6,0a0.8,0.75 0 1,0 -1.6,0ZM389.84,525.88a0.8,0.75 0 1,0 1.6,0a0.8,0.75 0 1,0 -1.6,0ZM392.14,525.88a0.8,0.75 0 1,0 1.6,0a0.8,0.75 0 1,0 -1.6,0ZM399.51,525.88a0.8,0.75 0 1,0 1.6,0a0.8,0.75 0 1,0 -1.6,0ZM401.81,525.88a0.8,0.75 0 1,0 1.6,0a0.8,0.75 0 1,0 -1.6,0ZM404.11,525.88a0.8,0.75 0 1,0 1.6,0a0.8,0.75 0 1,0 -1.6,0ZM424.60,525.88a0.8,0.75 0 1,0 1.6,0a0.8,0.75 0 1,0 -1.6,0ZM426.90,525.88a0.8,0.75 0 1,0 1.6,0a0.8,0.75 0 1,0 -1.6,0Z"/>
<path fill="#ffffff" d="M112.22,73.27a0.8,0.75 0 1,0 1.6,0a0.8,0.75 0 1,0 -1.6,0ZM114.52,73.27a0.8,0.75 0 1,0 1.6,0a0.8,0.75 0 1,0 -1.6,0ZM116.82,73.27a0.8,0.75 0 1,0 1.6,0a0.8,0.75 0 1,0 -1.6,0ZM124.19,73.27a0.8,0.75 0 1,0 1.6,0a0.8,0.75 0 1,0 -1.6,0ZM126.49,73.27a0.8,0.75 0 1,0 1.6,0a0.8,0.75 0 1,0 -1.6,0ZM128.79,73.27a0.8,0.75 0 1,0 1.6,0a0.8,0.75 0 1,0 -1.6,0ZM136.16,73.27a0.8,0.75 0 1,0 1.6,0a0.8,0.75 0 1,0 -1.6,0ZM138.46,73.27a0.8,0.75 0 1,0 1.6,0a0.8,0.75 0 1,0 -1.6,0ZM140.76,73.27a0.8,0.75 0 1,0 1.6,0a0.8,0.75 0 1,0 -1.6,0ZM148.13,73.27a0.8,0.75 0 1,0 1.6,0a0.8,0.75 0 1,0 -1.6,0ZM150.43,73.27a0.8,0.75 0 1,0 1.6,0a0.8,0.75 0 1,0 -1.6,0ZM152.73,73.27a0.8,0.75 0 1,0 1.6,0a0.8,0.75 0 1,0 -1.6,0ZM160.10,73.27a0.8,0.75 0 1,0 1.6,0a0.8,0.75 0 1,0 -1.6,0ZM162.41,73.27a0.8,0.75 0 1,0 1.6,0a0.8,0.75 0 1,0 -1.6,0ZM164.71,73.27a0.8,0.75 0 1,0 1.6,0a0.8,0.75 0 1,0 -1.6,0ZM172.07,73.27a0.8,0.75 0 1,0 1.6,0a0.8,0.75 0 1,0 -1.6,0ZM174.37,73.27a0.8,0.75 0 1,0 1.6,0a0.8,0.75 0 1,0 -1.6,0ZM176.67,73.27a0.8,0.75 0 1,0 1.6,0a0.8,0.75 0 1,0 -1.6,0ZM124.19,86.61a0.8,0.75 0 1,0 1.6,0a0.8,0.75 0 1,0 -1.6,0ZM126.49,86.61a0.8,0.75 0 1,0 1.6,0a0.8,0.75 0 1,0 -1.6,0ZM128.79,86.61a0.8,0.75 0 1,0 1.6,0a0.8,0.75 0 1,0 -1.6,0ZM136.16,86.61a0.8,0.75 0 1,0 1.6,0a0.8,0.75 0 1,0 -1.6,0ZM138.46,86.61a0.8,0.75 0 1,0 1.6,0a0.8,0.75 0 1,0 -1.6,0ZM140.76,86.61a0.8,0.75 0 1,0 1.6,0a0.8,0.75 0 1,0 -1.6,0ZM148.13,86.61a0.8,0.75 0 1,0 1.6,0a0.8,0.75 0 1,0 -1.6,0ZM150.43,86.61a0.8,0.75 0 1,0 1.6,0a0.8,0.75 0 1,0 -1.6,0ZM152.73,86.61a0.8,0.75 0 1,0 1.6,0a0.8,0.75 0 1,0 -1.6,0ZM160.10,86.61a0.8,0.75 0 1,0 1.6,0a0.8,0.75 0 1,0 -1.6,0ZM162.41,86.61a0.8,0.75 0 1,0 1.6,0a0.8,0.75 0 1,0 -1.6,0ZM164.71,86.61a0.8,0.75 0 1,0 1.6,0a0.8,0.75 0 1,0 -1.6,0ZM172.07,86.61a0.8,0.75 0 1,0 1.6,0a0.8,0.75 0 1,0 -1.6,0ZM174.37,86.61a0.8,0.75 0 1,0 1.6,0a0.8,0.75 0 1,0 -1.6,0ZM176.67,86.61a0.8,0.75 0 1,0 1.6,0a0.8,0.75 0 1,0 -1.6,0ZM88.28,99.95a0.8,0.75 0 1,0 1.6,0a0.8,0.75 0 1,0 -1.6,0ZM90.58,99.95a0.8,0.75 0 1,0 1.6,0a0.8,0.75 0 1,0 -1.6,0ZM92.88,99.95a0.8,0.75 0 1,0 1.6,0a0.8,0.75 0 1,0 -1.6,0ZM148.13,99.95a0.8,0.75 0 1,0 1.6,0a0.8,0.75 0 1,0 -1.6,0ZM150.43,99.95a0.8,0.75 0 1,0 1.6,0a0.8,0.75 0 1,0 -1.6,0ZM152.73,99.95a0.8,0.75 0 1,0 1.6,0a0.8,0.75 0 1,0 -1.6,0ZM160.10,99.95a0.8,0.75 0 1,0 1.6,0a0.8,0.75 0 1,0 -1.6,0ZM162.41,99.95a0.8,0.75 0 1,0 1.6,0a0.8,0.75 0 1,0 -1.6,0ZM164.71,99.95a0.8,0.75 0 1,0 1.6,0a0.8,0.75 0 1,0 -1.6,0ZM172.07,99.95a0.8,0.75 0 1,0 1.6,0a0.8,0.75 0 1,0 -1.6,0ZM174.37,99.95a0.8,0.75 0 1,0 1.6,0a0.8,0.75 0 1,0 -1.6,0ZM176.67,99.95a0.8,0.75 0 1,0 1.6,0a0.8,0.75 0 1,0 -1.6,0ZM148.13,113.29a0.8,0.75 0 1,0 1.6,0a0.8,0.75 0 1,0 -1.6,0ZM150.43,113.29a0.8,0.75 0 1,0 1.6,0a0.8,0.75 0 1,0 -1.6,0ZM152.73,113.29a0.8,0.75 0 1,0 1.6,0a0.8,0.75 0 1,0 -1.6,0ZM160.10,113.29a0.8,0.75 0 1,0 1.6,0a0.8,0.75 0 1,0 -1.6,0ZM162.41,113.29a0.8,0.75 0 1,0 1.6,0a0.8,0.75 0 1,0 -1.6,0ZM164.71,113.29a0.8,0.75 0 1,0 1.6,0a0.8,0.75 0 1,0 -1.6,0ZM172.07,113.29a0.8,0.75 0 1,0 1.6,0a0.8,0.75 0 1,0 -1.6,0ZM174.37,113.29a0.8,0.75 0 1,0 1.6,0a0.8,0.75 0 1,0 -1.6,0ZM176.67,113.29a0.8,0.75 0 1,0 1.6,0a0.8,0.75 0 1,0 -1.6,0ZM160.10,126.63a0.8,0.75 0 1,0 1.6,0a0.8,0.75 0 1,0 -1.6,0ZM162.41,126.63a0.8,0.75 0 1,0 1.6,0a0.8,0.75 0 1,0 -1.6,0ZM164.71,126.63a0.8,0.75 0 1,0 1.6,0a0.8,0.75 0 1,0 -1.6,0ZM172.07,126.63a0.8,0.75 0 1,0 1.6,0a0.8,0.75 0 1,0 -1.6,0ZM174.37,126.63a0.8,0.75 0 1,0 1.6,0a0.8,0.75 0 1,0 -1.6,0ZM176.67,126.63a0.8,0.75 0 1,0 1.6,0a0.8,0.75 0 1,0 -1.6,0ZM196.01,126.63a0.8,0.75 0 1,0 1.6,0a0.8,0.75 0 1,0 -1.6,0ZM198.31,126.63a0.8,0.75 0 1,0 1.6,0a0.8,0.75 0 1,0 -1.6,0ZM200.61,126.63a0.8,0.75 0 1,0 1.6,0a0.8,0.75 0 1,0 -1.6,0ZM172.07,139.97a0.8,0.75 0 1,0 1.6,0a0.8,0.75 0 1,0 -1.6,0ZM174.37,139.97a0.8,0.75 0 1,0 1.6,0a0.8,0.75 0 1,0 -1.6,0ZM176.67,139.97a0.8,0.75 0 1,0 1.6,0a0.8,0.75 0 1,0 -1.6,0ZM196.01,166.65a0.8,0.75 0 1,0 1.6,0a0.8,0.75 0 1,0 -1.6,0ZM198.31,166.65a0.8,0.75 0 1,0 1.6,0a0.8,0.75 0 1,0 -1.6,0ZM200.61,166.65a0.8,0.75 0 1,0 1.6,0a0.8,0.75 0 1,0 -1.6,0ZM243.89,220.01a0.8,0.75 0 1,0 1.6,0a0.8,0.75 0 1,0 -1.6,0ZM246.19,220.01a0.8,0.75 0 1,0 1.6,0a0.8,0.75 0 1,0 -1.6,0ZM248.49,220.01a0.8,0.75 0 1,0 1.6,0a0.8,0.75 0 1,0 -1.6,0ZM255.87,220.01a0.8,0.75 0 1,0 1.6,0a0.8,0.75 0 1,0 -1.6,0ZM258.17,220.01a0.8,0.75 0 1,0 1.6,0a0.8,0.75 0 1,0 -1.6,0ZM260.47,220.01a0.8,0.75 0 1,0 1.6,0a0.8,0.75 0 1,0 -1.6,0ZM255.87,233.35a0.8,0.75 0 1,0 1.6,0a0.8,0.75 0 1,0 -1.6,0ZM258.17,233.35a0.8,0.75 0 1,0 1.6,0a0.8,0.75 0 1,0 -1.6,0ZM260.47,233.35a0.8,0.75 0 1,0 1.6,0a0.8,0.75 0 1,0 -1.6,0ZM219.95,246.69a0.8,0.75 0 1,0 1.6,0a0.8,0.75 0 1,0 -1.6,0ZM222.25,246.69a0.8,0.75 0 1,0 1.6,0a0.8,0.75 0 1,0 -1.6,0ZM224.55,246.69a0.8,0.75 0 1,0 1.6,0a0.8,0.75 0 1,0 -1.6,0ZM279.81,260.03a0.8,0.75 0 1,0 1.6,0a0.8,0.75 0 1,0 -1.6,0ZM282.11,260.03a0.8,0.75 0 1,0 1.6,0a0.8,0.75 0 1,0 -1.6,0ZM284.41,260.03a0.8,0.75 0 1,0 1.6,0a0.8,0.75 0 1,0 -1.6,0ZM243.89,273.37a0.8,0.75 0 1,0 1.6,0a0.8,0.75 0 1,0 -1.6,0ZM246.19,273.37a0.8,0.75 0 1,0 1.6,0a0.8,0.75 0 1,0 -1.6,0ZM248.49,273.37a0.8,0.75 0 1,0 1.6,0a0.8,0.75 0 1,0 -1.6,0ZM267.83,300.05a0.8,0.75 0 1,0 1.6,0a0.8,0.75 0 1,0 -1.6,0ZM270.13,300.05a0.8,0.75 0 1,0 1.6,0a0.8,0.75 0 1,0 -1.6,0ZM272.44,300.05a0.8,0.75 0 1,0 1.6,0a0.8,0.75 0 1,0 -1.6,0ZM267.83,313.39a0.8,0.75 0 1,0 1.6,0a0.8,0.75 0 1,0 -1.6,0ZM270.13,313.39a0.8,0.75 0 1,0 1.6,0a0.8,0.75 0 1,0 -1.6,0ZM272.44,313.39a0.8,0.75 0 1,0 1.6,0a0.8,0.75 0 1,0 -1.6,0ZM279.81,313.39a0.8,0.75 0 1,0 1.6,0a0.8,0.75 0 1,0 -1.6,0ZM282.11,313.39a0.8,0.75 0 1,0 1.6,0a0.8,0.75 0 1,0 -1.6,0ZM284.41,313.39a0.8,0.75 0 1,0 1.6,0a0.8,0.75 0 1,0 -1.6,0ZM327.69,313.39a0.8,0.75 0 1,0 1.6,0a0.8,0.75 0 1,0 -1.6,0ZM329.99,313.39a0.8,0.75 0 1,0 1.6,0a0.8,0.75 0 1,0 -1.6,0ZM332.29,313.39a0.8,0.75 0 1,0 1.6,0a0.8,0.75 0 1,0 -1.6,0ZM303.75,340.07a0.8,0.75 0 1,0 1.6,0a0.8,0.75 0 1,0 -1.6,0ZM306.05,340.07a0.8,0.75 0 1,0 1.6,0a0.8,0.75 0 1,0 -1.6,0ZM308.35,340.07a0.8,0.75 0 1,0 1.6,0a0.8,0.75 0 1,0 -1.6,0ZM303.75,353.41a0.8,0.75 0 1,0 1.6,0a0.8,0.75 0 1,0 -1.6,0ZM306.05,353.41a0.8,0.75 0 1,0 1.6,0a0.8,0.75 0 1,0 -1.6,0ZM308.35,353.41a0.8,0.75 0 1,0 1.6,0a0.8,0.75 0 1,0 -1.6,0ZM315.72,353.41a0.8,0.75 0 1,0 1.6,0a0.8,0.75 0 1,0 -1.6,0ZM318.02,353.41a0.8,0.75 0 1,0 1.6,0a0.8,0.75 0 1,0 -1.6,0ZM320.32,353.41a0.8,0.75 0 1,0 1.6,0a0.8,0.75 0 1,0 -1.6,0ZM387.54,380.09a0.8,0.75 0 1,0 1.6,0a0.8,0.75 0 1,0 -1.6,0ZM389.84,380.09a0.8,0.75 0 1,0 1.6,0a0.8,0.75 0 1,0 -1.6,0ZM392.14,380.09a0.8,0.75 0 1,0 1.6,0a0.8,0.75 0 1,0 -1.6,0ZM399.51,380.09a0.8,0.75 0 1,0 1.6,0a0.8,0.75 0 1,0 -1.6,0ZM401.81,380.09a0.8,0.75 0 1,0 1.6,0a0.8,0.75 0 1,0 -1.6,0ZM404.11,380.09a0.8,0.75 0 1,0 1.6,0a0.8,0.75 0 1,0 -1.6,0ZM399.51,393.43a0.8,0.75 0 1,0 1.6,0a0.8,0.75 0 1,0 -1.6,0ZM401.81,393.43a0.8,0.75 0 1,0 1.6,0a0.8,0.75 0 1,0 -1.6,0ZM404.11,393.43a0.8,0.75 0 1,0 1.6,0a0.8,0.75 0 1,0 -1.6,0ZM363.60,406.77a0.8,0.75 0 1,0 1.6,0a0.8,0.75 0 1,0 -1.6,0ZM365.90,406.77a0.8,0.75 0 1,0 1.6,0a0.8,0.75 0 1,0 -1.6,0ZM368.20,406.77a0.8,0.75 0 1,0 1.6,0a0.8,0.75 0 1,0 -1.6,0ZM423.45,420.11a0.8,0.75 0 1,0 1.6,0a0.8,0.75 0 1,0 -1.6,0ZM425.75,420.11a0.8,0.75 0 1,0 1.6,0a0.8,0.75 0 1,0 -1.6,0ZM428.05,420.11a0.8,0.75 0 1,0 1.6,0a0.8,0.75 0 1,0 -1.6,0ZM387.54,433.45a0.8,0.75 0 1,0 1.6,0a0.8,0.75 0 1,0 -1.6,0ZM389.84,433.45a0.8,0.75 0 1,0 1.6,0a0.8,0.75 0 1,0 -1.6,0ZM392.14,433.45a0.8,0.75 0 1,0 1.6,0a0.8,0.75 0 1,0 -1.6,0ZM411.48,460.13a0.8,0.75 0 1,0 1.6,0a0.8,0.75 0 1,0 -1.6,0ZM413.78,460.13a0.8,0.75 0 1,0 1.6,0a0.8,0.75 0 1,0 -1.6,0ZM416.08,460.13a0.8,0.75 0 1,0 1.6,0a0.8,0.75 0 1,0 -1.6,0ZM411.48,473.47a0.8,0.75 0 1,0 1.6,0a0.8,0.75 0 1,0 -1.6,0ZM413.78,473.47a0.8,0.75 0 1,0 1.6,0a0.8,0.75 0 1,0 -1.6,0ZM416.08,473.47a0.8,0.75 0 1,0 1.6,0a0.8,0.75 0 1,0 -1.6,0ZM471.33,473.47a0.8,0.75 0 1,0 1.6,0a0.8,0.75 0 1,0 -1.6,0ZM473.63,473.47a0.8,0.75 0 1,0 1.6,0a0.8,0.75 0 1,0 -1.6,0ZM475.93,473.47a0.8,0.75 0 1,0 1.6,0a0.8,0.75 0 1,0 -1.6,0ZM447.39,500.15a0.8,0.75 0 1,0 1.6,0a0.8,0.75 0 1,0 -1.6,0ZM449.69,500.15a0.8,0.75 0 1,0 1.6,0a0.8,0.75 0 1,0 -1.6,0ZM451.99,500.15a0.8,0.75 0 1,0 1.6,0a0.8,0.75 0 1,0 -1.6,0ZM447.39,513.49a0.8,0.75 0 1,0 1.6,0a0.8,0.75 0 1,0 -1.6,0ZM449.69,513.49a0.8,0.75 0 1,0 1.6,0a0.8,0.75 0 1,0 -1.6,0ZM451.99,513.49a0.8,0.75 0 1,0 1.6,0a0.8,0.75 0 1,0 -1.6,0ZM459.36,513.49a0.8,0.75 0 1,0 1.6,0a0.8,0.75 0 1,0 -1.6,0ZM461.66,513.49a0.8,0.75 0 1,0 1.6,0a0.8,0.75 0 1,0 -1.6,0ZM463.96,513.49a0.8,0.75 0 1,0 1.6,0a0.8,0.75 0 1,0 -1.6,0ZM447.39,526.83a0.8,0.75 0 1,0 1.6,0a0.8,0.75 0 1,0 -1.6,0ZM449.69,526.83a0.8,0.75 0 1,0 1.6,0a0.8,0.75 0 1,0 -1.6,0ZM451.99,526.83a0.8,0.75 0 1,0 1.6,0a0.8,0.75 0 1,0 -1.6,0ZM459.36,526.83a0.8,0.75 0 1,0 1.6,0a0.8,0.75 0 1,0 -1.6,0ZM461.66,526.83a0.8,0.75 0 1,0 1.6,0a0.8,0.75 0 1,0 -1.6,0ZM463.96,526.83a0.8,0.75 0 1,0 1.6,0a0.8,0.75 0 1,0 -1.6,0ZM471.33,526.83a0.8,0.75 0 1,0 1.6,0a0.8,0.75 0 1,0 -1.6,0ZM473.63,526.83a0.8,0.75 0 1,0 1.6,0a0.8,0.75 0 1,0 -1.6,0ZM475.93,526.83a0.8,0.75 0 1,0 1.6,0a0.8,0.75 0 1,0 -1.6,0Z"/>
<g stroke="#444" stroke-width="0.6"><line x1="83.6" y1="86.11" x2="85.3" y2="86.11"/><line x1="91.28" y1="533.00" x2="91.28" y2="534.70"/><line x1="83.6" y1="99.45" x2="85.3" y2="99.45"/><line x1="103.25" y1="533.00" x2="103.25" y2="534.70"/><line x1="83.6" y1="112.79" x2="85.3" y2="112.79"/><line x1="115.22" y1="533.00" x2="115.22" y2="534.70"/><line x1="83.6" y1="126.13" x2="85.3" y2="126.13"/><line x1="127.19" y1="533.00" x2="127.19" y2="534.70"/><line x1="83.6" y1="139.47" x2="85.3" y2="139.47"/><line x1="139.16" y1="533.00" x2="139.16" y2="534.70"/><line x1="83.6" y1="152.81" x2="85.3" y2="152.81"/><line x1="151.13" y1="533.00" x2="151.13" y2="534.70"/><line x1="83.6" y1="166.15" x2="85.3" y2="166.15"/><line x1="163.11" y1="533.00" x2="163.11" y2="534.70"/><line x1="83.6" y1="179.49" x2="85.3" y2="179.49"/><line x1="175.07" y1="533.00" x2="175.07" y2="534.70"/><line x1="83.6" y1="192.83" x2="85.3" y2="192.83"/><line x1="187.05" y1="533.00" x2="187.05" y2="534.70"/><line x1="83.6" y1="206.17" x2="85.3" y2="206.17"/><line x1="199.01" y1="533.00" x2="199.01" y2="534.70"/><line x1="83.6" y1="219.51" x2="85.3" y2="219.51"/><line x1="210.99" y1="533.00" x2="210.99" y2="534.70"/><line x1="83.6" y1="232.85" x2="85.3" y2="232.85"/><line x1="222.95" y1="533.00" x2="222.95" y2="534.70"/><line x1="83.6" y1="246.19" x2="85.3" y2="246.19"/><line x1="234.93" y1="533.00" x2="234.93" y2="534.70"/><line x1="83.6" y1="259.53" x2="85.3" y2="259.53"/><line x1="246.89" y1="533.00" x2="246.89" y2="534.70"/><line x1="83.6" y1="272.87" x2="85.3" y2="272.87"/><line x1="258.87" y1="533.00" x2="258.87" y2="534.70"/><line x1="83.6" y1="286.21" x2="85.3" y2="286.21"/><line x1="270.83" y1="533.00" x2="270.83" y2="534.70"/><line x1="83.6" y1="299.55" x2="85.3" y2="299.55"/><line x1="282.81" y1="533.00" x2="282.81" y2="534.70"/><line x1="83.6" y1="312.89" x2="85.3" y2="312.89"/><line x1="294.78" y1="533.00" x2="294.78" y2="534.70"/><line x1="83.6" y1="326.23" x2="85.3" y2="326.23"/><line x1="306.75" y1="533.00" x2="306.75" y2="534.70"/><line x1="83.6" y1="339.57" x2="85.3" y2="339.57"/><line x1="318.72" y1="533.00" x2="318.72" y2="534.70"/><line x1="83.6" y1="352.91" x2="85.3" y2="352.91"/><line x1="330.69" y1="533.00" x2="330.69" y2="534.70"/><line x1="83.6" y1="366.25" x2="85.3" y2="366.25"/><line x1="342.66" y1="533.00" x2="342.66" y2="534.70"/><line x1="83.6" y1="379.59" x2="85.3" y2="379.59"/><line x1="354.62" y1="533.00" x2="354.62" y2="534.70"/><line x1="83.6" y1="392.93" x2="85.3" y2="392.93"/><line x1="366.60" y1="533.00" x2="366.60" y2="534.70"/><line x1="83.6" y1="406.27" x2="85.3" y2="406.27"/><line x1="378.57" y1="533.00" x2="378.57" y2="534.70"/><line x1="83.6" y1="419.61" x2="85.3" y2="419.61"/><line x1="390.54" y1="533.00" x2="390.54" y2="534.70"/><line x1="83.6" y1="432.95" x2="85.3" y2="432.95"/><line x1="402.51" y1="533.00" x2="402.51" y2="534.70"/><line x1="83.6" y1="446.29" x2="85.3" y2="446.29"/><line x1="414.48" y1="533.00" x2="414.48" y2="534.70"/><line x1="83.6" y1="459.63" x2="85.3" y2="459.63"/><line x1="426.45" y1="533.00" x2="426.45" y2="534.70"/><line x1="83.6" y1="472.97" x2="85.3" y2="472.97"/><line x1="438.42" y1="533.00" x2="438.42" y2="534.70"/><line x1="83.6" y1="486.31" x2="85.3" y2="486.31"/><line x1="450.39" y1="533.00" x2="450.39" y2="534.70"/><line x1="83.6" y1="499.65" x2="85.3" y2="499.65"/><line x1="462.36" y1="533.00" x2="462.36" y2="534.70"/><line x1="83.6" y1="512.99" x2="85.3" y2="512.99"/><line x1="474.33" y1="533.00" x2="474.33" y2="534.70"/><line x1="83.6" y1="526.33" x2="85.3" y2="526.33"/><line x1="486.30" y1="533.00" x2="486.30" y2="534.70"/><line x1="504.25" y1="72.77" x2="505.95" y2="72.77"/><line x1="103.25" y1="64.40" x2="103.25" y2="66.10"/><line x1="504.25" y1="86.11" x2="505.95" y2="86.11"/><line x1="115.22" y1="64.40" x2="115.22" y2="66.10"/><line x1="504.25" y1="99.45" x2="505.95" y2="99.45"/><line x1="127.19" y1="64.40" x2="127.19" y2="66.10"/><line x1="504.25" y1="112.79" x2="505.95" y2="112.79"/><line x1="139.16" y1="64.40" x2="139.16" y2="66.10"/><line x1="504.25" y1="126.13" x2="505.95" y2="126.13"/><line x1="151.13" y1="64.40" x2="151.13" y2="66.10"/><line x1="504.25" y1="139.47" x2="505.95" y2="139.47"/><line x1="163.11" y1="64.40" x2="163.11" y2="66.10"/><line x1="504.25" y1="152.81" x2="505.95" y2="152.81"/><line x1="175.07" y1="64.40" x2="175.07" y2="66.10"/><line x1="504.25" y1="166.15" x2="505.95" y2="166.15"/><line x1="187.05" y1="64.40" x2="187.05" y2="66.10"/><line x1="504.25" y1="179.49" x2="505.95" y2="179.49"/><line x1="199.01" y1="64.40" x2="199.01" y2="66.10"/><line x1="504.25" y1="192.83" x2="505.95" y2="192.83"/><line x1="210.99" y1="64.40" x2="210.99" y2="66.10"/><line x1="504.25" y1="206.17" x2="505.95" y2="206.17"/><line x1="222.95" y1="64.40" x2="222.95" y2="66.10"/><line x1="504.25" y1="219.51" x2="505.95" y2="219.51"/><line x1="234.93" y1="64.40" x2="234.93" y2="66.10"/><line x1="504.25" y1="232.85" x2="505.95" y2="232.85"/><line x1="246.89" y1="64.40" x2="246.89" y2="66.10"/><line x1="504.25" y1="246.19" x2="505.95" y2="246.19"/><line x1="258.87" y1="64.40" x2="258.87" y2="66.10"/><line x1="504.25" y1="259.53" x2="505.95" y2="259.53"/><line x1="270.83" y1="64.40" x2="270.83" y2="66.10"/><line x1="504.25" y1="272.87" x2="505.95" y2="272.87"/><line x1="282.81" y1="64.40" x2="282.81" y2="66.10"/><line x1="504.25" y1="286.21" x2="505.95" y2="286.21"/><line x1="294.78" y1="64.40" x2="294.78" y2="66.10"/><line x1="504.25" y1="299.55" x2="505.95" y2="299.55"/><line x1="306.75" y1="64.40" x2="306.75" y2="66.10"/><line x1="504.25" y1="312.89" x2="505.95" y2="312.89"/><line x1="318.72" y1="64.40" x2="318.72" y2="66.10"/><line x1="504.25" y1="326.23" x2="505.95" y2="326.23"/><line x1="330.69" y1="64.40" x2="330.69" y2="66.10"/><line x1="504.25" y1="339.57" x2="505.95" y2="339.57"/><line x1="342.66" y1="64.40" x2="342.66" y2="66.10"/><line x1="504.25" y1="352.91" x2="505.95" y2="352.91"/><line x1="354.62" y1="64.40" x2="354.62" y2="66.10"/><line x1="504.25" y1="366.25" x2="505.95" y2="366.25"/><line x1="366.60" y1="64.40" x2="366.60" y2="66.10"/><line x1="504.25" y1="379.59" x2="505.95" y2="379.59"/><line x1="378.57" y1="64.40" x2="378.57" y2="66.10"/><line x1="504.25" y1="392.93" x2="505.95" y2="392.93"/><line x1="390.54" y1="64.40" x2="390.54" y2="66.10"/><line x1="504.25" y1="406.27" x2="505.95" y2="406.27"/><line x1="402.51" y1="64.40" x2="402.51" y2="66.10"/><line x1="504.25" y1="419.61" x2="505.95" y2="419.61"/><line x1="414.48" y1="64.40" x2="414.48" y2="66.10"/><line x1="504.25" y1="432.95" x2="505.95" y2="432.95"/><line x1="426.45" y1="64.40" x2="426.45" y2="66.10"/><line x1="504.25" y1="446.29" x2="505.95" y2="446.29"/><line x1="438.42" y1="64.40" x2="438.42" y2="66.10"/><line x1="504.25" y1="459.63" x2="505.95" y2="459.63"/><line x1="450.39" y1="64.40" x2="450.39" y2="66.10"/><line x1="504.25" y1="472.97" x2="505.95" y2="472.97"/><line x1="462.36" y1="64.40" x2="462.36" y2="66.10"/><line x1="504.25" y1="486.31" x2="505.95" y2="486.31"/><line x1="474.33" y1="64.40" x2="474.33" y2="66.10"/><line x1="504.25" y1="499.65" x2="505.95" y2="499.65"/><line x1="486.30" y1="64.40" x2="486.30" y2="66.10"/><line x1="504.25" y1="512.99" x2="505.95" y2="512.99"/><line x1="498.27" y1="64.40" x2="498.27" y2="66.10"/></g>
<g font-size="10" fill="#111" stroke="#111" stroke-width="0.12"><text x="81.7" y="90.31" text-anchor="end">Zorya</text><text transform="translate(95.08,535.8) rotate(-90)" text-anchor="end">Zorya</text><text x="81.7" y="103.65" text-anchor="end">Eleos</text><text transform="translate(107.05,535.8) rotate(-90)" text-anchor="end">Eleos</text><text x="81.7" y="116.99" text-anchor="end">Dynamins</text><text transform="translate(119.02,535.8) rotate(-90)" text-anchor="end">Dynamins</text><text x="81.7" y="130.33" text-anchor="end">Retron</text><text transform="translate(131.00,535.8) rotate(-90)" text-anchor="end">Retron</text><text x="81.7" y="143.67" text-anchor="end">CBASS</text><text transform="translate(142.97,535.8) rotate(-90)" text-anchor="end">CBASS</text><text x="81.7" y="157.01" text-anchor="end">AbiH</text><text transform="translate(154.94,535.8) rotate(-90)" text-anchor="end">AbiH</text><text x="81.7" y="170.35" text-anchor="end">PD-T4-3</text><text transform="translate(166.91,535.8) rotate(-90)" text-anchor="end">PD-T4-3</text><text x="81.7" y="183.69" text-anchor="end">PD-Lambda-5</text><text transform="translate(178.88,535.8) rotate(-90)" text-anchor="end">PD-Lambda-5</text><text x="81.7" y="197.03" text-anchor="end">argonaute</text><text transform="translate(190.85,535.8) rotate(-90)" text-anchor="end">argonaute</text><text x="81.7" y="210.37" text-anchor="end">PsyrTA</text><text transform="translate(202.81,535.8) rotate(-90)" text-anchor="end">PsyrTA</text><text x="81.7" y="223.71" text-anchor="end">Azaca</text><text transform="translate(214.79,535.8) rotate(-90)" text-anchor="end">Azaca</text><text x="81.7" y="237.05" text-anchor="end">Shango</text><text transform="translate(226.75,535.8) rotate(-90)" text-anchor="end">Shango</text><text x="81.7" y="250.39" text-anchor="end">Druantia</text><text transform="translate(238.73,535.8) rotate(-90)" text-anchor="end">Druantia</text><text x="81.7" y="263.73" text-anchor="end">BREX</text><text transform="translate(250.69,535.8) rotate(-90)" text-anchor="end">BREX</text><text x="81.7" y="277.07" text-anchor="end">AbiU</text><text transform="translate(262.67,535.8) rotate(-90)" text-anchor="end">AbiU</text><text x="81.7" y="290.41" text-anchor="end">Septu</text><text transform="translate(274.63,535.8) rotate(-90)" text-anchor="end">Septu</text><text x="81.7" y="303.75" text-anchor="end">AbiL</text><text transform="translate(286.61,535.8) rotate(-90)" text-anchor="end">AbiL</text><text x="81.7" y="317.09" text-anchor="end">Wadjet</text><text transform="translate(298.58,535.8) rotate(-90)" text-anchor="end">Wadjet</text><text x="81.7" y="330.43" text-anchor="end">Menshen</text><text transform="translate(310.55,535.8) rotate(-90)" text-anchor="end">Menshen</text><text x="81.7" y="343.77" text-anchor="end">AbiD</text><text transform="translate(322.52,535.8) rotate(-90)" text-anchor="end">AbiD</text><text x="81.7" y="357.11" text-anchor="end">DRT</text><text transform="translate(334.49,535.8) rotate(-90)" text-anchor="end">DRT</text><text x="81.7" y="370.45" text-anchor="end">VSPR</text><text transform="translate(346.46,535.8) rotate(-90)" text-anchor="end">VSPR</text><text x="81.7" y="383.79" text-anchor="end">mza</text><text transform="translate(358.43,535.8) rotate(-90)" text-anchor="end">mza</text><text x="81.7" y="397.13" text-anchor="end">SoFic</text><text transform="translate(370.40,535.8) rotate(-90)" text-anchor="end">SoFic</text><text x="81.7" y="410.47" text-anchor="end">AbiE</text><text transform="translate(382.37,535.8) rotate(-90)" text-anchor="end">AbiE</text><text x="81.7" y="423.81" text-anchor="end">RM</text><text transform="translate(394.34,535.8) rotate(-90)" text-anchor="end">RM</text><text x="81.7" y="437.15" text-anchor="end">Gabija</text><text transform="translate(406.31,535.8) rotate(-90)" text-anchor="end">Gabija</text><text x="81.7" y="450.49" text-anchor="end">ietAS</text><text transform="translate(418.28,535.8) rotate(-90)" text-anchor="end">ietAS</text><text x="81.7" y="463.83" text-anchor="end">GAO_19</text><text transform="translate(430.25,535.8) rotate(-90)" text-anchor="end">GAO_19</text><text x="81.7" y="477.17" text-anchor="end">CRISPR-Cas</text><text transform="translate(442.22,535.8) rotate(-90)" text-anchor="end">CRISPR-Cas</text><text x="81.7" y="490.51" text-anchor="end">Tiamat</text><text transform="translate(454.19,535.8) rotate(-90)" text-anchor="end">Tiamat</text><text x="81.7" y="503.85" text-anchor="end">PT_Dnd</text><text transform="translate(466.16,535.8) rotate(-90)" text-anchor="end">PT_Dnd</text><text x="81.7" y="517.19" text-anchor="end">PT_PbeABCD</text><text transform="translate(478.13,535.8) rotate(-90)" text-anchor="end">PT_PbeABCD</text><text x="81.7" y="530.53" text-anchor="end">Hachiman</text><text transform="translate(490.10,535.8) rotate(-90)" text-anchor="end">Hachiman</text><text x="508.1" y="76.87">Menshen</text><text transform="translate(107.75,63.2) rotate(-90)">Menshen</text><text x="508.1" y="90.21">Septu</text><text transform="translate(119.72,63.2) rotate(-90)">Septu</text><text x="508.1" y="103.55">Azaca</text><text transform="translate(131.69,63.2) rotate(-90)">Azaca</text><text x="508.1" y="116.89">PT_Dnd</text><text transform="translate(143.66,63.2) rotate(-90)">PT_Dnd</text><text x="508.1" y="130.23">PT_PbeABCD</text><text transform="translate(155.63,63.2) rotate(-90)">PT_PbeABCD</text><text x="508.1" y="143.57">BREX</text><text transform="translate(167.61,63.2) rotate(-90)">BREX</text><text x="508.1" y="156.91">CBASS</text><text transform="translate(179.57,63.2) rotate(-90)">CBASS</text><text x="508.1" y="170.25">AbiL</text><text transform="translate(191.55,63.2) rotate(-90)">AbiL</text><text x="508.1" y="183.59">GAO_19</text><text transform="translate(203.51,63.2) rotate(-90)">GAO_19</text><text x="508.1" y="196.93">AbiD</text><text transform="translate(215.49,63.2) rotate(-90)">AbiD</text><text x="508.1" y="210.27">AbiE</text><text transform="translate(227.45,63.2) rotate(-90)">AbiE</text><text x="508.1" y="223.61">Gabija</text><text transform="translate(239.43,63.2) rotate(-90)">Gabija</text><text x="508.1" y="236.95">PD-T4-3</text><text transform="translate(251.39,63.2) rotate(-90)">PD-T4-3</text><text x="508.1" y="250.29">Shango</text><text transform="translate(263.37,63.2) rotate(-90)">Shango</text><text x="508.1" y="263.63">CRISPR-Cas</text><text transform="translate(275.33,63.2) rotate(-90)">CRISPR-Cas</text><text x="508.1" y="276.97">Wadjet</text><text transform="translate(287.31,63.2) rotate(-90)">Wadjet</text><text x="508.1" y="290.31">mza</text><text transform="translate(299.28,63.2) rotate(-90)">mza</text><text x="508.1" y="303.65">VSPR</text><text transform="translate(311.25,63.2) rotate(-90)">VSPR</text><text x="508.1" y="316.99">argonaute</text><text transform="translate(323.22,63.2) rotate(-90)">argonaute</text><text x="508.1" y="330.33">Hachiman</text><text transform="translate(335.19,63.2) rotate(-90)">Hachiman</text><text x="508.1" y="343.67">ietAS</text><text transform="translate(347.16,63.2) rotate(-90)">ietAS</text><text x="508.1" y="357.01">Druantia</text><text transform="translate(359.12,63.2) rotate(-90)">Druantia</text><text x="508.1" y="370.35">SoFic</text><text transform="translate(371.10,63.2) rotate(-90)">SoFic</text><text x="508.1" y="383.69">DRT</text><text transform="translate(383.07,63.2) rotate(-90)">DRT</text><text x="508.1" y="397.03">Dynamins</text><text transform="translate(395.04,63.2) rotate(-90)">Dynamins</text><text x="508.1" y="410.37">Eleos</text><text transform="translate(407.01,63.2) rotate(-90)">Eleos</text><text x="508.1" y="423.71">AbiU</text><text transform="translate(418.98,63.2) rotate(-90)">AbiU</text><text x="508.1" y="437.05">Retron</text><text transform="translate(430.95,63.2) rotate(-90)">Retron</text><text x="508.1" y="450.39">AbiH</text><text transform="translate(442.92,63.2) rotate(-90)">AbiH</text><text x="508.1" y="463.73">PD-Lambda-5</text><text transform="translate(454.89,63.2) rotate(-90)">PD-Lambda-5</text><text x="508.1" y="477.07">RM</text><text transform="translate(466.86,63.2) rotate(-90)">RM</text><text x="508.1" y="490.41">Tiamat</text><text transform="translate(478.83,63.2) rotate(-90)">Tiamat</text><text x="508.1" y="503.75">PsyrTA</text><text transform="translate(490.80,63.2) rotate(-90)">PsyrTA</text><text x="508.1" y="517.09">Zorya</text><text transform="translate(502.77,63.2) rotate(-90)">Zorya</text></g>
<text x="513.4" y="54.2" font-size="15.5" font-weight="bold">DS in DI</text>
<text x="12.2" y="554.6" font-size="15.5" font-weight="bold">DS of All</text>
<defs><linearGradient id="gpiyg" x1="0" y1="0" x2="0" y2="1"><stop offset="0.000" stop-color="#276419"/><stop offset="0.100" stop-color="#4d9221"/><stop offset="0.200" stop-color="#7fbc41"/><stop offset="0.300" stop-color="#b8e186"/><stop offset="0.400" stop-color="#e6f5d0"/><stop offset="0.500" stop-color="#f7f7f7"/><stop offset="0.600" stop-color="#fde0ef"/><stop offset="0.700" stop-color="#f1b6da"/><stop offset="0.800" stop-color="#de77ae"/><stop offset="0.900" stop-color="#c51b7d"/><stop offset="1.000" stop-color="#8e0152"/></linearGradient></defs>
<rect x="589.1" y="113.7" width="16.60" height="152.40" fill="url(#gpiyg)"/>
<line x1="605.1" y1="113.70" x2="608.00" y2="113.70" stroke="#333" stroke-width="0.8"/>
<text x="608.80" y="116.90" font-size="9.8" fill="#1a1a1a">1</text>
<line x1="605.1" y1="151.80" x2="608.00" y2="151.80" stroke="#333" stroke-width="0.8"/>
<text x="608.80" y="155.00" font-size="9.8" fill="#1a1a1a">0.5</text>
<line x1="605.1" y1="189.90" x2="608.00" y2="189.90" stroke="#333" stroke-width="0.8"/>
<text x="608.80" y="193.10" font-size="9.8" fill="#1a1a1a">0</text>
<line x1="605.1" y1="228.00" x2="608.00" y2="228.00" stroke="#333" stroke-width="0.8"/>
<text x="608.80" y="231.20" font-size="9.8" fill="#1a1a1a">-0.5</text>
<line x1="605.1" y1="266.10" x2="608.00" y2="266.10" stroke="#333" stroke-width="0.8"/>
<text x="608.80" y="269.30" font-size="9.8" fill="#1a1a1a">-1</text>
<text transform="translate(644.6,186.4) rotate(-90)" text-anchor="middle" font-size="14.4" textLength="50.8" lengthAdjust="spacingAndGlyphs" fill="#1a1a1a">DS in DI</text>
<defs><linearGradient id="grdbu" x1="0" y1="0" x2="0" y2="1"><stop offset="0.000" stop-color="#053061"/><stop offset="0.100" stop-color="#2166ac"/><stop offset="0.200" stop-color="#4393c3"/><stop offset="0.300" stop-color="#92c5de"/><stop offset="0.400" stop-color="#d1e5f0"/><stop offset="0.500" stop-color="#f7f7f7"/><stop offset="0.600" stop-color="#fddbc7"/><stop offset="0.700" stop-color="#f4a582"/><stop offset="0.800" stop-color="#d6604d"/><stop offset="0.900" stop-color="#b2182b"/><stop offset="1.000" stop-color="#67001f"/></linearGradient></defs>
<rect x="589.1" y="323.7" width="16.60" height="152.40" fill="url(#grdbu)"/>
<line x1="605.1" y1="323.70" x2="608.00" y2="323.70" stroke="#333" stroke-width="0.8"/>
<text x="608.80" y="326.90" font-size="9.8" fill="#1a1a1a">1</text>
<line x1="605.1" y1="361.80" x2="608.00" y2="361.80" stroke="#333" stroke-width="0.8"/>
<text x="608.80" y="365.00" font-size="9.8" fill="#1a1a1a">0.5</text>
<line x1="605.1" y1="399.90" x2="608.00" y2="399.90" stroke="#333" stroke-width="0.8"/>
<text x="608.80" y="403.10" font-size="9.8" fill="#1a1a1a">0</text>
<line x1="605.1" y1="438.00" x2="608.00" y2="438.00" stroke="#333" stroke-width="0.8"/>
<text x="608.80" y="441.20" font-size="9.8" fill="#1a1a1a">-0.5</text>
<line x1="605.1" y1="476.10" x2="608.00" y2="476.10" stroke="#333" stroke-width="0.8"/>
<text x="608.80" y="479.30" font-size="9.8" fill="#1a1a1a">-1</text>
<text transform="translate(643.6,400.4) rotate(-90)" text-anchor="middle" font-size="14.4" textLength="53.0" lengthAdjust="spacingAndGlyphs" fill="#1a1a1a">DS of All</text>
<text x="89" y="614.90" text-anchor="end" font-size="7.5">QDN-W04B-4228_sbin_40</text>
<text x="89" y="624.90" text-anchor="end" font-size="8.1" font-style="italic">Campylobacterota</text>
<line x1="94.2" y1="622.40" x2="585.6" y2="622.40" stroke="#333" stroke-width="0.6"/>
<line x1="103" y1="631.40" x2="576.6" y2="631.40" stroke="#b5b5b5" stroke-width="0.6"/>
<g stroke="#b5b5b5" stroke-width="0.5"><line x1="155.00" y1="631.40" x2="155.00" y2="633.40"/><line x1="206.50" y1="631.40" x2="206.50" y2="633.40"/><line x1="258.20" y1="631.40" x2="258.20" y2="633.40"/><line x1="309.50" y1="631.40" x2="309.50" y2="633.40"/><line x1="360.80" y1="631.40" x2="360.80" y2="633.40"/><line x1="412.90" y1="631.40" x2="412.90" y2="633.40"/><line x1="464.30" y1="631.40" x2="464.30" y2="633.40"/><line x1="515.60" y1="631.40" x2="515.60" y2="633.40"/><line x1="567.10" y1="631.40" x2="567.10" y2="633.40"/></g>
<g font-size="5.2" fill="#7d7d7d" text-anchor="middle"><text x="155.00" y="638.80">5,000</text><text x="206.50" y="638.80">10,000</text><text x="258.20" y="638.80">15,000</text><text x="309.50" y="638.80">20,000</text><text x="360.80" y="638.80">25,000</text><text x="412.90" y="638.80">30,000</text><text x="464.30" y="638.80">35,000</text><text x="515.60" y="638.80">40,000</text><text x="567.10" y="638.80">45,000</text></g>
<g stroke="#2e2e2e" stroke-width="0.55" stroke-linejoin="round"><path d="M103.00,618.05 L103.00,618.05 L105.50,622.40 L103.00,626.75 L103.00,626.75Z" fill="#cccccc"/><path d="M105.50,618.05 L106.50,618.05 L109.50,622.40 L106.50,626.75 L105.50,626.75Z" fill="#cccccc"/><path d="M114.20,618.05 L114.20,618.05 L111.40,622.40 L114.20,626.75 L114.20,626.75Z" fill="#cccccc"/><path d="M113.80,618.05 L119.50,618.05 L122.50,622.40 L119.50,626.75 L113.80,626.75Z" fill="#d95f02"/><path d="M122.80,618.05 L133.50,618.05 L136.50,622.40 L133.50,626.75 L122.80,626.75Z" fill="#d95f02"/><path d="M136.80,618.05 L136.80,618.05 L139.30,622.40 L136.80,626.75 L136.80,626.75Z" fill="#cccccc"/><path d="M145.50,618.05 L142.30,618.05 L139.30,622.40 L142.30,626.75 L145.50,626.75Z" fill="#cccccc"/><path d="M153.60,618.05 L148.50,618.05 L145.50,622.40 L148.50,626.75 L153.60,626.75Z" fill="#cccccc"/><path d="M170.00,618.05 L156.60,618.05 L153.60,622.40 L156.60,626.75 L170.00,626.75Z" fill="#cccccc"/><path d="M170.60,618.05 L170.60,618.05 L172.00,622.40 L170.60,626.75 L170.60,626.75Z" fill="#cccccc"/><path d="M172.00,618.05 L173.50,618.05 L176.50,622.40 L173.50,626.75 L172.00,626.75Z" fill="#cccccc"/><path d="M181.70,618.05 L180.00,618.05 L177.00,622.40 L180.00,626.75 L181.70,626.75Z" fill="#cccccc"/><path d="M181.70,618.05 L197.40,618.05 L200.40,622.40 L197.40,626.75 L181.70,626.75Z" fill="#cccccc"/><path d="M201.00,618.05 L201.00,618.05 L202.40,622.40 L201.00,626.75 L201.00,626.75Z" fill="#cccccc"/><path d="M203.90,618.05 L203.90,618.05 L202.40,622.40 L203.90,626.75 L203.90,626.75Z" fill="#cccccc"/><path d="M203.90,618.05 L212.50,618.05 L215.50,622.40 L212.50,626.75 L203.90,626.75Z" fill="#d95f02"/><path d="M222.90,618.05 L218.50,618.05 L215.50,622.40 L218.50,626.75 L222.90,626.75Z" fill="#cccccc"/><path d="M233.90,618.05 L225.90,618.05 L222.90,622.40 L225.90,626.75 L233.90,626.75Z" fill="#e7298a"/><path d="M233.90,618.05 L233.90,618.05 L235.70,622.40 L233.90,626.75 L233.90,626.75Z" fill="#cccccc"/><path d="M237.50,618.05 L237.50,618.05 L235.70,622.40 L237.50,626.75 L237.50,626.75Z" fill="#cccccc"/><path d="M239.80,618.05 L239.80,618.05 L237.50,622.40 L239.80,626.75 L239.80,626.75Z" fill="#cccccc"/><path d="M239.80,618.05 L241.50,618.05 L244.50,622.40 L241.50,626.75 L239.80,626.75Z" fill="#cccccc"/><path d="M251.50,618.05 L247.50,618.05 L244.50,622.40 L247.50,626.75 L251.50,626.75Z" fill="#cccccc"/><path d="M253.20,618.05 L253.20,618.05 L251.50,622.40 L253.20,626.75 L253.20,626.75Z" fill="#cccccc"/><path d="M255.00,618.05 L255.00,618.05 L253.20,622.40 L255.00,626.75 L255.00,626.75Z" fill="#cccccc"/><path d="M259.00,618.05 L258.00,618.05 L255.00,622.40 L258.00,626.75 L259.00,626.75Z" fill="#cccccc"/><path d="M268.40,618.05 L262.00,618.05 L259.00,622.40 L262.00,626.75 L268.40,626.75Z" fill="#cccccc"/><path d="M268.60,618.05 L273.70,618.05 L276.70,622.40 L273.70,626.75 L268.60,626.75Z" fill="#1b9e77"/><path d="M277.00,618.05 L279.40,618.05 L282.40,622.40 L279.40,626.75 L277.00,626.75Z" fill="#1b9e77"/><path d="M282.80,618.05 L314.90,618.05 L317.90,622.40 L314.90,626.75 L282.80,626.75Z" fill="#1b9e77"/><path d="M318.50,618.05 L333.30,618.05 L336.30,622.40 L333.30,626.75 L318.50,626.75Z" fill="#1b9e77"/><path d="M337.40,618.05 L370.50,618.05 L373.50,622.40 L370.50,626.75 L337.40,626.75Z" fill="#1b9e77"/><path d="M373.50,618.05 L383.20,618.05 L386.20,622.40 L383.20,626.75 L373.50,626.75Z" fill="#1b9e77"/><path d="M386.80,618.05 L389.50,618.05 L392.50,622.40 L389.50,626.75 L386.80,626.75Z" fill="#1b9e77"/><path d="M393.00,618.05 L414.10,618.05 L417.10,622.40 L414.10,626.75 L393.00,626.75Z" fill="#1b9e77"/><path d="M417.10,618.05 L435.60,618.05 L438.60,622.40 L435.60,626.75 L417.10,626.75Z" fill="#cccccc"/><path d="M451.90,618.05 L442.00,618.05 L439.00,622.40 L442.00,626.75 L451.90,626.75Z" fill="#cccccc"/><path d="M455.00,618.05 L456.50,618.05 L459.50,622.40 L456.50,626.75 L455.00,626.75Z" fill="#7570b3"/><path d="M463.30,618.05 L462.50,618.05 L459.50,622.40 L462.50,626.75 L463.30,626.75Z" fill="#cccccc"/><path d="M479.40,618.05 L466.30,618.05 L463.30,622.40 L466.30,626.75 L479.40,626.75Z" fill="#cccccc"/><path d="M484.10,618.05 L482.40,618.05 L479.40,622.40 L482.40,626.75 L484.10,626.75Z" fill="#cccccc"/><path d="M499.60,618.05 L487.10,618.05 L484.10,622.40 L487.10,626.75 L499.60,626.75Z" fill="#cccccc"/><path d="M510.00,618.05 L502.60,618.05 L499.60,622.40 L502.60,626.75 L510.00,626.75Z" fill="#cccccc"/><path d="M513.80,618.05 L512.80,618.05 L509.80,622.40 L512.80,626.75 L513.80,626.75Z" fill="#cccccc"/><path d="M514.00,618.05 L514.00,618.05 L515.50,622.40 L514.00,626.75 L514.00,626.75Z" fill="#cccccc"/><path d="M515.50,618.05 L516.70,618.05 L519.70,622.40 L516.70,626.75 L515.50,626.75Z" fill="#cccccc"/><path d="M537.40,618.05 L530.70,618.05 L527.70,622.40 L530.70,626.75 L537.40,626.75Z" fill="#1b9e77"/><path d="M545.40,618.05 L540.40,618.05 L537.40,622.40 L540.40,626.75 L545.40,626.75Z" fill="#1b9e77"/><path d="M576.70,618.05 L548.40,618.05 L545.40,622.40 L548.40,626.75 L576.70,626.75Z" fill="#cccccc"/></g>
<g stroke="#333" stroke-width="0.5"><line x1="281.60" y1="608.80" x2="279.50" y2="617.90"/><line x1="393.20" y1="608.50" x2="390.60" y2="617.90"/></g>
<g font-size="6.9" text-anchor="middle" fill="#000" stroke="#000" stroke-width="0.08"><text x="114.50" y="615.70">CusR</text><text x="134.70" y="615.70">CusS</text><text x="209.50" y="615.70">TqsA</text><text x="268.00" y="615.70">BrxA</text><text x="283.20" y="607.70">BrxB</text><text x="300.90" y="615.70">BrxC</text><text x="327.50" y="615.70">PglX</text><text x="356.20" y="615.70">PtuA1</text><text x="380.90" y="615.70">PtuB1</text><text x="393.00" y="607.20">PglZ</text><text x="405.00" y="615.70">BrxL</text><text x="527.90" y="615.20">AbiEii</text><text x="548.60" y="615.20">AbiEi</text></g>
<text x="89" y="663.88" text-anchor="end" font-size="7.5">RS_2_sbin_37</text>
<text x="89" y="673.88" text-anchor="end" font-size="8.1" font-style="italic">Pseudomonadota</text>
<line x1="94.2" y1="671.38" x2="585.6" y2="671.38" stroke="#333" stroke-width="0.6"/>
<line x1="103" y1="680.38" x2="576.6" y2="680.38" stroke="#b5b5b5" stroke-width="0.6"/>
<g stroke="#b5b5b5" stroke-width="0.5"><line x1="166.50" y1="680.38" x2="166.50" y2="682.38"/><line x1="235.50" y1="680.38" x2="235.50" y2="682.38"/><line x1="304.80" y1="680.38" x2="304.80" y2="682.38"/><line x1="373.40" y1="680.38" x2="373.40" y2="682.38"/><line x1="442.50" y1="680.38" x2="442.50" y2="682.38"/><line x1="510.70" y1="680.38" x2="510.70" y2="682.38"/></g>
<g font-size="5.2" fill="#7d7d7d" text-anchor="middle"><text x="166.50" y="687.78">5,000</text><text x="235.50" y="687.78">10,000</text><text x="304.80" y="687.78">15,000</text><text x="373.40" y="687.78">20,000</text><text x="442.50" y="687.78">25,000</text><text x="510.70" y="687.78">30,000</text></g>
<g stroke="#2e2e2e" stroke-width="0.55" stroke-linejoin="round"><path d="M103.00,667.03 L113.30,667.03 L116.30,671.38 L113.30,675.73 L103.00,675.73Z" fill="#cccccc"/><path d="M123.10,667.03 L136.00,667.03 L139.00,671.38 L136.00,675.73 L123.10,675.73Z" fill="#cccccc"/><path d="M139.60,667.03 L140.40,667.03 L143.40,671.38 L140.40,675.73 L139.60,675.73Z" fill="#cccccc"/><path d="M143.40,667.03 L148.00,667.03 L151.00,671.38 L148.00,675.73 L143.40,675.73Z" fill="#cccccc"/><path d="M157.30,667.03 L160.00,667.03 L163.00,671.38 L160.00,675.73 L157.30,675.73Z" fill="#d95f02"/><path d="M163.00,667.03 L189.20,667.03 L192.20,671.38 L189.20,675.73 L163.00,675.73Z" fill="#d95f02"/><path d="M194.60,667.03 L199.20,667.03 L202.20,671.38 L199.20,675.73 L194.60,675.73Z" fill="#d95f02"/><path d="M202.20,667.03 L237.20,667.03 L240.20,671.38 L237.20,675.73 L202.20,675.73Z" fill="#7570b3"/><path d="M244.60,667.03 L271.00,667.03 L274.00,671.38 L271.00,675.73 L244.60,675.73Z" fill="#7570b3"/><path d="M275.30,667.03 L293.80,667.03 L296.80,671.38 L293.80,675.73 L275.30,675.73Z" fill="#cccccc"/><path d="M299.00,667.03 L301.00,667.03 L304.00,671.38 L301.00,675.73 L299.00,675.73Z" fill="#cccccc"/><path d="M308.00,667.03 L333.40,667.03 L336.40,671.38 L333.40,675.73 L308.00,675.73Z" fill="#cccccc"/><path d="M336.40,667.03 L339.10,667.03 L342.10,671.38 L339.10,675.73 L336.40,675.73Z" fill="#cccccc"/><path d="M342.10,667.03 L345.40,667.03 L348.40,671.38 L345.40,675.73 L342.10,675.73Z" fill="#1b9e77"/><path d="M355.40,667.03 L364.40,667.03 L367.40,671.38 L364.40,675.73 L355.40,675.73Z" fill="#1b9e77"/><path d="M371.20,667.03 L383.40,667.03 L386.40,671.38 L383.40,675.73 L371.20,675.73Z" fill="#1b9e77"/><path d="M387.30,667.03 L397.60,667.03 L400.60,671.38 L397.60,675.73 L387.30,675.73Z" fill="#1b9e77"/><path d="M401.20,667.03 L407.00,667.03 L410.00,671.38 L407.00,675.73 L401.20,675.73Z" fill="#1b9e77"/><path d="M410.50,667.03 L411.80,667.03 L414.80,671.38 L411.80,675.73 L410.50,675.73Z" fill="#cccccc"/><path d="M414.80,667.03 L418.50,667.03 L421.50,671.38 L418.50,675.73 L414.80,675.73Z" fill="#cccccc"/><path d="M421.70,667.03 L437.50,667.03 L440.50,671.38 L437.50,675.73 L421.70,675.73Z" fill="#1b9e77"/><path d="M443.30,667.03 L461.00,667.03 L464.00,671.38 L461.00,675.73 L443.30,675.73Z" fill="#cccccc"/><path d="M465.00,667.03 L467.50,667.03 L470.50,671.38 L467.50,675.73 L465.00,675.73Z" fill="#cccccc"/><path d="M476.60,667.03 L481.30,667.03 L484.30,671.38 L481.30,675.73 L476.60,675.73Z" fill="#cccccc"/><path d="M484.30,667.03 L526.30,667.03 L529.30,671.38 L526.30,675.73 L484.30,675.73Z" fill="#cccccc"/><path d="M537.00,667.03 L552.60,667.03 L555.60,671.38 L552.60,675.73 L537.00,675.73Z" fill="#cccccc"/><path d="M556.50,667.03 L564.30,667.03 L567.30,671.38 L564.30,675.73 L556.50,675.73Z" fill="#cccccc"/><path d="M574.00,667.03 L574.00,667.03 L571.70,671.38 L574.00,675.73 L574.00,675.73Z" fill="#cccccc"/><path d="M576.40,667.03 L576.40,667.03 L574.00,671.38 L576.40,675.73 L576.40,675.73Z" fill="#cccccc"/></g>
<g stroke="#333" stroke-width="0.5"><line x1="358.20" y1="659.00" x2="359.20" y2="667.00"/><line x1="382.60" y1="651.80" x2="378.00" y2="667.00"/><line x1="410.40" y1="660.30" x2="407.80" y2="667.00"/></g>
<g font-size="6.9" text-anchor="middle" fill="#000" stroke="#000" stroke-width="0.08"><text x="156.30" y="664.80">CheY</text><text x="177.30" y="664.80">CheY</text><text x="200.50" y="664.80">CheW</text><text x="340.70" y="665.60">PtuB</text><text x="357.00" y="657.00">II_MTases</text><text x="383.70" y="648.80">II_REases</text><text x="394.20" y="665.60">NsnB</text><text x="412.00" y="657.70">NsnC</text><text x="433.60" y="665.20">NsnB</text></g>
<text x="89" y="712.86" text-anchor="end" font-size="7.5">P_10_sbin.55</text>
<text x="89" y="722.86" text-anchor="end" font-size="8.1" font-style="italic">Pseudomonadota</text>
<line x1="94.2" y1="720.36" x2="585.6" y2="720.36" stroke="#333" stroke-width="0.6"/>
<line x1="103" y1="729.36" x2="576.6" y2="729.36" stroke="#b5b5b5" stroke-width="0.6"/>
<g stroke="#b5b5b5" stroke-width="0.5"><line x1="176.60" y1="729.36" x2="176.60" y2="731.36"/><line x1="249.50" y1="729.36" x2="249.50" y2="731.36"/><line x1="322.80" y1="729.36" x2="322.80" y2="731.36"/><line x1="396.70" y1="729.36" x2="396.70" y2="731.36"/><line x1="468.80" y1="729.36" x2="468.80" y2="731.36"/><line x1="542.40" y1="729.36" x2="542.40" y2="731.36"/></g>
<g font-size="5.2" fill="#7d7d7d" text-anchor="middle"><text x="176.60" y="736.76">5,000</text><text x="249.50" y="736.76">10,000</text><text x="322.80" y="736.76">15,000</text><text x="396.70" y="736.76">20,000</text><text x="468.80" y="736.76">25,000</text><text x="542.40" y="736.76">30,000</text></g>
<g stroke="#2e2e2e" stroke-width="0.55" stroke-linejoin="round"><path d="M103.00,716.01 L119.50,716.01 L122.50,720.36 L119.50,724.71 L103.00,724.71Z" fill="#cccccc"/><path d="M122.50,716.01 L134.10,716.01 L137.10,720.36 L134.10,724.71 L122.50,724.71Z" fill="#e7298a"/><path d="M138.30,716.01 L153.10,716.01 L156.10,720.36 L153.10,724.71 L138.30,724.71Z" fill="#7570b3"/><path d="M156.10,716.01 L156.10,716.01 L158.60,720.36 L156.10,724.71 L156.10,724.71Z" fill="#cccccc"/><path d="M158.60,716.01 L158.60,716.01 L161.20,720.36 L158.60,724.71 L158.60,724.71Z" fill="#cccccc"/><path d="M161.40,716.01 L228.70,716.01 L231.70,720.36 L228.70,724.71 L161.40,724.71Z" fill="#1b9e77"/><path d="M232.20,716.01 L244.70,716.01 L247.70,720.36 L244.70,724.71 L232.20,724.71Z" fill="#7570b3"/><path d="M248.30,716.01 L260.80,716.01 L263.80,720.36 L260.80,724.71 L248.30,724.71Z" fill="#7570b3"/><path d="M264.40,716.01 L287.70,716.01 L290.70,720.36 L287.70,724.71 L264.40,724.71Z" fill="#7570b3"/><path d="M290.70,716.01 L311.30,716.01 L314.30,720.36 L311.30,724.71 L290.70,724.71Z" fill="#1b9e77"/><path d="M314.30,716.01 L321.90,716.01 L324.90,720.36 L321.90,724.71 L314.30,724.71Z" fill="#1b9e77"/><path d="M325.40,716.01 L339.60,716.01 L342.60,720.36 L339.60,724.71 L325.40,724.71Z" fill="#7570b3"/><path d="M344.00,716.01 L346.80,716.01 L349.80,720.36 L346.80,724.71 L344.00,724.71Z" fill="#cccccc"/><path d="M351.20,716.01 L354.90,716.01 L357.90,720.36 L354.90,724.71 L351.20,724.71Z" fill="#7570b3"/><path d="M357.90,716.01 L360.70,716.01 L363.70,720.36 L360.70,724.71 L357.90,724.71Z" fill="#7570b3"/><path d="M363.70,716.01 L363.70,716.01 L366.50,720.36 L363.70,724.71 L363.70,724.71Z" fill="#7570b3"/><path d="M366.50,716.01 L377.90,716.01 L380.90,720.36 L377.90,724.71 L366.50,724.71Z" fill="#d95f02"/><path d="M382.30,716.01 L394.00,716.01 L397.00,720.36 L394.00,724.71 L382.30,724.71Z" fill="#7570b3"/><path d="M397.00,716.01 L400.80,716.01 L403.80,720.36 L400.80,724.71 L397.00,724.71Z" fill="#1b9e77"/><path d="M403.80,716.01 L417.70,716.01 L420.70,720.36 L417.70,724.71 L403.80,724.71Z" fill="#1b9e77"/><path d="M420.70,716.01 L431.50,716.01 L434.50,720.36 L431.50,724.71 L420.70,724.71Z" fill="#1b9e77"/><path d="M434.50,716.01 L443.70,716.01 L446.70,720.36 L443.70,724.71 L434.50,724.71Z" fill="#7570b3"/><path d="M449.80,716.01 L449.70,716.01 L446.70,720.36 L449.70,724.71 L449.80,724.71Z" fill="#7570b3"/><path d="M461.00,716.01 L453.50,716.01 L450.50,720.36 L453.50,724.71 L461.00,724.71Z" fill="#cccccc"/><path d="M480.90,716.01 L464.00,716.01 L461.00,720.36 L464.00,724.71 L480.90,724.71Z" fill="#cccccc"/><path d="M486.10,716.01 L483.90,716.01 L480.90,720.36 L483.90,724.71 L486.10,724.71Z" fill="#cccccc"/><path d="M490.20,716.01 L489.10,716.01 L486.10,720.36 L489.10,724.71 L490.20,724.71Z" fill="#cccccc"/><path d="M492.00,716.01 L498.30,716.01 L501.30,720.36 L498.30,724.71 L492.00,724.71Z" fill="#7570b3"/><path d="M501.90,716.01 L501.90,716.01 L504.30,720.36 L501.90,724.71 L501.90,724.71Z" fill="#cccccc"/><path d="M506.20,716.01 L506.20,716.01 L504.30,720.36 L506.20,724.71 L506.20,724.71Z" fill="#cccccc"/><path d="M506.20,716.01 L519.50,716.01 L522.50,720.36 L519.50,724.71 L506.20,724.71Z" fill="#cccccc"/><path d="M522.50,716.01 L547.00,716.01 L550.00,720.36 L547.00,724.71 L522.50,724.71Z" fill="#cccccc"/><path d="M552.90,716.01 L552.90,716.01 L550.00,720.36 L552.90,724.71 L552.90,724.71Z" fill="#cccccc"/><path d="M556.40,716.01 L559.20,716.01 L562.20,720.36 L559.20,724.71 L556.40,724.71Z" fill="#7570b3"/><path d="M562.20,716.01 L569.80,716.01 L572.80,720.36 L569.80,724.71 L562.20,724.71Z" fill="#cccccc"/><path d="M576.30,716.01 L576.30,716.01 L574.50,720.36 L576.30,724.71 L576.30,724.71Z" fill="#cccccc"/></g>
<g stroke="#333" stroke-width="0.5"><line x1="413.70" y1="709.30" x2="413.70" y2="716.00"/></g>
<g font-size="6.9" text-anchor="middle" fill="#000" stroke="#000" stroke-width="0.08"><text x="130.00" y="713.20">PF12784.10</text><text x="196.90" y="713.20">TmtA</text><text x="298.70" y="713.50">PtuA1</text><text x="320.90" y="713.50">PtuB1</text><text x="400.60" y="713.70">NsnA</text><text x="413.40" y="705.70">NsnB</text><text x="427.30" y="713.70">NsnC</text></g>
<text x="89" y="761.84" text-anchor="end" font-size="7.5">X_9_12_sbin.1</text>
<text x="89" y="771.84" text-anchor="end" font-size="8.1" font-style="italic">Pseudomonadota</text>
<line x1="94.2" y1="769.34" x2="585.6" y2="769.34" stroke="#333" stroke-width="0.6"/>
<line x1="103" y1="778.34" x2="576.6" y2="778.34" stroke="#b5b5b5" stroke-width="0.6"/>
<g stroke="#b5b5b5" stroke-width="0.5"><line x1="109.20" y1="778.34" x2="109.20" y2="780.34"/><line x1="145.90" y1="778.34" x2="145.90" y2="780.34"/><line x1="182.60" y1="778.34" x2="182.60" y2="780.34"/><line x1="219.40" y1="778.34" x2="219.40" y2="780.34"/><line x1="256.30" y1="778.34" x2="256.30" y2="780.34"/><line x1="293.10" y1="778.34" x2="293.10" y2="780.34"/><line x1="329.80" y1="778.34" x2="329.80" y2="780.34"/><line x1="366.60" y1="778.34" x2="366.60" y2="780.34"/><line x1="403.60" y1="778.34" x2="403.60" y2="780.34"/><line x1="440.30" y1="778.34" x2="440.30" y2="780.34"/><line x1="476.80" y1="778.34" x2="476.80" y2="780.34"/><line x1="513.30" y1="778.34" x2="513.30" y2="780.34"/><line x1="549.90" y1="778.34" x2="549.90" y2="780.34"/></g>
<g font-size="5.2" fill="#7d7d7d" text-anchor="middle"><text x="109.20" y="785.74">75,000</text><text x="145.90" y="785.74">80,000</text><text x="182.60" y="785.74">85,000</text><text x="219.40" y="785.74">90,000</text><text x="256.30" y="785.74">95,000</text><text x="293.10" y="785.74">100,000</text><text x="329.80" y="785.74">105,000</text><text x="366.60" y="785.74">110,000</text><text x="403.60" y="785.74">115,000</text><text x="440.30" y="785.74">120,000</text><text x="476.80" y="785.74">125,000</text><text x="513.30" y="785.74">130,000</text><text x="549.90" y="785.74">135,000</text></g>
<g stroke="#2e2e2e" stroke-width="0.55" stroke-linejoin="round"><path d="M103.30,764.99 L110.60,764.99 L113.60,769.34 L110.60,773.69 L103.30,773.69Z" fill="#cccccc"/><path d="M113.60,764.99 L116.10,764.99 L119.10,769.34 L116.10,773.69 L113.60,773.69Z" fill="#7570b3"/><path d="M119.10,764.99 L121.60,764.99 L124.60,769.34 L121.60,773.69 L119.10,773.69Z" fill="#7570b3"/><path d="M124.60,764.99 L134.70,764.99 L137.70,769.34 L134.70,773.69 L124.60,773.69Z" fill="#7570b3"/><path d="M142.10,764.99 L140.70,764.99 L137.70,769.34 L140.70,773.69 L142.10,773.69Z" fill="#cccccc"/><path d="M153.70,764.99 L145.10,764.99 L142.10,769.34 L145.10,773.69 L153.70,773.69Z" fill="#7570b3"/><path d="M167.30,764.99 L158.20,764.99 L155.20,769.34 L158.20,773.69 L167.30,773.69Z" fill="#7570b3"/><path d="M167.30,764.99 L169.10,764.99 L172.10,769.34 L169.10,773.69 L167.30,773.69Z" fill="#cccccc"/><path d="M173.80,764.99 L175.20,764.99 L178.20,769.34 L175.20,773.69 L173.80,773.69Z" fill="#cccccc"/><path d="M181.60,764.99 L185.60,764.99 L188.60,769.34 L185.60,773.69 L181.60,773.69Z" fill="#cccccc"/><path d="M189.60,764.99 L196.70,764.99 L199.70,769.34 L196.70,773.69 L189.60,773.69Z" fill="#7570b3"/><path d="M199.70,764.99 L204.90,764.99 L207.90,769.34 L204.90,773.69 L199.70,773.69Z" fill="#cccccc"/><path d="M212.40,764.99 L212.40,764.99 L209.40,769.34 L212.40,773.69 L212.40,773.69Z" fill="#cccccc"/><path d="M235.80,764.99 L215.60,764.99 L212.60,769.34 L215.60,773.69 L235.80,773.69Z" fill="#1b9e77"/><path d="M249.70,764.99 L238.80,764.99 L235.80,769.34 L238.80,773.69 L249.70,773.69Z" fill="#1b9e77"/><path d="M258.40,764.99 L252.70,764.99 L249.70,769.34 L252.70,773.69 L258.40,773.69Z" fill="#1b9e77"/><path d="M281.20,764.99 L261.40,764.99 L258.40,769.34 L261.40,773.69 L281.20,773.69Z" fill="#cccccc"/><path d="M300.90,764.99 L284.20,764.99 L281.20,769.34 L284.20,773.69 L300.90,773.69Z" fill="#cccccc"/><path d="M316.70,764.99 L303.90,764.99 L300.90,769.34 L303.90,773.69 L316.70,773.69Z" fill="#1b9e77"/><path d="M335.10,764.99 L319.70,764.99 L316.70,769.34 L319.70,773.69 L335.10,773.69Z" fill="#cccccc"/><path d="M361.40,764.99 L338.10,764.99 L335.10,769.34 L338.10,773.69 L361.40,773.69Z" fill="#1b9e77"/><path d="M387.10,764.99 L364.40,764.99 L361.40,769.34 L364.40,773.69 L387.10,773.69Z" fill="#1b9e77"/><path d="M391.60,764.99 L390.10,764.99 L387.10,769.34 L390.10,773.69 L391.60,773.69Z" fill="#1b9e77"/><path d="M396.00,764.99 L394.60,764.99 L391.60,769.34 L394.60,773.69 L396.00,773.69Z" fill="#1b9e77"/><path d="M401.50,764.99 L399.00,764.99 L396.00,769.34 L399.00,773.69 L401.50,773.69Z" fill="#1b9e77"/><path d="M406.20,764.99 L409.60,764.99 L412.60,769.34 L409.60,773.69 L406.20,773.69Z" fill="#cccccc"/><path d="M413.20,764.99 L413.20,764.99 L415.50,769.34 L413.20,773.69 L413.20,773.69Z" fill="#cccccc"/><path d="M415.50,764.99 L415.50,764.99 L417.90,769.34 L415.50,773.69 L415.50,773.69Z" fill="#cccccc"/><path d="M417.90,764.99 L417.90,764.99 L420.20,769.34 L417.90,773.69 L417.90,773.69Z" fill="#cccccc"/><path d="M420.20,764.99 L421.30,764.99 L424.30,769.34 L421.30,773.69 L420.20,773.69Z" fill="#cccccc"/><path d="M424.30,764.99 L434.10,764.99 L437.10,769.34 L434.10,773.69 L424.30,773.69Z" fill="#7570b3"/><path d="M437.70,764.99 L448.20,764.99 L451.20,769.34 L448.20,773.69 L437.70,773.69Z" fill="#7570b3"/><path d="M453.50,764.99 L453.50,764.99 L451.20,769.34 L453.50,773.69 L453.50,773.69Z" fill="#cccccc"/><path d="M453.50,764.99 L456.90,764.99 L459.90,769.34 L456.90,773.69 L453.50,773.69Z" fill="#cccccc"/><path d="M468.50,764.99 L464.10,764.99 L461.10,769.34 L464.10,773.69 L468.50,773.69Z" fill="#1b9e77"/><path d="M471.00,764.99 L471.00,764.99 L468.50,769.34 L471.00,773.69 L471.00,773.69Z" fill="#1b9e77"/><path d="M471.00,764.99 L476.90,764.99 L479.90,769.34 L476.90,773.69 L471.00,773.69Z" fill="#1b9e77"/><path d="M479.90,764.99 L480.40,764.99 L483.40,769.34 L480.40,773.69 L479.90,773.69Z" fill="#1b9e77"/><path d="M483.40,764.99 L488.00,764.99 L491.00,769.34 L488.00,773.69 L483.40,773.69Z" fill="#1b9e77"/><path d="M503.30,764.99 L495.80,764.99 L492.80,769.34 L495.80,773.69 L503.30,773.69Z" fill="#cccccc"/><path d="M513.20,764.99 L506.60,764.99 L503.60,769.34 L506.60,773.69 L513.20,773.69Z" fill="#7570b3"/><path d="M522.00,764.99 L516.20,764.99 L513.20,769.34 L516.20,773.69 L522.00,773.69Z" fill="#7570b3"/><path d="M529.90,764.99 L525.00,764.99 L522.00,769.34 L525.00,773.69 L529.90,773.69Z" fill="#7570b3"/><path d="M535.10,764.99 L532.90,764.99 L529.90,769.34 L532.90,773.69 L535.10,773.69Z" fill="#7570b3"/><path d="M540.40,764.99 L538.10,764.99 L535.10,769.34 L538.10,773.69 L540.40,773.69Z" fill="#7570b3"/><path d="M546.20,764.99 L543.40,764.99 L540.40,769.34 L543.40,773.69 L546.20,773.69Z" fill="#7570b3"/><path d="M555.00,764.99 L549.20,764.99 L546.20,769.34 L549.20,773.69 L555.00,773.69Z" fill="#cccccc"/><path d="M572.50,764.99 L558.00,764.99 L555.00,769.34 L558.00,773.69 L572.50,773.69Z" fill="#7570b3"/><path d="M576.60,764.99 L575.50,764.99 L572.50,769.34 L575.50,773.69 L576.60,773.69Z" fill="#7570b3"/></g>
<g stroke="#333" stroke-width="0.5"><line x1="446.00" y1="757.30" x2="446.00" y2="765.00"/><polyline fill="none" points="534.0,760.34 503.60,760.34 503.60,764.74"/><polyline fill="none" points="547.4,760.34 576.60,760.34 576.60,764.74"/></g>
<g font-size="6.9" text-anchor="middle" fill="#000" stroke="#000" stroke-width="0.08"><text x="148.40" y="762.50">RhlE</text><text x="186.30" y="760.90">HipB</text><text x="201.50" y="755.10">HipA</text><text x="241.60" y="762.50">Azaca</text><text x="308.50" y="762.60">BREX</text><text x="347.50" y="762.60">BREX</text><text x="385.50" y="762.60">BREX</text><text x="431.40" y="762.40">VirD2</text><text x="445.30" y="755.90">VirD4</text><text x="476.90" y="762.40">CBASS</text><text x="540.70" y="761.10">VirB</text></g>
<text x="89" y="810.82" text-anchor="end" font-size="7.5">RS_11_sbin_106</text>
<text x="89" y="820.82" text-anchor="end" font-size="8.1" font-style="italic">Patescibacteria</text>
<line x1="94.2" y1="818.32" x2="585.6" y2="818.32" stroke="#333" stroke-width="0.6"/>
<line x1="103" y1="827.32" x2="576.6" y2="827.32" stroke="#b5b5b5" stroke-width="0.6"/>
<g stroke="#b5b5b5" stroke-width="0.5"><line x1="136.50" y1="827.32" x2="136.50" y2="829.32"/><line x1="170.90" y1="827.32" x2="170.90" y2="829.32"/><line x1="204.70" y1="827.32" x2="204.70" y2="829.32"/><line x1="237.80" y1="827.32" x2="237.80" y2="829.32"/><line x1="271.00" y1="827.32" x2="271.00" y2="829.32"/><line x1="304.30" y1="827.32" x2="304.30" y2="829.32"/><line x1="337.60" y1="827.32" x2="337.60" y2="829.32"/><line x1="370.90" y1="827.32" x2="370.90" y2="829.32"/><line x1="404.20" y1="827.32" x2="404.20" y2="829.32"/><line x1="437.50" y1="827.32" x2="437.50" y2="829.32"/><line x1="470.80" y1="827.32" x2="470.80" y2="829.32"/><line x1="504.10" y1="827.32" x2="504.10" y2="829.32"/><line x1="537.40" y1="827.32" x2="537.40" y2="829.32"/><line x1="570.70" y1="827.32" x2="570.70" y2="829.32"/></g>
<g font-size="5.2" fill="#7d7d7d" text-anchor="middle"><text x="136.50" y="834.72">2,000</text><text x="170.90" y="834.72">4,000</text><text x="204.70" y="834.72">6,000</text><text x="237.80" y="834.72">8,000</text><text x="271.00" y="834.72">10,000</text><text x="304.30" y="834.72">12,000</text><text x="337.60" y="834.72">14,000</text><text x="370.90" y="834.72">16,000</text><text x="404.20" y="834.72">18,000</text><text x="437.50" y="834.72">20,000</text><text x="470.80" y="834.72">22,000</text><text x="504.10" y="834.72">24,000</text><text x="537.40" y="834.72">26,000</text><text x="570.70" y="834.72">28,000</text></g>
<g stroke="#2e2e2e" stroke-width="0.55" stroke-linejoin="round"><path d="M102.90,813.97 L139.30,813.97 L142.30,818.32 L139.30,822.67 L102.90,822.67Z" fill="#7570b3"/><path d="M142.30,813.97 L199.70,813.97 L202.70,818.32 L199.70,822.67 L142.30,822.67Z" fill="#1b9e77"/><path d="M202.70,813.97 L216.80,813.97 L219.80,818.32 L216.80,822.67 L202.70,822.67Z" fill="#e6ab02"/><path d="M222.40,813.97 L231.30,813.97 L234.30,818.32 L231.30,822.67 L222.40,822.67Z" fill="#e6ab02"/><path d="M237.00,813.97 L256.80,813.97 L259.80,818.32 L256.80,822.67 L237.00,822.67Z" fill="#1b9e77"/><path d="M259.80,813.97 L271.40,813.97 L274.40,818.32 L271.40,822.67 L259.80,822.67Z" fill="#1b9e77"/><path d="M297.80,813.97 L277.40,813.97 L274.40,818.32 L277.40,822.67 L297.80,822.67Z" fill="#7570b3"/><path d="M303.10,813.97 L309.50,813.97 L312.50,818.32 L309.50,822.67 L303.10,822.67Z" fill="#cccccc"/><path d="M335.90,813.97 L315.50,813.97 L312.50,818.32 L315.50,822.67 L335.90,822.67Z" fill="#cccccc"/><path d="M345.60,813.97 L341.60,813.97 L338.60,818.32 L341.60,822.67 L345.60,822.67Z" fill="#7570b3"/><path d="M358.80,813.97 L348.60,813.97 L345.60,818.32 L348.60,822.67 L358.80,822.67Z" fill="#7570b3"/><path d="M381.10,813.97 L361.80,813.97 L358.80,818.32 L361.80,822.67 L381.10,822.67Z" fill="#7570b3"/><path d="M389.80,813.97 L383.40,813.97 L380.40,818.32 L383.40,822.67 L389.80,822.67Z" fill="#cccccc"/><path d="M398.00,813.97 L396.90,813.97 L393.90,818.32 L396.90,822.67 L398.00,822.67Z" fill="#cccccc"/><path d="M398.00,813.97 L398.00,813.97 L399.70,818.32 L398.00,822.67 L398.00,822.67Z" fill="#cccccc"/><path d="M400.00,813.97 L408.70,813.97 L411.70,818.32 L408.70,822.67 L400.00,822.67Z" fill="#7570b3"/><path d="M411.70,813.97 L425.30,813.97 L428.30,818.32 L425.30,822.67 L411.70,822.67Z" fill="#1b9e77"/><path d="M428.30,813.97 L433.60,813.97 L436.60,818.32 L433.60,822.67 L428.30,822.67Z" fill="#1b9e77"/><path d="M436.60,813.97 L449.20,813.97 L452.20,818.32 L449.20,822.67 L436.60,822.67Z" fill="#1b9e77"/><path d="M452.20,813.97 L473.30,813.97 L476.30,818.32 L473.30,822.67 L452.20,822.67Z" fill="#1b9e77"/><path d="M477.10,813.97 L489.90,813.97 L492.90,818.32 L489.90,822.67 L477.10,822.67Z" fill="#cccccc"/><path d="M492.90,813.97 L492.90,813.97 L495.70,818.32 L492.90,822.67 L492.90,822.67Z" fill="#cccccc"/><path d="M495.70,813.97 L499.10,813.97 L502.10,818.32 L499.10,822.67 L495.70,822.67Z" fill="#cccccc"/><path d="M507.60,813.97 L524.00,813.97 L527.00,818.32 L524.00,822.67 L507.60,822.67Z" fill="#cccccc"/><path d="M527.00,813.97 L567.60,813.97 L570.60,818.32 L567.60,822.67 L527.00,822.67Z" fill="#e6ab02"/><path d="M576.10,813.97 L576.10,813.97 L573.40,818.32 L576.10,822.67 L576.10,822.67Z" fill="#cccccc"/></g>
<g stroke="#333" stroke-width="0.5"><line x1="243.90" y1="803.40" x2="246.10" y2="813.80"/><line x1="430.80" y1="806.60" x2="430.80" y2="813.80"/></g>
<g font-size="6.9" text-anchor="middle" fill="#000" stroke="#000" stroke-width="0.08"><text x="173.00" y="811.60">MTase_II</text><text x="211.80" y="811.60">S19</text><text x="228.60" y="811.60">S31</text><text x="244.70" y="801.70">PD-Lambda-5_A</text><text x="277.30" y="810.90">PD-Lambda-5_B</text><text x="411.50" y="811.40">Cyclase</text><text x="428.80" y="803.40">HORMA</text><text x="445.60" y="811.40">TRIP13</text><text x="474.80" y="811.40">Effector</text><text x="548.40" y="811.60">S28</text></g>
<text x="89" y="859.80" text-anchor="end" font-size="7.5">RS_12_sbin_32</text>
<text x="89" y="869.80" text-anchor="end" font-size="8.1" font-style="italic">Bacteroidota</text>
<line x1="94.2" y1="867.30" x2="585.6" y2="867.30" stroke="#333" stroke-width="0.6"/>
<line x1="103" y1="876.30" x2="576.6" y2="876.30" stroke="#b5b5b5" stroke-width="0.6"/>
<g stroke="#b5b5b5" stroke-width="0.5"><line x1="146.90" y1="876.30" x2="146.90" y2="878.30"/><line x1="190.80" y1="876.30" x2="190.80" y2="878.30"/><line x1="234.50" y1="876.30" x2="234.50" y2="878.30"/><line x1="278.60" y1="876.30" x2="278.60" y2="878.30"/><line x1="322.60" y1="876.30" x2="322.60" y2="878.30"/><line x1="366.40" y1="876.30" x2="366.40" y2="878.30"/><line x1="410.60" y1="876.30" x2="410.60" y2="878.30"/><line x1="454.50" y1="876.30" x2="454.50" y2="878.30"/><line x1="498.60" y1="876.30" x2="498.60" y2="878.30"/><line x1="542.50" y1="876.30" x2="542.50" y2="878.30"/></g>
<g font-size="5.2" fill="#7d7d7d" text-anchor="middle"><text x="146.90" y="883.70">10,000</text><text x="190.80" y="883.70">20,000</text><text x="234.50" y="883.70">30,000</text><text x="278.60" y="883.70">40,000</text><text x="322.60" y="883.70">50,000</text><text x="366.40" y="883.70">60,000</text><text x="410.60" y="883.70">70,000</text><text x="454.50" y="883.70">80,000</text><text x="498.60" y="883.70">90,000</text><text x="542.50" y="883.70">100,000</text></g>
<g stroke="#2e2e2e" stroke-width="0.55" stroke-linejoin="round"><path d="M108.50,862.95 L106.90,862.95 L103.90,867.30 L106.90,871.65 L108.50,871.65Z" fill="#7570b3"/><path d="M114.20,862.95 L111.50,862.95 L108.50,867.30 L111.50,871.65 L114.20,871.65Z" fill="#cccccc"/><path d="M115.80,862.95 L115.80,862.95 L114.20,867.30 L115.80,871.65 L115.80,871.65Z" fill="#cccccc"/><path d="M117.40,862.95 L117.40,862.95 L115.60,867.30 L117.40,871.65 L117.40,871.65Z" fill="#e6ab02"/><path d="M121.90,862.95 L120.40,862.95 L117.40,867.30 L120.40,871.65 L121.90,871.65Z" fill="#7570b3"/><path d="M127.20,862.95 L124.90,862.95 L121.90,867.30 L124.90,871.65 L127.20,871.65Z" fill="#7570b3"/><path d="M131.20,862.95 L131.20,862.95 L128.20,867.30 L131.20,871.65 L131.20,871.65Z" fill="#cccccc"/><path d="M137.00,862.95 L134.20,862.95 L131.20,867.30 L134.20,871.65 L137.00,871.65Z" fill="#7570b3"/><path d="M137.00,862.95 L139.60,862.95 L142.60,867.30 L139.60,871.65 L137.00,871.65Z" fill="#cccccc"/><path d="M142.60,862.95 L144.90,862.95 L147.90,867.30 L144.90,871.65 L142.60,871.65Z" fill="#cccccc"/><path d="M168.90,862.95 L150.90,862.95 L147.90,867.30 L150.90,871.65 L168.90,871.65Z" fill="#cccccc"/><path d="M172.10,862.95 L174.20,862.95 L177.20,867.30 L174.20,871.65 L172.10,871.65Z" fill="#cccccc"/><path d="M180.90,862.95 L216.00,862.95 L219.00,867.30 L216.00,871.65 L180.90,871.65Z" fill="#7570b3"/><path d="M231.50,862.95 L222.00,862.95 L219.00,867.30 L222.00,871.65 L231.50,871.65Z" fill="#7570b3"/><path d="M231.50,862.95 L233.10,862.95 L236.10,867.30 L233.10,871.65 L231.50,871.65Z" fill="#7570b3"/><path d="M236.10,862.95 L238.40,862.95 L241.40,867.30 L238.40,871.65 L236.10,871.65Z" fill="#7570b3"/><path d="M241.80,862.95 L241.80,862.95 L243.40,867.30 L241.80,871.65 L241.80,871.65Z" fill="#cccccc"/><path d="M243.40,862.95 L243.40,862.95 L245.00,867.30 L243.40,871.65 L243.40,871.65Z" fill="#cccccc"/><path d="M245.00,862.95 L245.00,862.95 L246.60,867.30 L245.00,871.65 L245.00,871.65Z" fill="#cccccc"/><path d="M248.20,862.95 L248.20,862.95 L246.60,867.30 L248.20,871.65 L248.20,871.65Z" fill="#cccccc"/><path d="M251.60,862.95 L251.60,862.95 L248.80,867.30 L251.60,871.65 L251.60,871.65Z" fill="#cccccc"/><path d="M253.20,862.95 L253.20,862.95 L251.60,867.30 L253.20,871.65 L253.20,871.65Z" fill="#cccccc"/><path d="M253.80,862.95 L253.80,862.95 L255.40,867.30 L253.80,871.65 L253.80,871.65Z" fill="#cccccc"/><path d="M255.40,862.95 L255.40,862.95 L257.00,867.30 L255.40,871.65 L255.40,871.65Z" fill="#cccccc"/><path d="M257.00,862.95 L257.00,862.95 L258.60,867.30 L257.00,871.65 L257.00,871.65Z" fill="#cccccc"/><path d="M258.60,862.95 L258.60,862.95 L260.20,867.30 L258.60,871.65 L258.60,871.65Z" fill="#cccccc"/><path d="M260.20,862.95 L260.20,862.95 L262.20,867.30 L260.20,871.65 L260.20,871.65Z" fill="#cccccc"/><path d="M266.60,862.95 L278.00,862.95 L281.00,867.30 L278.00,871.65 L266.60,871.65Z" fill="#cccccc"/><path d="M292.20,862.95 L284.00,862.95 L281.00,867.30 L284.00,871.65 L292.20,871.65Z" fill="#cccccc"/><path d="M295.20,862.95 L300.40,862.95 L303.40,867.30 L300.40,871.65 L295.20,871.65Z" fill="#7570b3"/><path d="M303.40,862.95 L303.40,862.95 L305.30,867.30 L303.40,871.65 L303.40,871.65Z" fill="#7570b3"/><path d="M305.30,862.95 L307.60,862.95 L310.60,867.30 L307.60,871.65 L305.30,871.65Z" fill="#7570b3"/><path d="M321.80,862.95 L315.30,862.95 L312.30,867.30 L315.30,871.65 L321.80,871.65Z" fill="#7570b3"/><path d="M321.80,862.95 L324.70,862.95 L327.70,867.30 L324.70,871.65 L321.80,871.65Z" fill="#7570b3"/><path d="M329.00,862.95 L331.90,862.95 L334.90,867.30 L331.90,871.65 L329.00,871.65Z" fill="#7570b3"/><path d="M334.90,862.95 L335.20,862.95 L338.20,867.30 L335.20,871.65 L334.90,871.65Z" fill="#cccccc"/><path d="M338.20,862.95 L341.10,862.95 L344.10,867.30 L341.10,871.65 L338.20,871.65Z" fill="#cccccc"/><path d="M344.10,862.95 L344.10,862.95 L346.70,867.30 L344.10,871.65 L344.10,871.65Z" fill="#cccccc"/><path d="M351.60,862.95 L349.30,862.95 L346.30,867.30 L349.30,871.65 L351.60,871.65Z" fill="#e6ab02"/><path d="M356.80,862.95 L356.80,862.95 L354.20,867.30 L356.80,871.65 L356.80,871.65Z" fill="#cccccc"/><path d="M360.80,862.95 L360.50,862.95 L357.50,867.30 L360.50,871.65 L360.80,871.65Z" fill="#cccccc"/><path d="M372.60,862.95 L363.80,862.95 L360.80,867.30 L363.80,871.65 L372.60,871.65Z" fill="#7570b3"/><path d="M377.20,862.95 L376.90,862.95 L373.90,867.30 L376.90,871.65 L377.20,871.65Z" fill="#cccccc"/><path d="M379.80,862.95 L379.80,862.95 L377.90,867.30 L379.80,871.65 L379.80,871.65Z" fill="#7570b3"/><path d="M383.80,862.95 L382.80,862.95 L379.80,867.30 L382.80,871.65 L383.80,871.65Z" fill="#7570b3"/><path d="M393.60,862.95 L386.80,862.95 L383.80,867.30 L386.80,871.65 L393.60,871.65Z" fill="#7570b3"/><path d="M393.60,862.95 L395.90,862.95 L398.90,867.30 L395.90,871.65 L393.60,871.65Z" fill="#e6ab02"/><path d="M400.20,862.95 L402.40,862.95 L405.40,867.30 L402.40,871.65 L400.20,871.65Z" fill="#e6ab02"/><path d="M406.10,862.95 L413.00,862.95 L416.00,867.30 L413.00,871.65 L406.10,871.65Z" fill="#7570b3"/><path d="M417.00,862.95 L417.00,862.95 L418.90,867.30 L417.00,871.65 L417.00,871.65Z" fill="#cccccc"/><path d="M420.90,862.95 L420.90,862.95 L418.90,867.30 L420.90,871.65 L420.90,871.65Z" fill="#cccccc"/><path d="M428.80,862.95 L423.90,862.95 L420.90,867.30 L423.90,871.65 L428.80,871.65Z" fill="#1b9e77"/><path d="M431.40,862.95 L431.40,862.95 L428.80,867.30 L431.40,871.65 L431.40,871.65Z" fill="#1b9e77"/><path d="M434.10,862.95 L434.10,862.95 L431.40,867.30 L434.10,871.65 L434.10,871.65Z" fill="#1b9e77"/><path d="M438.70,862.95 L437.10,862.95 L434.10,867.30 L437.10,871.65 L438.70,871.65Z" fill="#1b9e77"/><path d="M447.90,862.95 L441.70,862.95 L438.70,867.30 L441.70,871.65 L447.90,871.65Z" fill="#1b9e77"/><path d="M454.40,862.95 L450.90,862.95 L447.90,867.30 L450.90,871.65 L454.40,871.65Z" fill="#1b9e77"/><path d="M463.60,862.95 L457.40,862.95 L454.40,867.30 L457.40,871.65 L463.60,871.65Z" fill="#1b9e77"/><path d="M474.10,862.95 L466.60,862.95 L463.60,867.30 L466.60,871.65 L474.10,871.65Z" fill="#1b9e77"/><path d="M476.10,862.95 L476.10,862.95 L474.10,867.30 L476.10,871.65 L476.10,871.65Z" fill="#cccccc"/><path d="M478.70,862.95 L484.90,862.95 L487.90,867.30 L484.90,871.65 L478.70,871.65Z" fill="#7570b3"/><path d="M489.20,862.95 L492.20,862.95 L495.20,867.30 L492.20,871.65 L489.20,871.65Z" fill="#7570b3"/><path d="M495.80,862.95 L495.80,862.95 L497.40,867.30 L495.80,871.65 L495.80,871.65Z" fill="#cccccc"/><path d="M499.00,862.95 L499.00,862.95 L497.40,867.30 L499.00,871.65 L499.00,871.65Z" fill="#cccccc"/><path d="M499.00,862.95 L499.00,862.95 L500.60,867.30 L499.00,871.65 L499.00,871.65Z" fill="#cccccc"/><path d="M511.40,862.95 L504.60,862.95 L501.60,867.30 L504.60,871.65 L511.40,871.65Z" fill="#cccccc"/><path d="M516.70,862.95 L514.40,862.95 L511.40,867.30 L514.40,871.65 L516.70,871.65Z" fill="#cccccc"/><path d="M518.40,862.95 L518.40,862.95 L516.70,867.30 L518.40,871.65 L518.40,871.65Z" fill="#cccccc"/><path d="M518.40,862.95 L518.40,862.95 L520.00,867.30 L518.40,871.65 L518.40,871.65Z" fill="#cccccc"/><path d="M521.90,862.95 L521.90,862.95 L520.00,867.30 L521.90,871.65 L521.90,871.65Z" fill="#7570b3"/><path d="M531.80,862.95 L524.90,862.95 L521.90,867.30 L524.90,871.65 L531.80,871.65Z" fill="#cccccc"/><path d="M535.70,862.95 L534.80,862.95 L531.80,867.30 L534.80,871.65 L535.70,871.65Z" fill="#cccccc"/><path d="M539.00,862.95 L538.70,862.95 L535.70,867.30 L538.70,871.65 L539.00,871.65Z" fill="#cccccc"/><path d="M540.60,862.95 L540.60,862.95 L539.00,867.30 L540.60,871.65 L540.60,871.65Z" fill="#cccccc"/><path d="M540.60,862.95 L540.60,862.95 L542.10,867.30 L540.60,871.65 L540.60,871.65Z" fill="#cccccc"/><path d="M543.60,862.95 L543.60,862.95 L542.10,867.30 L543.60,871.65 L543.60,871.65Z" fill="#cccccc"/><path d="M547.60,862.95 L546.60,862.95 L543.60,867.30 L546.60,871.65 L547.60,871.65Z" fill="#cccccc"/><path d="M552.80,862.95 L550.60,862.95 L547.60,867.30 L550.60,871.65 L552.80,871.65Z" fill="#cccccc"/><path d="M558.10,862.95 L557.10,862.95 L554.10,867.30 L557.10,871.65 L558.10,871.65Z" fill="#1b9e77"/><path d="M563.30,862.95 L561.10,862.95 L558.10,867.30 L561.10,871.65 L563.30,871.65Z" fill="#1b9e77"/><path d="M576.50,862.95 L569.00,862.95 L566.00,867.30 L569.00,871.65 L576.50,871.65Z" fill="#d95f02"/></g>
<g stroke="#333" stroke-width="0.5"><line x1="411.20" y1="850.50" x2="419.50" y2="862.80"/><line x1="442.00" y1="850.50" x2="443.40" y2="862.80"/><line x1="472.30" y1="850.50" x2="461.80" y2="862.80"/><line x1="475.80" y1="857.50" x2="474.60" y2="862.80"/><line x1="437.00" y1="873.40" x2="437.70" y2="871.40"/><line x1="428.10" y1="879.40" x2="432.90" y2="871.40"/></g>
<g font-size="6.9" text-anchor="middle" fill="#000" stroke="#000" stroke-width="0.08"><text x="116.50" y="860.20">S09</text><text x="349.60" y="860.20">S01</text><text x="399.00" y="859.80">S01</text><text x="409.40" y="848.90">AbiLii</text><text x="421.90" y="858.90">AbiLi</text><text x="435.10" y="858.90">E2</text><text x="444.70" y="848.90">Specificity_I</text><text x="459.00" y="858.90">MTase_I</text><text x="481.90" y="848.90">HEC-05</text><text x="490.20" y="858.90">REase_I</text><text x="549.20" y="858.80">PtuB1</text><text x="570.50" y="858.80">PtuA1</text><text x="443.30" y="878.10">Cyclase</text><text x="432.60" y="885.40">Effector</text></g>
<text x="89" y="908.78" text-anchor="end" font-size="7.5">SB_S2_sbin_39</text>
<text x="89" y="918.78" text-anchor="end" font-size="8.1" font-style="italic">Desulfobacterota</text>
<line x1="94.2" y1="916.28" x2="585.6" y2="916.28" stroke="#333" stroke-width="0.6"/>
<line x1="103" y1="925.28" x2="576.6" y2="925.28" stroke="#b5b5b5" stroke-width="0.6"/>
<g stroke="#b5b5b5" stroke-width="0.5"><line x1="151.10" y1="925.28" x2="151.10" y2="927.28"/><line x1="208.50" y1="925.28" x2="208.50" y2="927.28"/><line x1="266.30" y1="925.28" x2="266.30" y2="927.28"/><line x1="323.70" y1="925.28" x2="323.70" y2="927.28"/><line x1="381.50" y1="925.28" x2="381.50" y2="927.28"/><line x1="439.70" y1="925.28" x2="439.70" y2="927.28"/><line x1="496.70" y1="925.28" x2="496.70" y2="927.28"/><line x1="554.30" y1="925.28" x2="554.30" y2="927.28"/></g>
<g font-size="5.2" fill="#7d7d7d" text-anchor="middle"><text x="151.10" y="932.68">5,000</text><text x="208.50" y="932.68">10,000</text><text x="266.30" y="932.68">15,000</text><text x="323.70" y="932.68">20,000</text><text x="381.50" y="932.68">25,000</text><text x="439.70" y="932.68">30,000</text><text x="496.70" y="932.68">35,000</text><text x="554.30" y="932.68">40,000</text></g>
<g stroke="#2e2e2e" stroke-width="0.55" stroke-linejoin="round"><path d="M103.30,911.93 L110.40,911.93 L113.40,916.28 L110.40,920.63 L103.30,920.63Z" fill="#7570b3"/><path d="M119.90,911.93 L116.40,911.93 L113.40,916.28 L116.40,920.63 L119.90,920.63Z" fill="#7570b3"/><path d="M126.90,911.93 L122.90,911.93 L119.90,916.28 L122.90,920.63 L126.90,920.63Z" fill="#cccccc"/><path d="M130.40,911.93 L130.40,911.93 L132.90,916.28 L130.40,920.63 L130.40,920.63Z" fill="#cccccc"/><path d="M132.90,911.93 L146.00,911.93 L149.00,916.28 L146.00,920.63 L132.90,920.63Z" fill="#cccccc"/><path d="M149.00,911.93 L154.20,911.93 L157.20,916.28 L154.20,920.63 L149.00,920.63Z" fill="#cccccc"/><path d="M163.90,911.93 L161.50,911.93 L158.50,916.28 L161.50,920.63 L163.90,920.63Z" fill="#cccccc"/><path d="M170.90,911.93 L166.90,911.93 L163.90,916.28 L166.90,920.63 L170.90,920.63Z" fill="#7570b3"/><path d="M181.40,911.93 L173.90,911.93 L170.90,916.28 L173.90,920.63 L181.40,920.63Z" fill="#cccccc"/><path d="M183.30,911.93 L186.60,911.93 L189.60,916.28 L186.60,920.63 L183.30,920.63Z" fill="#7570b3"/><path d="M189.60,911.93 L197.10,911.93 L200.10,916.28 L197.10,920.63 L189.60,920.63Z" fill="#7570b3"/><path d="M200.10,911.93 L211.10,911.93 L214.10,916.28 L211.10,920.63 L200.10,920.63Z" fill="#7570b3"/><path d="M214.10,911.93 L217.00,911.93 L220.00,916.28 L217.00,920.63 L214.10,920.63Z" fill="#7570b3"/><path d="M243.30,911.93 L223.00,911.93 L220.00,916.28 L223.00,920.63 L243.30,920.63Z" fill="#7570b3"/><path d="M244.50,911.93 L251.50,911.93 L254.50,916.28 L251.50,920.63 L244.50,920.63Z" fill="#7570b3"/><path d="M254.50,911.93 L259.30,911.93 L262.30,916.28 L259.30,920.63 L254.50,920.63Z" fill="#e6ab02"/><path d="M263.10,911.93 L263.30,911.93 L266.30,916.28 L263.30,920.63 L263.10,920.63Z" fill="#7570b3"/><path d="M266.30,911.93 L268.00,911.93 L271.00,916.28 L268.00,920.63 L266.30,920.63Z" fill="#7570b3"/><path d="M292.00,911.93 L277.20,911.93 L274.20,916.28 L277.20,920.63 L292.00,920.63Z" fill="#1b9e77"/><path d="M295.70,911.93 L295.00,911.93 L292.00,916.28 L295.00,920.63 L295.70,920.63Z" fill="#cccccc"/><path d="M299.90,911.93 L298.70,911.93 L295.70,916.28 L298.70,920.63 L299.90,920.63Z" fill="#cccccc"/><path d="M314.90,911.93 L302.90,911.93 L299.90,916.28 L302.90,920.63 L314.90,920.63Z" fill="#1b9e77"/><path d="M332.00,911.93 L317.90,911.93 L314.90,916.28 L317.90,920.63 L332.00,920.63Z" fill="#1b9e77"/><path d="M364.00,911.93 L335.00,911.93 L332.00,916.28 L335.00,920.63 L364.00,920.63Z" fill="#1b9e77"/><path d="M378.80,911.93 L368.70,911.93 L365.70,916.28 L368.70,920.63 L378.80,920.63Z" fill="#e6ab02"/><path d="M399.40,911.93 L387.10,911.93 L384.10,916.28 L387.10,920.63 L399.40,920.63Z" fill="#e6ab02"/><path d="M410.60,911.93 L402.80,911.93 L399.80,916.28 L402.80,920.63 L410.60,920.63Z" fill="#cccccc"/><path d="M426.40,911.93 L420.60,911.93 L417.60,916.28 L420.60,920.63 L426.40,920.63Z" fill="#cccccc"/><path d="M441.30,911.93 L431.10,911.93 L428.10,916.28 L431.10,920.63 L441.30,920.63Z" fill="#cccccc"/><path d="M445.60,911.93 L444.30,911.93 L441.30,916.28 L444.30,920.63 L445.60,920.63Z" fill="#cccccc"/><path d="M453.50,911.93 L449.10,911.93 L446.10,916.28 L449.10,920.63 L453.50,920.63Z" fill="#e7298a"/><path d="M459.20,911.93 L456.50,911.93 L453.50,916.28 L456.50,920.63 L459.20,920.63Z" fill="#e7298a"/><path d="M467.60,911.93 L464.40,911.93 L461.40,916.28 L464.40,920.63 L467.60,920.63Z" fill="#1b9e77"/><path d="M485.40,911.93 L470.60,911.93 L467.60,916.28 L470.60,920.63 L485.40,920.63Z" fill="#1b9e77"/><path d="M509.00,911.93 L488.40,911.93 L485.40,916.28 L488.40,920.63 L509.00,920.63Z" fill="#1b9e77"/><path d="M521.00,911.93 L512.00,911.93 L509.00,916.28 L512.00,920.63 L521.00,920.63Z" fill="#1b9e77"/><path d="M552.00,911.93 L524.00,911.93 L521.00,916.28 L524.00,920.63 L552.00,920.63Z" fill="#1b9e77"/><path d="M569.20,911.93 L555.00,911.93 L552.00,916.28 L555.00,920.63 L569.20,920.63Z" fill="#1b9e77"/><path d="M576.40,911.93 L573.90,911.93 L570.90,916.28 L573.90,920.63 L576.40,920.63Z" fill="#cccccc"/></g>
<g stroke="#333" stroke-width="0.5"><line x1="325.20" y1="900.60" x2="325.20" y2="912.00"/><line x1="479.30" y1="902.50" x2="479.30" y2="912.00"/></g>
<g font-size="6.9" text-anchor="middle" fill="#000" stroke="#000" stroke-width="0.08"><text x="258.70" y="910.20">S10</text><text x="282.50" y="910.20">MTase_I</text><text x="308.40" y="910.20">mad3</text><text x="326.20" y="897.80">Specificity_I</text><text x="347.70" y="910.20">REase_I</text><text x="372.70" y="910.20">S01</text><text x="391.90" y="910.20">S27</text><text x="464.60" y="910.20">Vsr</text><text x="479.90" y="900.50">MTase_II</text><text x="495.20" y="910.20">MzaE</text><text x="516.00" y="910.20">MzaD</text><text x="537.60" y="910.20">MzaC</text><text x="560.30" y="910.20">MzaB</text></g>
<text x="89" y="957.76" text-anchor="end" font-size="7.5">SB_S3_sbin_34</text>
<text x="89" y="967.76" text-anchor="end" font-size="8.1" font-style="italic">Planctomycetota</text>
<line x1="94.2" y1="965.26" x2="585.6" y2="965.26" stroke="#333" stroke-width="0.6"/>
<line x1="103" y1="974.26" x2="576.6" y2="974.26" stroke="#b5b5b5" stroke-width="0.6"/>
<g stroke="#b5b5b5" stroke-width="0.5"><line x1="149.20" y1="974.26" x2="149.20" y2="976.26"/><line x1="198.20" y1="974.26" x2="198.20" y2="976.26"/><line x1="246.80" y1="974.26" x2="246.80" y2="976.26"/><line x1="294.90" y1="974.26" x2="294.90" y2="976.26"/><line x1="342.90" y1="974.26" x2="342.90" y2="976.26"/><line x1="390.80" y1="974.26" x2="390.80" y2="976.26"/><line x1="440.00" y1="974.26" x2="440.00" y2="976.26"/><line x1="489.10" y1="974.26" x2="489.10" y2="976.26"/><line x1="537.60" y1="974.26" x2="537.60" y2="976.26"/></g>
<g font-size="5.2" fill="#7d7d7d" text-anchor="middle"><text x="149.20" y="981.66">90,000</text><text x="198.20" y="981.66">95,000</text><text x="246.80" y="981.66">100,000</text><text x="294.90" y="981.66">105,000</text><text x="342.90" y="981.66">110,000</text><text x="390.80" y="981.66">115,000</text><text x="440.00" y="981.66">120,000</text><text x="489.10" y="981.66">125,000</text><text x="537.60" y="981.66">130,000</text></g>
<g stroke="#2e2e2e" stroke-width="0.55" stroke-linejoin="round"><path d="M103.20,960.91 L108.40,960.91 L111.40,965.26 L108.40,969.61 L103.20,969.61Z" fill="#cccccc"/><path d="M111.40,960.91 L115.40,960.91 L118.40,965.26 L115.40,969.61 L111.40,969.61Z" fill="#cccccc"/><path d="M118.40,960.91 L124.70,960.91 L127.70,965.26 L124.70,969.61 L118.40,969.61Z" fill="#cccccc"/><path d="M127.70,960.91 L128.20,960.91 L131.20,965.26 L128.20,969.61 L127.70,969.61Z" fill="#cccccc"/><path d="M135.90,960.91 L136.40,960.91 L139.40,965.26 L136.40,969.61 L135.90,969.61Z" fill="#cccccc"/><path d="M139.40,960.91 L142.90,960.91 L145.90,965.26 L142.90,969.61 L139.40,969.61Z" fill="#1b9e77"/><path d="M145.90,960.91 L157.40,960.91 L160.40,965.26 L157.40,969.61 L145.90,969.61Z" fill="#1b9e77"/><path d="M160.40,960.91 L167.90,960.91 L170.90,965.26 L167.90,969.61 L160.40,969.61Z" fill="#1b9e77"/><path d="M170.90,960.91 L183.60,960.91 L186.60,965.26 L183.60,969.61 L170.90,969.61Z" fill="#1b9e77"/><path d="M186.60,960.91 L196.00,960.91 L199.00,965.26 L196.00,969.61 L186.60,969.61Z" fill="#1b9e77"/><path d="M199.00,960.91 L199.00,960.91 L201.30,965.26 L199.00,969.61 L199.00,969.61Z" fill="#e6ab02"/><path d="M201.30,960.91 L210.70,960.91 L213.70,965.26 L210.70,969.61 L201.30,969.61Z" fill="#e6ab02"/><path d="M214.10,960.91 L242.70,960.91 L245.70,965.26 L242.70,969.61 L214.10,969.61Z" fill="#1b9e77"/><path d="M245.70,960.91 L249.40,960.91 L252.40,965.26 L249.40,969.61 L245.70,969.61Z" fill="#7570b3"/><path d="M252.90,960.91 L257.20,960.91 L260.20,965.26 L257.20,969.61 L252.90,969.61Z" fill="#cccccc"/><path d="M260.20,960.91 L288.80,960.91 L291.80,965.26 L288.80,969.61 L260.20,969.61Z" fill="#1b9e77"/><path d="M294.90,960.91 L295.30,960.91 L298.30,965.26 L295.30,969.61 L294.90,969.61Z" fill="#cccccc"/><path d="M298.30,960.91 L299.30,960.91 L302.30,965.26 L299.30,969.61 L298.30,969.61Z" fill="#cccccc"/><path d="M318.60,960.91 L308.40,960.91 L305.40,965.26 L308.40,969.61 L318.60,969.61Z" fill="#cccccc"/><path d="M326.60,960.91 L323.70,960.91 L320.70,965.26 L323.70,969.61 L326.60,969.61Z" fill="#d95f02"/><path d="M336.00,960.91 L329.60,960.91 L326.60,965.26 L329.60,969.61 L336.00,969.61Z" fill="#cccccc"/><path d="M351.40,960.91 L339.00,960.91 L336.00,965.26 L339.00,969.61 L351.40,969.61Z" fill="#d95f02"/><path d="M361.60,960.91 L354.40,960.91 L351.40,965.26 L354.40,969.61 L361.60,969.61Z" fill="#d95f02"/><path d="M371.10,960.91 L364.60,960.91 L361.60,965.26 L364.60,969.61 L371.10,969.61Z" fill="#d95f02"/><path d="M371.80,960.91 L375.40,960.91 L378.40,965.26 L375.40,969.61 L371.80,969.61Z" fill="#7570b3"/><path d="M378.40,960.91 L392.90,960.91 L395.90,965.26 L392.90,969.61 L378.40,969.61Z" fill="#cccccc"/><path d="M398.80,960.91 L398.80,960.91 L395.90,965.26 L398.80,969.61 L398.80,969.61Z" fill="#cccccc"/><path d="M407.60,960.91 L401.80,960.91 L398.80,965.26 L401.80,969.61 L407.60,969.61Z" fill="#e6ab02"/><path d="M413.40,960.91 L411.30,960.91 L408.30,965.26 L411.30,969.61 L413.40,969.61Z" fill="#cccccc"/><path d="M417.10,960.91 L416.40,960.91 L413.40,965.26 L416.40,969.61 L417.10,969.61Z" fill="#cccccc"/><path d="M421.80,960.91 L436.60,960.91 L439.60,965.26 L436.60,969.61 L421.80,969.61Z" fill="#cccccc"/><path d="M440.00,960.91 L453.60,960.91 L456.60,965.26 L453.60,969.61 L440.00,969.61Z" fill="#7570b3"/><path d="M456.60,960.91 L460.30,960.91 L463.30,965.26 L460.30,969.61 L456.60,969.61Z" fill="#d95f02"/><path d="M463.30,960.91 L473.60,960.91 L476.60,965.26 L473.60,969.61 L463.30,969.61Z" fill="#d95f02"/><path d="M478.00,960.91 L488.00,960.91 L491.00,965.26 L488.00,969.61 L478.00,969.61Z" fill="#7570b3"/><path d="M491.80,960.91 L502.70,960.91 L505.70,965.26 L502.70,969.61 L491.80,969.61Z" fill="#d95f02"/><path d="M506.50,960.91 L516.60,960.91 L519.60,965.26 L516.60,969.61 L506.50,969.61Z" fill="#d95f02"/><path d="M521.00,960.91 L531.30,960.91 L534.30,965.26 L531.30,969.61 L521.00,969.61Z" fill="#d95f02"/><path d="M534.30,960.91 L540.70,960.91 L543.70,965.26 L540.70,969.61 L534.30,969.61Z" fill="#d95f02"/><path d="M543.70,960.91 L550.70,960.91 L553.70,965.26 L550.70,969.61 L543.70,969.61Z" fill="#d95f02"/><path d="M554.80,960.91 L567.30,960.91 L570.30,965.26 L567.30,969.61 L554.80,969.61Z" fill="#7570b3"/><path d="M570.90,960.91 L570.90,960.91 L573.70,965.26 L570.90,969.61 L570.90,969.61Z" fill="#cccccc"/><path d="M573.70,960.91 L573.70,960.91 L576.40,965.26 L573.70,969.61 L573.70,969.61Z" fill="#cccccc"/></g>
<g stroke="#333" stroke-width="0.5"><line x1="130.40" y1="947.30" x2="140.20" y2="960.60"/><line x1="168.20" y1="948.30" x2="168.20" y2="960.60"/><line x1="199.50" y1="950.30" x2="199.50" y2="960.60"/><line x1="189.70" y1="969.20" x2="183.60" y2="982.40"/></g>
<g font-size="6.9" text-anchor="middle" fill="#000" stroke="#000" stroke-width="0.08"><text x="128.40" y="945.20">Specificity_I</text><text x="152.40" y="955.40">MTase_I</text><text x="166.60" y="946.20">Effector</text><text x="182.20" y="955.40">Cyclase</text><text x="202.00" y="947.70">S16</text><text x="207.90" y="957.90">S54</text><text x="230.60" y="957.90">REase_I</text><text x="276.00" y="958.60">TmtA</text><text x="404.00" y="958.60">S15</text><text x="181.00" y="987.10">Specificity_I</text></g>
<text x="593.0" y="840.6" font-size="13.6" font-weight="bold" fill="#000">Type</text>
<rect x="593.1" y="851.00" width="16.1" height="15.7" rx="1" fill="#1b9e77"/>
<text x="614.4" y="862.60" font-size="10.6" fill="#1a1a1a">Defense genes</text>
<rect x="593.1" y="871.85" width="16.1" height="15.7" rx="1" fill="#e6ab02"/>
<text x="614.4" y="883.45" font-size="10.6" fill="#1a1a1a">PDC</text>
<rect x="593.1" y="892.70" width="16.1" height="15.7" rx="1" fill="#d95f02"/>
<text x="614.4" y="904.30" font-size="10.6" fill="#1a1a1a">Transport</text>
<rect x="593.1" y="913.55" width="16.1" height="15.7" rx="1" fill="#e7298a"/>
<text x="614.4" y="925.15" font-size="10.6" fill="#1a1a1a">MGE</text>
<rect x="593.1" y="934.40" width="16.1" height="15.7" rx="1" fill="#7570b3"/>
<text x="614.4" y="946.00" font-size="10.6" fill="#1a1a1a">Function</text>
<rect x="593.1" y="955.25" width="16.1" height="15.7" rx="1" fill="#cccccc"/>
<text x="614.4" y="966.85" font-size="10.6" fill="#1a1a1a">Unknown</text>
</svg>
</body></html>
